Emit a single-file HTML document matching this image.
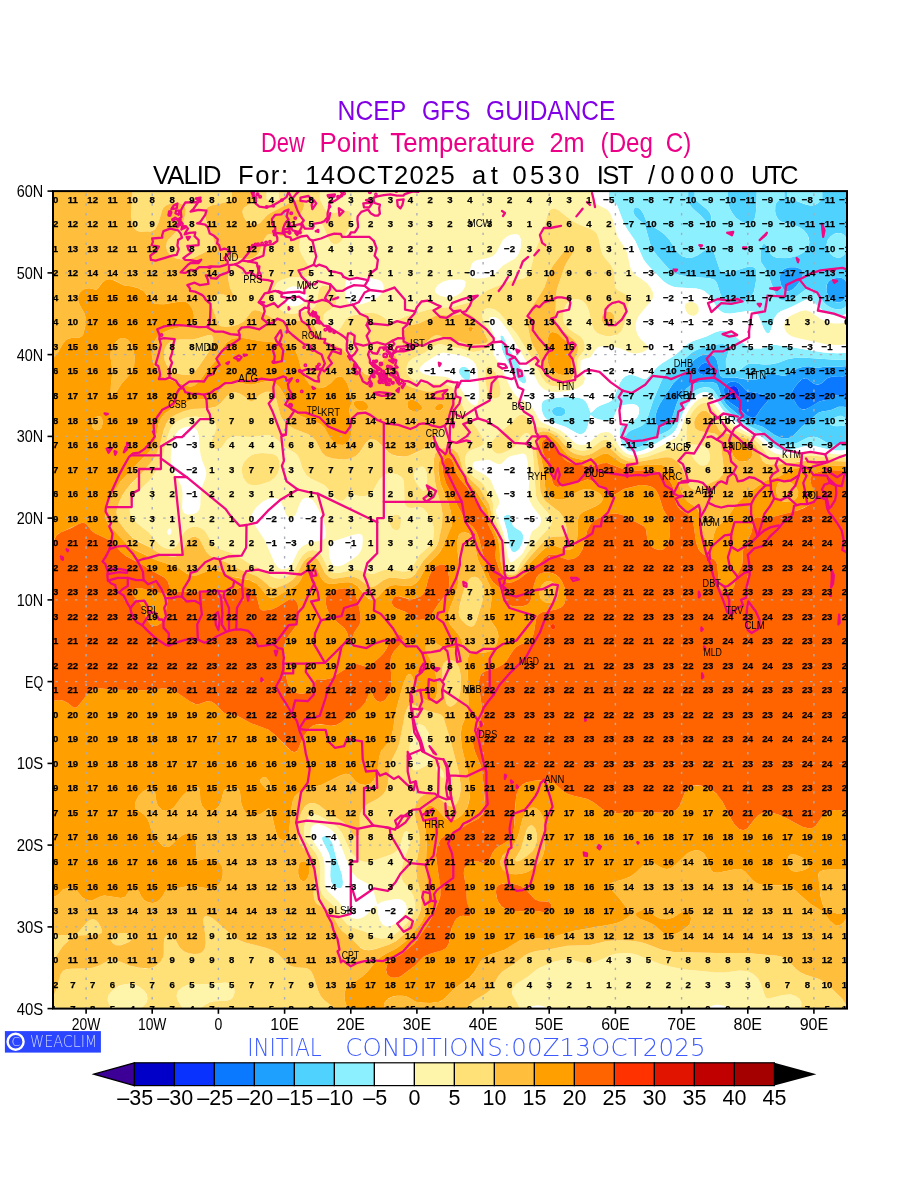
<!DOCTYPE html>
<html><head><meta charset="utf-8"><title>NCEP GFS GUIDANCE Dew Point</title>
<style>
html,body{margin:0;padding:0;background:#fff;}
svg{display:block;}
text{font-family:"Liberation Sans","DejaVu Sans",sans-serif;}
.thin{font-family:"DejaVu Sans",sans-serif;font-weight:200;}
.num text{font-size:9.6px;font-weight:bold;text-anchor:middle;fill:#000;stroke:#000;stroke-width:0.25px;}
.lab text{font-size:10px;fill:#000;}
</style></head><body>
<svg width="900" height="1200" viewBox="0 0 900 1200">
<rect width="900" height="1200" fill="#fff"/>
<defs><clipPath id="mapclip"><rect x="53.0" y="191.1" width="794.0" height="817.5"/></clipPath></defs>
<g clip-path="url(#mapclip)">
<g id="field">
<path fill="#0a32ff" fill-rule="evenodd" d="M731.2 397.5l3.3 1.3l1.7 -.1l1.8 -1.2l1 -2l.2 -2.1l-1 -4.1l-1.5 -2l-2.2 -1.2l-3.3 .2l-1.5 1l-1.2 2l0 4.1l.8 2.1z"/>
<path fill="#0a78ff" fill-rule="evenodd" d="M747.6 415.9l5.1 2l1.7 -.3l1.6 -1.1l5 -7.8l6.4 -7.1l.9 -2l.1 -2.1l-2.5 -1.9l-8.2 -2.5l-10 -1.6l-1.6 -1l-6.6 -6.9l-3.3 -1.7l-5 -.3l-3.3 1.3l-2.6 2.4l-1.4 4l.3 4.1l2 5l3.4 3.9l9.9 6.6zM731.2 397.5l-1.9 -2.1l-.8 -2l0 -4.1l1.2 -2l1.5 -1l3.3 -.2l2.2 1.2l1.5 2l1 4.1l-.2 2.1l-1 2l-1.8 1.2l-1.7 .1zM799.1 407.7l3.2 1.8l3.3 -.3l5 -2.3l8.3 -5.1l3.3 -1.1l6 -1.1l5.6 -3.4l3.3 -1.1l4.9 .6l5 2l0 -22.3l-6.6 1.6l-8.3 -.2l-3.3 .6l-1.6 .9l-5 4.7l-3.3 1.6l-1.7 .1l-3.3 -1l-6.6 -5l-1.7 -.5l-3.3 .9l-3.3 3l-4.4 5.2l-2.4 4.1l-.6 2l.2 2.1l1.7 4.1l3.8 6.1zM703.3 375l4.8 -.8l1.7 -1.2l1 -2.1l.2 -2l-1.3 -4.1l-1.7 -1.4l-1.6 -.6l-1.7 0l-3.3 1.5l-2.4 2.6l-1 2l-.1 2.1l.8 2l2.7 1.6z"/>
<path fill="#1ea0ff" fill-rule="evenodd" d="M781.9 438.4l5.6 .2l5 -2.2l9.8 -10.1l6.7 -5l6.6 -6.4l3.3 -2.4l3.3 -1.1l8.3 -1.2l8.2 -3.5l5 0l3.3 .9l0 -9.9l-5 -2l-4.9 -.6l-3.3 1.1l-5.6 3.4l-6 1.1l-3.3 1.1l-11.6 6.8l-3.3 1.1l-1.7 -.2l-3.3 -1.9l-3.1 -4l-3.4 -6.1l-.9 -4.1l1.7 -4.1l2.9 -4l4.5 -5l3.3 -2l3.3 .4l5 3.9l3.3 1.8l3.3 .2l3.3 -1.6l4.9 -4.7l1.7 -.9l3.3 -.6l8.3 .2l6.6 -1.6l0 -9.3l-6.6 .6l-14.9 -.1l-8.3 1.3l-8.2 -1.6l-5 .1l-6.6 2.2l-8.3 5.5l-3.3 1.4l-3.3 .3l-8.3 -1.7l-3.3 0l-3.7 .9l-7.9 3.8l-3.3 .7l-8.3 .2l-13.2 -2.3l-9.9 .6l-3.3 -.9l-1.3 -2.1l-2.9 -14.3l-2.4 -4.1l-1.7 -1.2l-3.3 -1.1l-6.6 .5l-5 2.1l-4.8 3.8l-10.1 13l-9.9 9.5l-13.3 20.4l-2.9 6.2l-1.7 6.1l-.1 6.1l1.5 3.2l1.6 1.1l3.3 .4l5 -1.6l3.3 -3l1.7 -2.8l5.1 -15.7l2.7 -6.1l7 -9.1l5 -3.6l5 -1.7l8.2 -1l8.3 .2l3.3 1.3l1.3 1.7l4.3 12.2l3.9 6.1l3.8 3.9l12.6 10.5l7.2 4.6l13.2 4.1l11.6 8.1zM704.7 375.1l-3.3 -.5l-2.7 -1.6l-.8 -2.1l.1 -2l1 -2l2.4 -2.6l3.3 -1.5l1.7 0l1.6 .6l1.7 1.4l1.3 4.1l-.2 2.1l-1 2l-1.8 1.3zM747.8 416l-8.3 -7.1l-9.9 -6.6l-3.4 -3.9l-2 -5l-.3 -4.1l1.4 -4l2.6 -2.4l3.3 -1.3l5 .3l3.3 1.7l6.6 6.9l1.6 1l10 1.6l8.2 2.5l2.5 1.9l-.1 2.1l-.9 2l-6.4 7.1l-5 7.8l-1.6 1.1l-1.7 .3zM833.8 301.5l4.9 1l3.3 -1l2.4 -2.1l2 -4.1l.6 -2.1l0 -9.3l-1.7 -3.6l-3.3 -2.2l-4.9 -.4l-5 1.3l-3.1 2l-1.9 2.9l-.7 5.3l.8 4.1l2 4.1l1.7 2zM786.7 291.2l2.4 0l4 -2l4.1 -4.1l3 -4.1l2.1 -4.1l.7 -4l-.7 -2.1l-2 -2l-4.6 -1.6l-6.6 0l-5 1.8l-3.3 3.6l-.7 2.3l-.3 4.1l1 5.4l2.7 4.8z"/>
<path fill="#50d2ff" fill-rule="evenodd" d="M629.5 446.6l2.5 1l3.3 .4l5.9 -1.4l3.6 -2.1l8.7 -6.9l11.5 -5.1l4 -2.3l2.7 -2.5l2.5 -3.6l6.7 -16.4l5.6 -8.7l5 -5.5l3.3 -2.8l5 -2.5l4.9 -1l5 .6l3.3 2l2.9 3.6l4.6 8.2l4.1 5.6l5 5l9.9 8.4l6.6 4.2l14.9 7l13.2 10l5 2.7l4.9 1.1l6.7 -.5l6.6 -2.4l9.9 -4.9l6.6 -1.1l5 1.3l7.6 4.5l5.2 2l7 .9l5.3 -.9l3 -1.9l0 -19.5l-.3 1l-3 1.6l-6.6 .5l-3.3 -.3l-3.3 -1.2l-1 -.6l-.4 -2.1l1.6 -2l3.2 -2l4.8 -2l1.7 -.2l1.6 .2l3.3 1.9l1.7 3.2l0 -13.5l-3.3 -.9l-5 0l-8.2 3.5l-8.3 1.2l-3.3 1.1l-3.3 2.4l-6.6 6.4l-6.7 5l-9.8 10.1l-5 2.2l-5 0l-6.6 -2.8l-13.3 -9.1l-13.2 -4.1l-7.2 -4.6l-12.6 -10.5l-3.8 -3.9l-3.9 -6.1l-4.3 -12.2l-1.3 -1.7l-3.3 -1.3l-8.3 -.2l-8.2 1l-5 1.7l-5 3.6l-7 9.1l-2.7 6.1l-5.1 15.7l-1.7 2.8l-3.3 3l-3.3 1.3l-5 -.1l-2.5 -2.2l-.8 -4.1l.7 -6.1l2.6 -7.3l13.4 -21.3l3.4 -4.1l8 -7.5l10.1 -13l4.8 -3.8l5 -2.1l6.6 -.5l3.3 1.1l1.7 1.2l2.4 4.1l2.5 13.4l1.7 3l3.3 .9l11.6 -.5l13.2 2.3l8.3 -.5l9.5 -4.3l3.7 -.9l3.3 0l8.3 1.7l3.3 -.3l3.3 -1.4l8.3 -5.5l6.6 -2.2l5 -.1l8.2 1.6l8.3 -1.3l14.9 .1l6.6 -.6l0 -6.7l-11.6 .4l-29.8 -2.1l-11.5 .3l-6.7 1.3l-9.9 3.7l-6.6 1.3l-6.6 .3l-9.9 -1.2l-5 .1l-3.3 1.4l-4.9 4l-3.4 1.8l-6.6 .7l-3.3 -1.2l-1.9 -3.3l-.1 -6.2l2.9 -10.2l0 -2l-.9 -2.1l-1.7 -1.3l-3.3 -1.1l-4.9 .3l-13.3 2.9l-6.6 2l-6.6 3.6l-11.6 10.2l-11.6 7.9l-3.7 4.1l-2.9 5.2l-8.9 21.4l-5.3 16.4l-1.8 4l-3.8 3.8l-11.6 5l-2.1 1.5l-1.6 2l-.8 2.1l-.2 4l1.7 4.1zM555.9 415.9l3.3 .5l3.3 -.6l2.3 -1.9l.7 -2.1l-.3 -2l-1.9 -2.1l-2.5 -.8l-3.3 -.2l-3.5 1l-1.8 2.1l-.2 2l.9 2.1zM830.5 307.6l5 1.7l4.9 0l3.3 -1.1l3.3 -2.7l0 -12.3l-1.3 4.2l-2 2.8l-3.3 2l-3.3 .2l-3.3 -1l-2.9 -2l-1.7 -2l-2 -4.1l-.8 -4.1l.3 -4.1l.8 -2l3 -3.2l3.3 -1.5l4.9 -.7l3.3 .4l3.3 2.2l1.7 3.6l0 -.8l0 -2.1l0 -2l0 -2.1l0 -2l0 -2l0 -2.1l0 -2l0 -2.1l0 -2l0 -2.1l0 -2l0 -2.1l0 -2l0 -2l0 -2.1l0 -2l0 -2.1l0 0l-1.2 4.1l-2.1 3.2l-3.3 1.9l-3.3 .2l-3.6 -1.2l-4.3 -4.1l-2.1 -4.1l-.5 -4.1l1.1 -4.1l2.8 -3.7l3.3 -2.3l3.3 -1l3.3 0l3.3 1.5l1.6 2l1.7 5.1l0 -50.6l-24.8 0l0 8.2l-5 4.4l-3.3 1.5l-3.3 .4l-5 -1.1l-9.9 -3.7l-8.2 -1.5l0 -8.2l-3.2 0l0 8.2l-3.5 .5l-3.1 1.5l-1.7 2.1l-.7 2l-.2 6.1l.9 4.1l2.5 4.1l2.9 2.1l16 4.5l3.4 1.6l2.8 2l3.4 4.1l1.8 4.1l.6 4.1l-.9 4.1l-4.5 5.7l-5 3.1l-8.2 2.5l-10 .5l-4.9 -.7l-3.3 -1.4l-3.2 -3.6l-3.5 -7.3l-1.6 -1.4l-1.7 .8l-1.6 5.2l-.6 8.8l.9 4.1l4.6 6.6l1.7 3.7l7.4 20.4l2.5 3.9l2.6 2.2l4 1.4l5 -.5l5.8 -2.9l10.7 -8l3.4 -1.1l1.6 0l3.3 1.5l1.7 1.5l8.2 11.1l3.3 3.1zM787.5 291.4l-3.3 -1.5l-3.1 -4.8l-1.3 -6.1l.3 -4.1l.7 -2.3l3.3 -3.6l5 -1.8l6.6 0l4.6 1.6l2 2l.7 2.1l-.1 2l-1.5 4.1l-4 5.9l-3.3 3.5l-3.3 2.2zM729.4 303.5l5.1 .5l6.6 -1l6.6 -2.8l3.4 -2.8l3 -6.2l1.9 -10.2l.2 -10.2l-.7 -2l-1.1 -1.2l-3.3 -1l-3.3 .1l-18.2 5.8l-3.4 .5l-3.3 -.4l-1.6 -1l-1.7 -2.4l-5.6 -16.8l-2.6 -3.8l-1.7 -.7l-3.3 1.4l-8.3 5.8l-4.9 2.1l-5 .7l-5 -1.2l-3.3 -2.1l-3.3 -3.3l-7 -11.2l-4.6 -5.3l-4.9 -3.9l-9.9 -5.9l-3.4 -2.8l-3.5 -8.6l-3.1 -4.7l-3.3 -1.6l-1.6 .2l-1.7 1.5l-.4 2.5l.4 1.8l1.7 3l3.3 3.4l5.3 4.1l1.2 2l5.1 18.3l3 6.3l4.6 6.1l10.8 12.3l5.3 4.1l6 2.4l10 1.5l19.8 1.4l5 1.7l2.2 3.2l3.2 10.2l1.8 4.1l3.5 4.1zM708 223.8l1.7 .1l1.6 -3.4l.1 -2.8l-1 -4.1l-3.3 -4.1l-12.4 -10.2l0 -8.2l-6.6 0l0 8.2l1.1 4.1l1.1 2l2.8 3.3l7.6 6.9zM741.3 221.8l4.8 1.8l3.3 .1l3.3 -1.6l1.6 -2.4l1.2 -4.1l.8 -6.1l.5 -18.4l-28.9 0l.1 10.2l.8 4.1l1.5 4.1l2.3 4.1l3.3 4.1z"/>
<path fill="#8cf0ff" fill-rule="evenodd" d="M337.4 888l3.4 0l1.8 -2l.4 -4.1l-1.2 -8.2l-5.1 -14.3l-4.3 -16.3l-3.2 -4.8l-1.8 -1.4l-3.1 -.8l-2 .8l-.3 2.1l.6 2l6.3 12.3l1.8 6.1l-.5 16.4l.7 5.7l2.8 4.5zM511.4 550.8l1.5 1.2l1.6 .2l3 -1.4l2 -2l3.1 -6.2l.6 -6.1l-.4 -2.2l-1.7 -2.7l-6.6 -4.4l-1.6 -1.8l-1.3 -3.2l-1.2 -6.1l-.9 -1.1l-1.6 -.4l-3.6 1.5l-.7 2l.2 2l3.1 10.3l2.7 15.9zM628.3 450.7l3.6 1.1l3.4 .2l8.2 -1.8l5 -2.4l23 -13.5l2.2 -2l2.9 -4.1l6.8 -16.4l5.1 -8.2l8 -8.3l3.3 -2l4.9 -1.3l3.3 .4l3.4 2l3.3 3.9l8.2 11.9l12.9 11.8l7 4.7l15.4 7.6l5.4 4.1l9 8.2l4.9 2.6l5 1.1l6.6 -.1l16.5 -4.2l5 -.4l5 .6l11.5 2.9l8.3 1.3l6.6 0l5 -1.1l0 -6.7l-3 1.9l-2 .6l-3.3 .3l-4.9 -.4l-7.3 -2.5l-9.3 -5.2l-3.3 -.6l-6.6 1.1l-9.9 4.9l-6.6 2.4l-6.7 .5l-4.9 -1.1l-5 -2.7l-13.2 -10l-14.9 -7l-7.3 -4.8l-9.6 -8.2l-4.6 -4.6l-4.1 -5.6l-4.6 -8.2l-2.9 -3.6l-3.3 -2l-3.3 -.6l-5 .5l-4.9 1.9l-3.3 2.4l-5 5l-6.6 9.5l-7.4 17.6l-2.5 3.6l-3.4 3l-13.2 6l-10.3 7.8l-3.6 2.1l-4.3 1.2l-4.9 -.2l-3.4 -1.7l-2.4 -3.4l-.7 -4.1l1.1 -4.1l2 -2.4l3.4 -2l9.4 -3.8l2.1 -1.5l2.2 -2.6l1.8 -4l5.3 -16.4l8.9 -21.4l3.3 -5.7l3.4 -3.6l11.5 -7.9l11.6 -10.2l6.6 -3.6l6.6 -2l13.3 -2.9l4.9 -.3l3.3 1.1l1.7 1.3l.9 2.1l0 2l-2.9 10.2l.1 6.2l1.9 3.3l1.7 .9l3.3 .4l4.1 -.6l2.5 -1l6.6 -5l3.3 -1.4l5 -.1l9.9 1.2l6.6 -.3l6.6 -1.3l10 -3.7l6.6 -1.3l11.5 -.3l29.8 2.1l11.6 -.4l0 -6.6l-9.9 .5l-13.3 -.9l-34.7 -5.7l-14.9 -1.9l-3.3 .2l-9.7 3.5l-6.8 -.1l-5 -1.2l-3.3 -1.7l-11.6 -9.8l-4.9 -3.3l-5 -1.6l-5 .2l-4.9 1.6l-8.3 3.8l-13.2 4.5l-5 2.6l-13.2 11.7l-13.3 8.3l-4.4 3.4l-10.5 11.6l-3.3 .5l-8.2 -3.3l-3.3 -.8l-3.4 0l-3.3 1.4l-3 2.8l-2.6 4.1l-5.7 14.3l-1.9 2.7l-3.3 2l-9 3.5l-3.4 2l-4.1 4.1l-1.7 .9l-2.6 -7l-2.2 -4.1l-2.1 -2l-4.7 -1.9l-9.9 -.7l-14.9 .9l-8.3 1.5l-3.3 2.2l-1.2 4.1l.7 6.1l1.7 4.1l3.7 4.1l3.9 2l14.4 4.9l11.6 6.6l3.3 .9l3.3 -1.3l2.2 -2.9l1.6 -4.1l1.2 -6.1l1.6 -5.1l4 3.1l4.3 1.5l4.9 .7l5 -.2l4.1 -2l1.4 -2.1l2.8 -6.6l1.6 -2.2l1.7 -1.1l3.3 -1l6.6 -.8l3.3 0l3.3 1l1.7 2.1l.6 2.5l-.4 4.1l-1.9 3.8l-3.3 2.8l-11.6 4.9l-1.6 2.1l-.8 2.7l.2 6.2l1.5 6.1l2.4 4.2zM555.9 415.9l-2.9 -2l-1 -2.1l.2 -2l1.8 -2.1l3.5 -1l3.3 .2l2.5 .8l1.9 2.1l.3 2l-.7 2.1l-2.3 1.9l-3.3 .6zM835.4 426.1l6.6 -.1l3.3 -.9l1.4 -1l.3 -3l-1.6 -3.1l-3.4 -2l-3.3 0l-4.8 2l-3.2 2l-1.6 2l.4 2.1l2.6 1.3zM522.6 383.2l1.9 .4l.7 -.4l.9 -1.8l-.2 -2.3l-1.5 -4.7l-17.9 -30l-2.1 -6.1l-1.2 -2.1l-1.9 -1l-1 1l1.5 12.3l1.2 4.1l6.6 13.4l4.9 8.7l5 6.3zM466.4 381.2l1.8 .3l1.6 -2.4l.4 -4.1l-.7 -4.1l-1.3 -2.2l-1.7 -1.3l-1.6 -.6l-3.3 .3l-2.2 1.8l-.7 2.1l.4 2l2.6 4.1zM765.8 332.1l1.8 1.4l1.7 -.7l1.6 -3.1l3.6 -11.9l3 -4.4l3.3 -2.2l11.6 -4.8l13.2 -6.7l3.4 -.1l3.3 1.5l9.9 8.9l3.3 2.3l5 2.3l4.9 1.1l5 0l3.3 -.7l3.3 -1.8l0 -7.7l-3.3 2.7l-3.3 1.1l-5 0l-4.9 -1.7l-3.4 -2.1l-3.3 -3.1l-8.2 -11.1l-1.7 -1.5l-3.3 -1.5l-1.6 0l-3.4 1.1l-11.5 8.5l-6.6 2.8l-3.4 .1l-4 -1.4l-2.6 -2.2l-2.5 -3.9l-7.4 -20.4l-1.7 -3.7l-4.6 -6.6l-.6 -2l.2 -10.2l1.7 -5.9l1.7 -.8l1.6 1.4l3.5 7.3l1.4 2.1l2.6 2l5.8 1.5l6.6 .2l9.8 -1.7l6.7 -3.3l5 -4.9l1.2 -2l.9 -4.1l-1.3 -6.1l-2.5 -4.1l-3.3 -3.1l-4.9 -2.6l-14.9 -4l-3.3 -2l-2.2 -2.6l-1.9 -6.2l.2 -6.1l.7 -2l1.7 -2.1l3.1 -1.5l3.5 -.5l0 -8.2l-27.5 0l-.3 16.3l-1.5 10.3l-2.3 4.4l-1.6 1.1l-3.4 .6l-3.3 -.7l-4.9 -2.5l-3.6 -2.9l-3.3 -4.1l-2.3 -4.1l-2 -6.1l-.4 -12.3l-33.1 0l0 8.2l12.4 10.2l3.3 4.1l.7 2l.3 4.1l-.5 2.1l-1.3 2.1l-1.7 -.1l-1.6 -1.6l-5 -5.9l-8.2 -7.6l-2.8 -3.3l-1.1 -2l-1.1 -4.1l0 -8.2l-79.4 0l0 8.2l5 2.7l3.3 3.6l7 18.2l2.9 5.2l8.3 12.1l8.2 18.3l4 5.3l15.9 16.6l5 3.5l4.9 1.9l5 .7l18.2 1.1l4.9 1.2l3.3 1.5l4.5 4.1l8.8 13.6l3.3 2.8l3.3 1.5l6.6 .3l16.5 -2.5l3.4 .2l3.3 .9l2.4 1.6l1.7 2.1l4.1 10.6zM729.6 303.5l-4.1 -2.1l-3.6 -4l-1.8 -4.1l-3.2 -10.2l-2.2 -3.2l-5 -1.7l-19.8 -1.4l-10 -1.5l-6 -2.4l-5.3 -4.1l-10.8 -12.3l-4.6 -6.1l-3 -6.3l-5.1 -18.3l-1.2 -2l-5.3 -4.1l-3.3 -3.4l-1.7 -3l-.4 -1.8l.4 -2.5l1.7 -1.5l1.6 -.2l3.3 1.6l3.1 4.7l3.5 8.6l3.4 2.8l9.9 5.9l4.9 3.9l4.6 5.3l7 11.2l3.3 3.3l3.3 2.1l5 1.2l5 -.7l4.9 -2.1l8.3 -5.8l3.3 -1.4l1.7 .7l2.6 3.8l5.6 16.8l1.7 2.4l1.6 1l3.3 .4l3.4 -.5l18.1 -5.8l3.4 -.1l3.3 1l1.1 1.2l.7 2l-.2 10.2l-1.9 10.2l-3 6.2l-3.4 2.8l-6.6 2.8l-6.6 1zM833.5 256.5l3.6 1.2l3.3 -.2l3.3 -1.9l2.1 -3.2l1.2 -4.1l0 -6.6l-1.7 -5.1l-1.6 -2l-1.7 -1l-3.3 -.6l-4.9 1.1l-2.9 2l-1.9 2l-1.8 3.6l-.5 4.6l1.3 4.1l2.8 4.1zM809.1 205.4l3.2 .1l3.3 -.9l3.3 -2l3.3 -3.3l0 -8.2l-34.7 0l0 8.2l9.9 2z"/>
<path fill="#ffffff" fill-rule="evenodd" d="M529.4 1008.6l1.7 0l18.1 0l-6.6 -2.5l-4.9 -.9l-5 .8zM708 1008.6l1.7 0l18.1 0l-1.7 -1.5l-3.3 -1.6l-4.9 -.7l-3.3 .2l-3.3 1zM783.3 1008.6l.8 0l3.4 0l-1.7 -.2zM383 924.8l4.1 1.8l3.3 -.4l5 -2.8l5 -4.2l4 -4.6l2 -4.1l.3 -4.1l-1.4 -3.6l-3.3 -2.8l-3.3 -1l-3.3 -.1l-9.9 1.8l-4.6 1.6l-3.7 2.3l-3.3 -12.5l-3.3 -6.1l-3.3 -2.6l-9.9 -5.1l-5 -5.6l-6.6 -14.5l-6.4 -17.2l-3.5 -6.5l-5 -5l-6.6 -3.8l-6.6 -1.9l-3.9 .9l-2 2l-1 2l-.3 6.2l2.6 6.1l8.2 12.3l2.4 6.1l.9 6.1l.1 18.4l1.2 4.1l1.7 3.1l11.6 11.2l8.2 12.4l5 3.6l5 .7l3.3 -.7l3.3 -1.5l2.9 -2.2l8.7 -9.3l1 1.1l2.7 12.3l1.9 4.1zM337.5 888.1l-3.9 -2.1l-2.7 -4.5l-.7 -5.7l.5 -16.4l-1.8 -6.1l-6.3 -12.3l-.6 -2l.3 -2.1l2 -.8l3.1 .8l1.8 1.4l3.2 4.8l4.3 16.3l5.1 14.3l1.2 8.2l-.4 4.1l-1.8 2zM281.3 569.2l5 -.2l3.2 -2.1l3.4 -4.8l4.9 -10.5l2.1 -2.8l2.9 -2.8l6.6 -3l13.2 -3l2.1 -1.5l.8 -2l.3 -4.1l-.7 -6.1l-3.2 -10.2l-6.4 -12.3l-2.8 -3.5l-3.3 -2.1l-3.3 -.5l-1.7 .4l-2.3 1.6l-2.4 4.1l-3.8 10.2l-1.5 2.1l-3.2 2l-1.7 -.2l-1.6 -1.1l-1.7 -2.4l-5.2 -12.6l-3 -2.9l-3.3 -1.1l-5 .4l-7.3 3.6l-6.7 6.1l-3.7 6.1l-.5 4.1l1.3 4.1l12.1 18.4l9.7 22.5l3.1 4zM333.2 565.1l2.7 1.3l1.6 .2l5 -1.2l4.3 -2.3l11.2 -8.2l2.9 -4.1l1.4 -4.1l.6 -8.2l-.6 -2.9l-.9 -1.1l-2.4 -.7l-6.6 1.2l-18.2 6.1l-3.3 1.5l-1.6 2.1l-.5 2l0 6.1l1.7 8.2zM509.2 561l.3 .8l1.7 .8l1.7 -.8l6.6 -5.2l3.3 -3.6l5.6 -10.4l2.7 -9.3l1.6 -2.5l3.3 -2l2.7 -2.5l1.4 -2.1l.9 -2.9l-.2 -3.2l-.8 -2l-7.9 -10.3l-2.9 -6.1l-.7 -6.1l.8 -12.3l-1.8 -20.4l-1.4 -5.3l-1.7 -1.7l-1.6 -.3l-9.9 1.9l-3.3 1.1l-3.2 2.2l-5.1 4.9l-1.7 .5l-3.3 -.7l-6.6 -3.4l-3.3 -.4l-11.6 1.7l-1.7 1.5l-.5 2.1l.3 2l1.9 2.4l9.9 5.4l5 4l1.6 2.5l3.4 8.8l3.8 7.6l1 4.1l-.2 2l-3.4 6.1l.4 3.7l7.6 20.9l4 22zM512.9 552l-1.7 -1.4l-1.6 -4.3l-2.7 -15.9l-3.1 -10.3l-.2 -2l.7 -2l3.6 -1.5l1.6 .4l.9 1.1l1.2 6.1l1.3 3.2l1.6 1.8l6.6 4.4l1.7 2.7l.4 2.2l-.6 6.1l-3.1 6.2l-3.3 2.9l-1.7 .5zM168 534.5l.8 .6l1.8 -.6l.9 -4.1l-1.1 -2.1l-1.6 .4l-1.2 1.7l-.5 2zM185.3 514l3.4 .7l4.9 -.6l3.3 -1.7l2.2 -2.5l1.2 -4.1l.5 -14.3l1 -4.1l4 -10.2l.6 -4.1l-.8 -4.1l-3.3 -8.1l-1.7 -6.2l-1.1 -8.1l-.7 -10.2l-.9 -4.1l-1 -2.1l-2 -2l-3 -1.3l-3.3 -.4l-3.3 .4l-3.5 1.3l-3.1 2.1l-3.2 4l-1.8 4.1l-1.6 6.1l-1.3 12.3l.1 6.1l1.2 6.1l1.8 4.1l5.2 8.2l2.6 6.1l.9 6.2l-.5 14.3l1 4.1zM629.5 454.7l7.4 .5l9.9 -2.3l6.7 -3l21.5 -11.6l2.1 -1.9l2.7 -4.1l5.7 -16.4l4.4 -7.5l3.9 -4.8l4.3 -4l3.3 -1.9l3.3 -.7l3.3 .6l3.4 2.6l9.9 13.2l9.9 9.5l7.6 5.3l17.2 8.6l4.6 3.6l8.7 9.4l4.9 3.2l5 1.4l6.6 .3l6.6 -.7l13.2 -2.8l5 -.3l24.8 3.4l6.6 .1l5 -.7l0 -4.4l-5 1.1l-6.6 0l-6.6 -1l-16.5 -3.7l-6.7 .3l-11.5 3.3l-6.6 1.1l-6.7 -.3l-4.9 -1.6l-5 -3.2l-11.6 -10.2l-17.5 -9l-7.3 -5.1l-11.6 -10.8l-10.4 -14.7l-2.8 -2.3l-3.3 -1.1l-3.3 .1l-5 2l-3.3 2.5l-4.9 5.2l-3.4 4.4l-3.1 5.5l-6.8 16.4l-1.6 2.5l-3.3 3.5l-24.7 14.4l-5.1 2.2l-5 1.1l-4.9 -.1l-3.4 -1l-3.2 -2.2l-1.7 -1.9l-3.1 -6.3l-1.1 -8.1l.6 -4.1l1.9 -2.8l11.6 -4.9l3.3 -2.8l1.9 -3.8l.4 -4.1l-.6 -2.5l-1.7 -2.1l-3.3 -1l-3.3 0l-6.6 .8l-3.3 1l-1.7 1.1l-1.6 2.2l-2.8 6.6l-1.4 2.1l-4.1 2l-5 .2l-4.9 -.7l-4.3 -1.5l-4 -3.1l-1.6 5.1l-1.2 6.1l-1.6 4.1l-2.2 2.9l-3.3 1.3l-3.3 -.9l-11.6 -6.6l-14.4 -4.9l-3.9 -2l-2.3 -2l-2.4 -4.1l-1.1 -4.1l-.3 -4.1l1.2 -4.1l1.7 -1.5l3.3 -1.2l16.5 -1.8l13.3 .3l4.9 1.4l3.5 2.8l2.2 4.1l2.6 7l1.7 -.9l4.1 -4.1l3.4 -2l9 -3.5l3.3 -2l1.9 -2.7l5.7 -14.3l2.6 -4.1l3 -2.8l3.4 -1.4l3.3 0l3.3 .8l8.2 3.3l3.3 -.5l10.5 -11.6l4.4 -3.4l13.3 -8.3l13.2 -11.7l5 -2.6l13.2 -4.5l8.3 -3.8l4.9 -1.6l5 -.2l5 1.6l4.9 3.3l11.6 9.8l3.3 1.7l5 1.2l6.8 .1l9.7 -3.5l3.3 -.2l14.9 1.9l34.7 5.7l13.3 .9l9.9 -.5l0 -8.4l-9.9 .7l-9.9 -.7l-31.5 -6.9l-4.9 -1.8l-3.3 -2.2l-2.5 -3.4l-.8 -4.1l.7 -4.1l3 -4.1l6.6 -4.1l7.8 -3l3.3 -.4l3.4 .7l14.8 9.7l6.7 2.1l4.9 .7l6.6 -.1l5 -1.5l0 -8.7l-3.3 1.8l-3.3 .7l-5 0l-4.9 -1.1l-5 -2.3l-3.3 -2.3l-9.9 -8.9l-3.3 -1.5l-3.4 .1l-13.2 6.7l-11.6 4.8l-3.3 2.2l-3 4.4l-3.6 11.9l-1.6 3.1l-1.7 .7l-1.7 -1.1l-1.6 -2.4l-5.8 -14.2l-1.7 -2.1l-2.4 -1.6l-3.3 -.9l-3.4 -.2l-18.1 2.7l-3.4 -.1l-3.3 -1l-4.9 -3.7l-8.8 -13.6l-4.5 -4.1l-3.3 -1.5l-4.9 -1.2l-18.2 -1.1l-5 -.7l-6.6 -2.9l-5 -4l-14.2 -15.1l-4 -5.3l-8.2 -18.3l-8.3 -12.1l-2.9 -5.2l-7 -18.2l-3.3 -3.6l-5 -2.7l0 -8.2l-16 0l0 8.2l1.1 2.3l3.3 2.8l9.8 5.1l3.5 4.2l2.4 6l4.5 16.4l2.1 4l5.6 8.2l1.9 4.1l3.1 14.3l1.7 4.1l3.6 4.1l11.5 8.2l3.4 4.1l2.2 4l.9 4.1l-1.1 4.1l-13.5 16.4l-2.1 4.1l-.9 4l.2 6.2l1.3 4.1l2.9 4.6l8.3 7.6l-.3 2.1l-2.4 2l-3.9 2l-6.6 1.1l-5 -.8l-9.9 -4.2l-6.6 -1.5l-10 -1.1l-4.9 .8l-3.3 2.7l-5 7.4l-1.6 .9l-5 .9l-3.4 2l-.3 10.2l4.4 6.2l.3 2l-1.5 4.1l-1.7 2.1l-4.4 2.9l-8.3 2.5l-11.6 1.2l-8.2 -.5l-5.5 -2.1l-4.5 -4.4l-9.2 -18l-7.9 -12.3l-13.3 -22.5l-7.6 -10.5l-3.3 -3.1l-3.3 -1.6l-1.7 -.2l-3.3 1.2l-1.1 2l-.2 2l1.3 4.3l5.7 12.1l-.2 4l-2.2 8.2l.5 4.1l8.4 14.3l9.3 20.1l3.3 5.2l3.3 3.3l9.9 5.7l3.4 2.8l2.6 3.8l4.1 8.2l3.2 3.7l4.2 2.4l15.6 6.5l5 3.7l8.3 8l3.3 1.9l3.3 .9l4.9 -.5l3.4 -1.6l8.2 -7.7l3.3 -2.2l5 -1.2l3.3 .4l3.1 2l1.9 2.3l5.4 10l2.8 3.5l3.3 2.8zM693.2 315.8l-3.3 -.8l-1.7 -1.1l-2.7 -4.3l-.6 -4.1l1.1 -2l2.2 -1.3l3.3 -.4l3.3 1l2.9 2.8l.9 2l-.1 4.1l-1.2 2l-2.5 1.8zM522.8 383.3l-3.3 -2.4l-5 -6.2l-4.9 -8.7l-6.6 -13.4l-1.2 -4.1l-1.5 -12.3l1 -1l1.9 1l1.2 2.1l2.1 6.1l17.9 30l1.5 4.7l.2 2.3l-.9 1.8l-.8 .4zM471 403.6l2.2 1.4l1.6 .4l1.7 -.4l1.6 -2.2l.9 -5.3l-.2 -10.2l-1.4 -16.4l-1.5 -6.1l-3.1 -4.1l-4.6 -2.6l-8.3 -2.8l-16.5 -2.7l-3.3 .8l-5 2.7l-10.3 6.7l-4.4 4.1l-.9 2l.4 2.1l2.1 2l3.2 1.5l4.9 1.2l14.9 1l3.3 1l3.4 1.8l4.4 3.7l3.6 4.1l8.5 13.3zM466.5 381.2l-4.8 -4.2l-2.6 -4l-.4 -2l.7 -2.1l2.2 -1.8l3.3 -.3l1.6 .6l1.7 1.3l1.3 2.2l.7 4.1l-.3 4l-1.7 2.4zM289.2 305.6l3.7 .8l4.9 -.7l4.6 -2.2l2.3 -2l1.4 -2.3l.6 -3.9l-1.5 -4.1l-1.9 -2l-3.8 -2.1l-5 -.8l-5 .8l-3.3 2.1l-2.7 4.1l-.4 4.1l1.5 4.2l1.6 2zM349.4 303.5l4.6 1.6l6.7 -.6l8.8 -3l7.7 -4.1l2.6 -2.1l3 -4.1l.9 -4l-1.2 -4.1l-1.8 -2.1l-1.8 -1l-8.3 -1.9l-14.9 -.8l-4.9 .4l-3.4 1.3l-1.6 2l-.6 2.1l-.2 8.1l1.6 8.2l1 2.1zM446.2 297.4l3.8 0l3.3 -.7l3.7 -1.4l3.2 -2l2.1 -2.1l2.5 -4l1 -4.1l-.6 -2.1l-2 -1.1l-3.3 -.5l-9.9 .3l-6.6 1.9l-5.6 3.5l-2.7 4.1l0 2l1.1 2.1l3.9 2.5zM470.5 276.9l2.6 1.3l5 .5l6.6 -.7l5 -1.3l6.2 -3.8l7 -7.3l12.1 -7.1l3.4 -4l2.3 -6.2l.5 -8.2l-1.7 -4.5l-1.7 -1l-3.3 -.5l-3.3 .6l-3.6 1.4l-4.7 4l-6.6 12.5l-3.3 3.5l-5 2l-11.5 2.2l-3.3 1.8l-1.9 2.6l-1.1 4.1l-.3 6.1z"/>
<path fill="#fff5aa" fill-rule="evenodd" d="M53 1008.6l1.7 0l5.2 0l-1.9 -.9l-5 -.6zM110.6 1006.6l1.9 2l27.6 0l3.1 -2l3.4 -4.1l1 -4.1l-.2 -2.1l-1.8 -4l-1.7 -2.1l-3.2 -2.7l-3.3 -1.9l-6.7 -1.7l-4.9 .1l-3.3 .8l-7.1 3.4l-2.7 2l-3.7 4.1l-1 2l-.4 4.1l.6 2.1zM181.4 1006.6l1.3 2l17.9 0l6.2 -4.9l5 -2l16.7 -1.3l3.2 -1.7l1.7 -2.4l1.2 -4l-.4 -4.1l-.9 -2.3l-1.7 -1.8l-4.9 -1.6l-16.6 1.7l-16.5 -.3l-6.6 1.2l-3.3 1.4l-3.3 2.1l-3.1 3.6l-.6 2.1l.3 4.1zM480.6 1008.6l.8 0l12.6 0l-2.6 -1.7l-3.4 -.4l-3.3 .5zM518.9 1006.6l.8 2l9.7 0l3.3 -2.6l5 -.8l4.9 .9l6.6 2.5l158.8 0l3.4 -2.6l3.3 -1l3.3 -.2l4.9 .7l3.3 1.6l1.7 1.5l73.3 0l.3 -4.1l-.8 -4.1l-1.3 -2l-2.8 -2.1l-4.2 -1.4l-8.3 -.3l-14.8 3.9l-1.7 .1l-1.7 -.6l-1.6 -3l-3.3 -10.9l-3.3 -6.1l-4.4 -4.1l-5.5 -2.6l-8.3 -.8l-14.9 1.9l-8.3 .2l-31.4 -3.1l-11.6 -2.2l-13.2 -3.4l-24.8 -9.6l-5 -1l-6.6 -.4l-6.2 .5l-5.4 1.3l-14.9 6.6l-6.6 1.9l-6.6 -.1l-11.6 -3l-6.6 -.6l-11.1 2.1l-12.1 4.4l-6.2 3.8l-8.7 6.9l-9.9 6.1l-3.3 2.8l-1.6 2.4l-.8 2.2l.1 4.1zM827.1 1008.6l9.9 0l.7 0l-5.6 -1.1zM374.3 937.1l4.6 1.3l4.9 0l5 -1.1l5 -2.4l5.1 -4l8.3 -8.1l4.7 -6.2l2 -4.1l1.1 -4l.2 -4.1l-1.6 -8.2l-3.3 -6.2l-7 -8.1l-1.2 -2.1l-1.1 -4l.5 -6.2l2.4 -10.2l4.7 -11.7l1.7 -5.9l0 -4.9l-1.6 -4.1l-1.7 -1.6l-1.7 .1l-1.3 1.5l-4.5 14.3l-2.4 3.5l-3.3 2.6l-3.4 1.6l-18.1 6.3l-5 .8l-3.3 -.2l-3.3 -1l-3.3 -1.9l-5 -5l-3.3 -5.4l-7.3 -15.6l-5 -6.1l-5.9 -4.4l-11.6 -6.6l-4.9 -1.5l-3.3 .4l-3.4 2.7l-2.6 5.3l-1.2 6.1l.2 6.2l2.1 6.1l9.6 12.3l3.5 7.4l1 6.9l-.6 18.4l.7 4.1l1.7 4.1l3.1 4l9.2 8.2l8.1 12.5l4.9 5.5l5 3l13.2 4.6zM383.8 925.4l-1.7 -1.5l-2 -3.2l-2 -6.1l-1.5 -8.2l-1 -1.1l-8.7 9.3l-2.9 2.2l-3.3 1.5l-3.3 .7l-5 -.7l-5 -3.6l-8.2 -12.4l-11.6 -11.2l-1.7 -3.1l-1.2 -4.1l-.1 -18.4l-.9 -6.1l-2.4 -6.1l-8.2 -12.3l-2.6 -6.1l.3 -6.1l1 -2.1l2 -2l3.9 -.9l6.6 1.9l6.6 3.8l5 5l3.5 6.5l6.4 17.2l6.6 14.5l5 5.6l9.9 5.1l3.3 2.6l3.3 6.1l3.3 12.5l3.7 -2.3l4.6 -1.6l9.9 -1.8l3.3 .1l3.3 1l3.3 2.8l1.4 3.6l-.3 4.1l-2 4.1l-3.5 4.1l-5.5 4.7l-5 2.8l-3.3 .4zM442.2 777.7l1.2 .4l.5 -.4l.4 -2.1l-.9 -3.2l-3.3 -4.4l-1.7 -1.1l-1.6 -.2l-.6 .7l.2 2.1l.8 2l2.6 4.1zM413 769.5l2.3 .8l3.3 -.9l11.6 -6l2.1 -2.1l.3 -4.1l-.9 -8.2l-1.6 -10.2l-1.6 -6.1l-3.3 -5.5l-1.7 -1.4l-3.3 -1.5l-3.3 .3l-3.3 3.2l-1.6 3.7l-1.7 7.3l-.8 10.2l.3 10.3l1 6.1l1.2 3zM273.2 577.4l3.1 1l5 0l4.9 -1.4l3.3 -1.8l2.3 -1.9l2.7 -3.6l5 -9.8l3.3 -4.9l4.9 -3.8l5 -1.1l3.3 .6l3.5 2.1l3.1 4.4l5.7 12l2.6 2.6l3.3 1.3l5 0l11.6 -2.9l3.3 -.4l4.9 .5l11.6 3.8l3.3 -.4l8.3 -3.3l4.9 -1l5 .2l9.9 2l5 -.3l3.3 -1.8l1.7 -1.8l7.4 -12.8l9.1 -7.9l3.3 -4.4l1.5 -4.1l.6 -4l-.2 -6.2l-.9 -4.1l-4.3 -9.1l-5 -6.7l-3.3 -1.3l-8.2 .8l-3.4 -.2l-2.7 -1.9l-.9 -2l-.6 -4.1l-.4 -18.4l-2.1 -4.1l-4.8 -3l-6.7 -1.3l-3.3 .6l-3.5 1.7l-4.7 5l-6.6 11.6l-3.4 2.9l-3.3 1.2l-4.9 .3l-4 -.6l-5.9 -2l-1.7 .5l-5 5.8l-1.6 .8l-3.3 0l-5 -3l-6.6 -9.4l-2.8 -2.9l-3.3 -2l-10.4 -4.7l-4.6 -3.5l-3.9 -6.2l-3.1 -10l-2.3 -4.3l-2.7 -2.3l-9.9 -5.1l-6.4 -6.9l-5.2 -3.9l-3.3 -1.2l-3.3 -.3l-14.9 2.1l-14.9 -.8l-4.9 .5l-3.1 1.6l-1.9 1.9l-5 6.9l-1.8 1.4l-3.1 .8l-1.7 -.3l-1.6 -1.3l-1.7 -3.3l.1 -4.1l4.5 -12.2l-.5 -4.1l-2.4 -3l-1.7 -1.1l-5.4 -2l-11.1 -1.6l-10 1.4l-8.2 3.5l-5 4.6l-2.4 4.3l-2 6.2l-5.5 21.7l-2.9 6.9l-3.7 6.7l-6.7 9.5l-13.2 12.3l-4 6.2l-1.8 6.1l-.3 4.1l.8 4.1l2 4.1l5 5.5l11.5 8.9l10.5 12.2l4.4 3l5 1.4l3.3 -.3l3.6 -2.1l2.9 -4.1l5.1 -9.8l3.3 -3.5l3.3 -1.8l3.3 -.7l3.3 0l3.3 .9l3.3 2l1.7 1.6l6.6 11.3l1.7 2.2l3.3 2.7l3.3 1.7l11.6 3.7l4.9 2.2l11.6 8l14.9 7zM281.3 569.2l-3.5 -2l-3.2 -4.1l-9.7 -22.5l-12.1 -18.4l-1.3 -4.1l.5 -4.1l3.7 -6.1l6.7 -6.1l7.3 -3.6l5 -.4l3.3 1.1l3 2.9l5.2 12.6l1.7 2.4l1.6 1.1l1.7 .2l3.2 -2l1.5 -2.1l3.8 -10.2l2.4 -4.1l2.3 -1.6l1.7 -.4l3.3 .5l3.3 2.1l2.8 3.5l6.4 12.3l3.2 10.2l.7 6.1l-.3 4.1l-.8 2l-2.1 1.5l-13.2 3l-6.6 3l-2.9 2.8l-2.1 2.8l-4.9 10.5l-3.4 4.8l-3.3 2.1zM334.2 565.8l-1.7 -1.3l-1.6 -2.6l-1.9 -7l-.2 -8.2l.5 -2l1.6 -2.1l3.3 -1.5l18.2 -6.1l6.6 -1.2l2.4 .7l.9 1.1l.6 2.9l-.6 8.2l-1.4 4.1l-2.9 4.1l-5.2 4.1l-9.6 6.1l-5.7 1.5zM392.1 528.3l-2.1 -4.1l-.2 -4.1l.6 -2l1.7 -2l1.7 -.9l3.3 -.6l1.6 .5l1.7 2l.6 3l-.6 6.9l-1.7 2.4l-1.6 .8l-1.7 0zM168.8 535.1l-.8 -.6l-.9 -2.4l.5 -1.7l1.2 -1.7l1.6 -.4l1.1 2.1l-.1 2l-1 2.2zM185.3 514l-2.2 -2.1l-1 -4l.5 -14.3l-.9 -6.2l-2.6 -6.1l-5.2 -8.2l-1.8 -4.1l-1.2 -6.1l-.1 -6.1l1.3 -12.3l1.6 -6.1l1.8 -4.1l3.2 -4l3.1 -2.1l3.5 -1.3l3.3 -.4l3.3 .4l3 1.3l2 2l1 2.1l.9 4.1l.7 10.2l1.1 8.1l1.7 6.2l3.3 8.1l.8 4.1l-.6 4.1l-4 10.2l-1 4.1l-.5 14.3l-1.2 4.1l-2.2 2.5l-3.3 1.7l-5 .6zM248.2 483.6l-2.6 -2.3l-2.4 -3.7l-1.6 -6.5l.4 -4.1l1.2 -3.3l1.7 -2.8l3.3 -3.5l3.3 -2.2l3.3 -1.3l6.6 -.9l10 .7l3.3 1.1l2.7 2l2 4.1l.3 6.1l-1.7 6.1l-3.3 4.7l-5 3.6l-9.9 3.4l-6.6 .5zM508.4 571.2l2.8 1.3l1.7 -.1l2.6 -1.2l1.9 -2l3 -6.1l9 -12.7l9.9 -12.2l9.3 -9.9l2.7 -4.1l.5 -2l.1 -2.1l-1.4 -4l-11.2 -13.3l-1.9 -3.1l-1.5 -4.1l-2.7 -38.8l-2.1 -15.1l-1.7 -7.3l-1.7 -1.5l-3.3 .8l-3.3 3.1l-4.7 7.7l-1.9 2.2l-3.3 2.4l-9.9 4.5l-3.3 .2l-2.5 -1.1l-2.5 -2l-2.7 -4.1l-.1 -2.1l1 -2l5.1 -6.1l5 -5.1l9.9 -8.3l5 -5.6l3.3 -2.3l3.3 -.5l3.3 1.3l3.3 4.1l3.3 6.1l1.7 .8l8.2 .6l5 1.1l8.5 3.7l6.4 4.7l8.8 9.6l2.8 1.9l3.3 1.4l4.9 .8l5 -.7l5 -2.5l8.2 -6.3l3.3 -1.4l3.3 -.1l3.4 1.7l8.2 10.1l5 4.2l5 2.2l6.6 .7l6.6 -.7l6.6 -1.7l23.2 -8.5l14.8 -2.4l1.7 1.8l3.2 7.6l3.9 6.2l4.5 4l3.3 .8l3.3 -1l1.6 -1.6l1.2 -2.2l.6 -2.1l0 -4.1l-1.2 -4l-1.4 -2.1l-2.4 -2l-3.4 -1.3l-4.9 -.6l-8.3 -.2l-1.5 -4.1l-.4 -8.1l1.3 -10.3l3.5 -8.1l3.7 -4.9l3.3 -3.3l3.3 -2.1l3.3 -.8l3.2 .8l1.8 1.4l9.9 12.6l8.3 8.2l6.7 4.4l14.5 6.2l5.3 3.1l5.2 5l7.5 10.2l2.2 1.8l3.3 1.5l4.9 1l6.6 .1l21.5 -3.3l5 -.2l23.2 2.1l9.9 .2l3.3 -.3l0 -3.9l-5 .7l-6.6 -.1l-24.8 -3.4l-5 .3l-13.2 2.8l-6.6 .7l-6.6 -.3l-5 -1.4l-4.9 -3.2l-8.7 -9.4l-4.6 -3.6l-17.2 -8.6l-7.6 -5.3l-9.9 -9.5l-9.9 -13.2l-3.4 -2.6l-1.6 -.5l-3.3 .1l-4.8 2.4l-3.5 2.9l-4.5 5.2l-4.8 8.2l-5.7 16.4l-2.7 4.1l-2.1 1.9l-23.2 12.4l-6.6 2.8l-6.6 1.6l-5 .3l-3.3 -.4l-3.3 -1.2l-3.3 -2.1l-4.5 -5.1l-5.6 -10.2l-1.7 -2.1l-3.1 -2l-3.3 -.4l-5 1.2l-3.3 2.2l-8.2 7.7l-3.4 1.6l-4.9 .5l-3.3 -.9l-3.3 -1.9l-8.3 -8l-5 -3.7l-16.5 -7l-2.9 -1.6l-2.1 -1.9l-5.6 -10.3l-2.6 -3.8l-3.4 -2.8l-9.9 -5.6l-3.8 -4.2l-4.4 -7.5l-8.3 -18.1l-7.8 -13.2l-.5 -4.1l2.2 -8.2l.2 -4.1l-6.6 -14.3l-.2 -4l1.2 -2.1l1.6 -.9l3.3 0l3.3 1.6l3.5 3.4l7.4 10.2l13.3 22.5l7.9 12.3l9.2 18l4.5 4.4l5.5 2.1l8.2 .5l11.6 -1.2l8.3 -2.5l4.4 -2.9l1.7 -2.1l1.5 -4.1l-.3 -2l-4.4 -6.2l.3 -10.2l3.4 -2l5 -.9l1.6 -.9l5 -7.4l3.3 -2.7l4.9 -.8l10 1.1l6.6 1.5l9.9 4.2l5 .8l6.6 -1.1l3.9 -2l2.4 -2l.3 -2.1l-8.3 -7.6l-2.9 -4.6l-1.3 -4.1l-.2 -6.2l.9 -4l2.1 -4.1l13.5 -16.4l1.1 -4.1l-.9 -4.1l-2.2 -4l-3.4 -4.1l-11.5 -8.2l-3.6 -4.1l-1.7 -4.1l-3.1 -14.3l-1.9 -4.1l-5.6 -8.2l-2.1 -4l-4.5 -16.4l-2.4 -6l-3.5 -4.2l-9.8 -5.1l-3.3 -2.8l-1.1 -2.3l0 -8.2l-272.9 0l0 8.2l4.4 8.9l3.3 3.8l1.6 .7l3.4 .3l14.8 -2.5l1.7 .4l1.6 1.5l1 3.2l-.1 4.1l-2.4 8.2l-3.4 6.7l-3.8 5.5l-4.5 3.6l-3.3 .5l-3.3 -1.8l-1.7 -2.2l-5 -12.3l-1.6 -3.1l-1.6 -1.7l-3.3 -1.1l-3.3 .4l-3.3 1.4l-3.4 2.5l-3.3 4l-3 5.8l-1.7 6.1l-.4 4.1l.6 4.1l1.6 4.1l8.6 14.3l.9 4.1l-.5 2l-1.1 1l-3.3 1l-16.6 .7l-8.2 2.3l-3.3 2.2l-2.5 3l-1.6 4.1l-.5 6.1l.6 4.1l1.5 4.1l2.5 3.9l2.1 2.2l3 2.1l4.8 1.8l3.3 .4l5 -.3l11.5 -3.1l6.7 -3.5l2.2 -3.5l2.5 -14.3l1.9 -2.8l1.6 -.8l3.3 -.2l5 1.7l3.3 3.3l1.7 3.5l.7 5.5l-.6 4.1l-2.6 4.1l-6.6 4.1l-2.2 2l-1.2 4.1l.4 4.1l1.6 4.1l2.2 2.9l3.3 2.1l3.3 .6l3.3 -1l3 -2.6l4.7 -8.1l2 -2.1l4 -2l6.2 -1.6l11.5 -1.4l6.7 .6l5.8 2.4l7.4 5.4l3.3 .9l3.3 -.8l11.6 -5.3l23.2 -6.9l6.6 -1.1l13.2 -.4l16.9 -4.1l7.9 -2.8l3.3 -2.5l5 -5.1l6.5 -3.9l21.6 -8.6l9.9 -1.7l3.3 -1l3.3 -2.6l2.6 -4.5l5 -20.4l7.4 -18.4l4.9 -17.2l1.6 -3.7l1.7 -1.8l1.7 -.6l1.6 -.1l3.3 1l16.1 12.2l5.4 2.7l13.3 5.2l3.3 2.5l1.6 2.5l1.3 3.4l2.7 12.3l1.4 4.1l2.7 4l5.4 6.2l3.1 6.1l.8 4.1l.3 10.2l.5 2.4l1.7 2.2l9.9 5.5l1.7 2.2l.4 2l-.5 4.1l-3.9 18.4l-1.8 6.1l-2.4 4.1l-1.8 1.6l-3.3 1.7l-3.3 .8l-5 0l-4.9 -1l-5 -2.3l-2.9 -2.8l-2.7 -6.2l-2.5 -12.2l-1.4 -4.1l-2.1 -3.8l-3.3 -3l-4.9 -1.8l-5 .5l-3.3 1.6l-3.3 3.8l-1.7 3.6l-1.1 5.2l-.1 4.1l1.2 5l1.9 3.2l2 2l11 7.5l3.1 2.8l2.2 4l.6 4.1l-.8 4.1l-1.1 2.1l-5.2 6.1l-.4 2l-.1 18.4l-1 2.1l-2.1 2l-5.1 2.4l-6.6 1.2l-6.6 0l-5 -1.1l-5 -2.9l-4.4 -5.7l-7.1 -14.9l-17.3 -28l-17.5 -21.2l-4.9 -3.4l-5 -1.4l-3.3 .3l-2 1.1l-1.6 2.1l-.8 4.1l1.6 6.1l2.5 4.1l5.8 12.2l.4 2.1l-.6 2l-3.7 4.8l-3.3 2.1l-4.9 1.9l-6.6 .9l-5 -.9l-8.3 -3l-8.2 -.9l-10 -3l-3.3 -.1l-3.3 1.4l-10.1 7.1l-12.9 6.1l-2.5 2l-2.4 4.1l-.7 4.1l.6 4.1l2.5 4.1l4 2.9l6.6 2.4l6.6 1.2l13.3 0l4.9 .5l5 1.8l3.3 2.6l5.1 7l8.1 19.9l10.4 12.8l4.8 8.2l2.1 6.1l-.7 2l-2.8 2.1l-10.4 3.9l-2.7 2.2l-1.8 4.1l-.3 4.1l.5 4.1l1.2 4l3.1 4.6l3.3 3l8.2 5.7l2.8 3.1l8.4 16.4l.8 4l-.5 4.1l1.1 6.2l8.4 22.4l2.1 12.3l.7 12.3l1 4.4zM509.6 561.8l-1.7 -5.4l-4 -21.9l-7.6 -20.9l-.4 -3.7l3.4 -6.1l.2 -2.1l-1 -4l-3.8 -7.6l-3.4 -8.8l-1.6 -2.5l-5 -4l-9.9 -5.4l-1.9 -2.4l-.3 -2l.5 -2.1l1.7 -1.5l11.6 -1.7l3.3 .4l6.6 3.4l3.3 .7l1.7 -.5l5.1 -4.9l3.2 -2.2l3.3 -1.1l9.9 -1.9l1.6 .3l1.7 1.7l1.4 5.3l1.8 20.4l-.8 12.3l.7 6.1l2.9 6.1l7.9 10.3l.8 2l.2 3.2l-.9 2.9l-1.4 2.1l-2.7 2.5l-3.3 2l-1.6 2.5l-2.7 9.3l-5.6 10.4l-3.3 3.6l-6.6 5.2l-1.7 .8zM493 398.1l-3.3 -2.6l-1.7 -3.1l-2.3 -9.2l-.6 -6.1l.3 -6.2l1 -3.3l1.6 -1.2l1.7 .1l1.7 1.1l3.3 3.8l3.3 7l2.3 8.9l.4 4.1l-1.1 4.5l-1.6 1.8l-1.7 .6zM289.5 305.7l-3.4 -2.2l-2.6 -4.1l-.4 -4.1l1.5 -4.2l3.3 -3.1l5 -1.7l4.9 .4l5.5 2.5l1.9 2l1.5 4.1l-.6 3.9l-1.4 2.3l-2.3 2l-4.6 2.2l-4.9 .7zM350.8 304.3l-3.3 -3l-1.5 -3.9l-.7 -4.1l0 -10.2l.6 -2.1l1.6 -2l3.4 -1.3l4.9 -.4l14.9 .8l8.3 1.9l1.8 1l1.8 2.1l1.2 4.1l-.9 4l-3 4.1l-2.6 2.1l-7.7 4.1l-7.2 2.6l-6.6 1zM446.7 297.4l-6.6 -1.6l-3.9 -2.5l-1.1 -2.1l0 -2l2.7 -4.1l5.6 -3.5l6.6 -1.9l9.9 -.3l3.3 .5l2 1.1l.6 2.1l-1 4.1l-2.5 4l-2.1 2.1l-3.2 2l-3.7 1.4zM471.5 277.7l-1 -.7l-.6 -2.1l.1 -4.1l1.3 -6.1l1.9 -2.6l3.3 -1.8l11.5 -2.2l5 -2l3.3 -3.5l6.6 -12.5l4.7 -4l3.6 -1.4l3.3 -.6l3.3 .5l1.7 1l1.7 4.5l-.5 8.2l-2.3 6.2l-3.4 4l-12.1 7.1l-7 7.2l-6.2 3.9l-5 1.3l-4.9 .6l-5 -.1zM471.5 404.1l-3.3 -3.5l-8.5 -13.3l-3.6 -4.1l-4.4 -3.7l-3.4 -1.8l-3.3 -1l-14.9 -1l-4.9 -1.2l-3.2 -1.5l-2.1 -2.1l-.4 -2l.9 -2l4.4 -4.1l10.3 -6.7l5 -2.7l3.3 -.8l16.5 2.7l8.3 2.8l4.6 2.6l3.1 4.1l1.5 6.1l1.4 16.4l.2 10.2l-.9 5.3l-1.6 2.2l-1.7 .4zM421.5 489.5l2 1.3l1.7 -.7l1.6 -4.3l.4 -4.5l-.2 -6.1l-.8 -4.1l-1 -2.5l-1.7 -1.6l-1.6 -.4l-2.1 .4l-3.2 2l-1.6 2.1l-1.3 4.1l.1 2l1.5 4.1l3.3 5zM827.2 344.4l9.8 .7l10 -.7l0 -2.1l0 -2l0 -2.1l0 -2l0 -2l0 -2.1l0 -2l0 -2.1l0 -2l0 -2.1l0 -2l0 0l-3.3 1.2l-5 .5l-4.9 -.2l-5 -1l-8.3 -3.5l-10.2 -7.2l-4.7 -1.4l-4.9 .9l-6.6 2.7l-5 2.9l-3.3 3.4l-1.5 3.7l.1 4.1l1.8 4.1l2.9 2.7l3.3 1.6l5 1.5zM692 315.8l2.8 -.3l2.5 -1.8l1.2 -2l.1 -4.1l-.9 -2.1l-1.8 -2l-2.7 -1.3l-3.3 -.4l-3.9 1.7l-1.1 2.1l0 2l1.6 4.1l1.5 2l1.9 1.4zM266.6 199.3l4.8 1.5l3.3 -.3l4.2 -1.2l0 -8.2l-12.3 0z"/>
<path fill="#ffe178" fill-rule="evenodd" d="M53 1006.6l0 .6l5 .5l1.9 .9l52.6 0l-3.3 -4.1l-1.6 -4.1l.4 -4.1l1 -2l3.7 -4.1l6.2 -4.1l5.2 -1.8l5 -.5l5 .6l4.9 2.1l4.9 3.7l2.9 4.1l.8 4.1l-1 4.1l-3.4 4.1l-3.1 2l42.5 0l-4.8 -8.2l-1.2 -4.1l.7 -4l1.4 -2.1l3.3 -2.8l5 -2.3l4.9 -1l18.2 .1l14.9 -1.7l5 .7l1.7 .9l1.7 2l.8 2.1l.4 4l-1.2 4.1l-1.4 2.1l-2 1.4l-3.3 1l-11.6 .4l-5 1l-4.9 2.5l-4.6 3.9l133.8 0l-3.5 -3.5l-6.3 -4.7l-3.8 -4.1l-2.8 -6.1l-4.5 -14.3l-2.1 -4.1l-2 -2.3l-3.3 -1.5l-9.9 -.6l-5 -1.1l-4.2 -2.7l-9 -9.7l-5 -3.4l-6.6 -2.6l-21.5 -5.4l-6.6 -2.8l-5 -3.3l-19.8 -17.5l-3.4 -1.9l-3.3 -.8l-2 .4l-1.4 2.1l.1 4.1l1.8 12.2l.4 8.2l-1.1 6.1l-2.7 3l-3.3 1.4l-5 .4l-5 -.8l-4.5 -1.9l-4.6 -4.1l-5.7 -10.6l-1.7 -1.7l-3.3 -.6l-1.7 .5l-1.6 1.6l-1.3 2.6l-.4 4.1l0 10.2l-1.9 6.2l-4.7 5.3l-4.9 2.7l-6.7 .8l-8.2 -1l-7.4 -1.7l-14.1 -5.7l-3.4 -.4l-3.3 .7l-10.4 5.4l-6.1 2.1l-6.6 .8l-16.6 .2l-4.5 1l-2.1 1.1l-1.6 1.9l-1.7 3.6l-3.6 13.8l-3 6.6zM467.1 1008.6l13.5 0l4.1 -1.6l3.3 -.5l3.4 .4l2.6 1.7l25.7 0l-1.9 -4.4l-5.6 -9.9l-.3 -2l.9 -4.1l3.4 -4.2l11.5 -7.3l8.7 -6.9l4.6 -2.9l13.7 -5.3l10.5 -2l5.6 .2l13.2 3.3l6.6 .1l6.6 -1.9l14.9 -6.6l5.4 -1.3l6.2 -.5l6.6 .4l5 1l24.8 9.6l13.2 3.4l11.6 2.2l31.4 3.1l8.3 -.2l14.9 -1.9l8.2 .8l5.6 2.6l4.4 4.1l3.3 6.1l3.9 12.2l1.9 2.1l2.5 .1l13.2 -3.6l8.3 -.3l4.9 1.3l3.7 2.5l2 4.1l-.2 6.1l25.9 0l5 -1.1l5.6 1.1l9.3 0l-1.7 -5.2l-3.3 -4.9l-16.5 -15.9l-6.6 -3.7l-13.3 -4.1l-4.9 -2.3l-5 -3.8l-8.2 -9.1l-5 -2.7l-5 -1.1l-31.4 -2.8l-29.8 .1l-43 -1l-11.6 -2.3l-14.9 -5.8l-6.6 -1.9l-9.9 -1.4l-11.6 -.5l-11.6 .9l-18.1 4.2l-21.6 .4l-16.5 3.3l-14.9 2l-6.6 2l-5 2.8l-9.9 7.7l-12.4 8.3l-4.1 4.7l-5.3 9.6l-3 4.3l-5 3.9l-11.5 7l-3.3 3.3zM53 957.5l0 2l2.2 -2l7.7 -11.4l6.6 -6.3l3.9 -2.7l-.6 -2.1l-19.8 0zM363.2 949.3l4.1 .9l6.6 -.9l13.2 -3.9l8.3 -3.9l6.6 -5.2l9.2 -9.5l4.8 -6.1l3.2 -6.1l2.1 -8.2l.1 -8.2l-1.2 -7.3l-3.3 -13.1l-.8 -8.2l.6 -8.1l2.6 -14.4l.4 -8.1l-.7 -6.2l-3.6 -14.3l-.8 -6.1l.7 -6.1l2.8 -6.2l2.1 -2.5l3.3 -2.6l3.3 -1.3l3.3 -.3l3.4 1l3.3 1.9l11.5 9.5l3.4 .8l3.3 -1.4l1.6 -1.8l1.9 -3.3l1.3 -4l.8 -10.3l-1.9 -14.3l-8.7 -32.7l-6.6 -21.3l-1.7 -2.2l-1.6 -1.1l-13.3 -3.4l-13.2 -6.1l-3.3 0l-1.7 1.3l-3.3 6.7l-1.9 7.7l-4 22.5l-2.1 6.1l-5.2 10.3l-2.2 6.1l-2 18.4l-1.7 6.1l-2.4 3.7l-2.4 2.5l-4.2 2.9l-9.9 5.3l-3.3 2.6l-2.6 3.5l-1.8 6.1l.3 14.3l-.9 4.2l-1.6 1.6l-1.7 0l-1.6 -.9l-6.5 -9l-3.8 -4.1l-14.6 -9.3l-9.9 -8.1l-4.9 -2.2l-5 .3l-3.3 2l-1.7 1.6l-3.3 5.8l-2.2 7.9l-1 12.2l.6 6.2l1.2 4.1l2.6 4l7.1 6.5l3.3 3.8l2.7 6.1l.5 8.2l-2.1 16.3l-.2 6.1l.4 4.1l1.5 4.1l2.2 2.2l8.2 4.4l3.3 2.4l3.4 4.1l5 9.4l3.2 4.7l3.3 3.4l10 8.3l4.9 5.2zM375.6 937.5l-9.9 -5.5l-13.3 -4.6l-5 -3l-4.9 -5.5l-8.1 -12.5l-9.2 -8.2l-3.1 -4l-1.7 -4.1l-.7 -4.1l.6 -18.4l-1 -6.9l-3.5 -7.4l-9.6 -12.3l-2.1 -6.1l-.2 -6.1l1.2 -6.2l2.6 -5.3l3.4 -2.7l3.3 -.4l4.9 1.5l11.6 6.6l5.9 4.4l5 6.1l7.3 15.6l3.3 5.4l5 5l3.3 1.9l3.3 1l3.3 .2l5 -.8l18.1 -6.3l3.4 -1.6l3.3 -2.6l2.4 -3.5l4.5 -14.3l1.3 -1.5l1.7 -.1l1.7 1.6l1.6 4.1l0 4.9l-1.7 5.9l-4.7 11.7l-2.4 10.2l-.5 6.2l1.1 4l1.2 2.1l7 8.1l3.3 6.2l1.6 8.2l-.2 4.1l-1.1 4l-2 4.1l-4.7 6.2l-8.3 8.1l-5.1 4l-4.3 2.2l-4 1.1l-5 .3zM443.4 778.1l-1.7 -.6l-3.4 -3.9l-1.9 -4.1l-.2 -2.1l.6 -.7l1.6 .2l1.7 1.1l2.8 3.5l1.4 4.1l-.4 2.1zM413.6 770l-2.1 -2.5l-1.7 -8.2l-.3 -10.3l.8 -10.2l1.7 -7.3l1.6 -3.7l3.3 -3.2l3.3 -.3l3.3 1.5l1.7 1.4l3.3 5.5l2.7 12.3l1.4 14.3l-.8 2.8l-5.2 3.3l-8 4l-3.3 .9zM115.7 945.2l5.1 -.1l8.3 -3.1l3.3 -2.9l.7 -2l-.7 -2.1l-3.3 -1.6l-5 -.5l-4.9 .5l-6.6 1.6l-2.8 2.1l.2 2l2.5 4.1zM72.9 935l1.7 .4l21.4 -.7l5 -1.2l.7 -.5l.4 -2.1l-1.3 -4l-2.4 -4.1l-2.4 -2.5l-3.3 -1.2l-3.3 1.1l-1.7 1.3l-11.5 13.1zM514.8 859.4l1.4 1.9l1.6 0l4.2 -1.9l7.4 -5l3.1 -3.2l1.9 -2.7l2.4 -7.5l.2 -6.1l-1.6 -6.1l-2.7 -3.1l-1.6 -.4l-1.7 .7l-2.2 2.8l-1.7 4l-4.7 16.4zM448.3 706.1l1.7 .4l1.7 -.3l3.3 -2.2l1.7 -2l1.6 -2.7l1.6 -4.9l1.1 -8.7l-.2 -10.2l-1.8 -8.2l-2.4 -4.1l-1.6 -1.5l-1.7 -.9l-3.3 -.8l-3.3 .7l-2.9 2.5l-.9 2l-.7 4.1l.4 8.2l2.4 20.5l1.6 6.1zM471.2 626.4l2 -.5l1.6 -1.7l.9 -1.9l6.5 -20.4l1.8 -8.2l-.4 -6.1l-2.2 -5.7l-3.3 -3.9l-3.3 -1.3l-3.3 .6l-1.6 1.2l-3.4 4.8l-3.3 8.8l-4.3 18l.4 6.1l2.2 4.1l5 4.5zM271.4 587.6l3.2 .4l5 -1.3l8.3 -3.8l5 -3.2l3.7 -4.4l5 -10.2l2.8 -4.4l3.3 -3.1l3.4 -1.1l3.3 .5l3.3 2.5l2.3 3.6l5.1 10.2l4.1 4l3.4 1.1l3.3 .1l13.2 -2l5 .4l4.9 2.1l8.3 6.3l3.3 1.5l1.7 .1l3.3 -1.2l8.2 -5.7l5 -2l5 -.3l13.2 1.2l3.3 -.9l3.3 -2.2l3.3 -4.1l6.6 -11.1l11.6 -12.2l3 -5.8l1.8 -6.1l2.5 -14.3l.1 -8.2l-1.3 -8.2l-5.9 -22.4l-1.3 -10.3l-.3 -10.2l.6 -6.1l1.5 -4.1l2.6 -2.6l5 -1.9l6.6 0l3.3 1.1l3.3 2.5l2.7 5l2.7 10.2l2.9 6.1l5 5.9l9.9 9.4l8.2 14l2.2 5.5l2.4 12.2l6.2 14.4l1.9 6.1l1.6 10.2l.7 12.3l.9 4l1.7 4.1l1.4 2.1l2.6 1.8l1.6 .3l3.3 -.6l3.3 -2.5l11.6 -14.9l11.6 -12.9l4.9 -4.6l3.4 -2.1l3.3 -1.1l11.5 -.4l1.7 -1.1l1 -2.8l-.2 -4.1l-1.5 -6.1l-1.5 -4.1l-2.4 -4.1l-4.2 -4.1l-11.1 -8.3l-3.1 -3.9l-1.9 -4.1l-1 -6.2l-1.3 -20.4l-3.4 -24.5l.3 -4.1l1.7 -4.1l2.1 -2l1.7 -.8l3.3 -.4l3.3 .5l5.9 2.7l5.7 4.5l10.3 11.9l4.6 2.7l4.9 1.6l5 .4l5 -.7l4.4 -2l8.8 -5.5l3.3 -.8l3.3 .9l1.7 1.1l9.9 9.3l3.3 1.9l4.9 1.7l10 .4l26.4 -4.4l3.4 -.1l3.3 .6l4.9 3.1l3.3 4l3.4 6.2l5.5 14.3l2.7 3.3l3.3 1.2l5 -1.3l6.6 -3.7l12.1 -5.6l3.8 -4.1l1.3 -4.1l-.2 -6.1l-2.4 -18.4l-1.4 -6.7l-1.6 -4.1l-3.3 -2.4l-13.3 -1.9l-3.3 -1l-2.7 -2.3l-1 -2.1l-.3 -4.1l1.3 -4l2.9 -4.1l2.5 -2.1l2.3 -1l3.3 .3l3.3 2.8l4 6.1l4.3 8.4l1.6 2.4l1.7 1.2l23.1 6.1l5 2.2l3.1 2.2l2.1 2l2.7 4.1l5.3 12.4l2 1.9l3 1.4l5 .6l8.2 -.4l23.2 -3.7l6.6 -.6l36.4 1.3l0 -3.9l-11.6 .2l-24.8 -2.2l-5 .2l-21.5 3.3l-6.6 -.1l-4.9 -1l-3.3 -1.5l-2.2 -1.8l-7.5 -10.2l-5.2 -5l-5.3 -3.1l-14.5 -6.2l-6.7 -4.4l-8.3 -8.2l-9.9 -12.6l-1.8 -1.4l-3.2 -.8l-3.3 .8l-3.3 2.1l-3.3 3.3l-3.7 4.9l-3.5 8.1l-1.3 10.3l.4 8.1l1.5 4.1l8.3 .2l4.9 .6l3.4 1.3l2.4 2l1.4 2.1l1.2 4l0 4.1l-.6 2.1l-1.2 2.2l-1.6 1.6l-3.3 1l-3.3 -.8l-4.5 -4l-3.9 -6.2l-3.2 -7.6l-1.7 -1.8l-14.8 2.4l-23.2 8.5l-6.6 1.7l-6.6 .7l-6.6 -.7l-5 -2.2l-5 -4.2l-8.2 -10.1l-3.4 -1.7l-3.3 .1l-3.3 1.4l-8.2 6.3l-5 2.5l-5 .7l-4.9 -.8l-3.3 -1.4l-2.8 -1.9l-8.8 -9.6l-6.4 -4.7l-8.5 -3.7l-5 -1.1l-8.2 -.6l-1.7 -.8l-3.3 -6.1l-3.3 -4.1l-3.3 -1.3l-3.3 .5l-3.3 2.3l-5 5.6l-9.9 8.3l-5 5.1l-5.1 6.1l-1 2l.1 2.1l2.7 4.1l2.5 2l2.5 1.1l3.3 -.2l9.9 -4.5l3.3 -2.4l1.9 -2.2l4.7 -7.7l3.3 -3.1l3.3 -.8l1.7 1.5l1.7 7.3l2.1 15.1l2.7 38.8l1.5 4.1l1.9 3.1l11.2 13.3l1.4 4l-.1 2.1l-.5 2l-2.7 4.1l-9.3 9.9l-9.9 12.2l-9 12.7l-3 6.1l-2.9 2.7l-3.3 .7l-1.7 -.5l-1.6 -1.4l-2.3 -5.6l-1.1 -14.3l-1.2 -8.2l-2.1 -8.1l-7.2 -18.4l-1.1 -6.2l.5 -4.1l-.8 -4.1l-8.4 -16.3l-2.8 -3.1l-8.2 -5.7l-3.3 -3l-3.1 -4.6l-1.2 -4l-.5 -4.1l.3 -4.1l1.8 -4.1l2.7 -2.2l10.4 -3.9l2.8 -2.1l.7 -2l-2.1 -6.1l-4.8 -8.2l-10.4 -12.8l-8.1 -19.9l-5.1 -7l-3.3 -2.6l-5 -1.8l-4.9 -.5l-13.3 0l-6.6 -1.2l-6.6 -2.4l-4 -2.9l-2.5 -4.1l-.6 -4.1l.5 -3.4l1.6 -3.5l3.4 -3.2l13.2 -6.3l9.9 -7l3.3 -1.4l3.3 .1l10 3l8.2 .9l8.3 3l5 .9l6.6 -.9l4.9 -1.9l3.3 -2.1l3.7 -4.8l.6 -2l-.4 -2.1l-5.8 -12.2l-2.5 -4.1l-1.6 -6.1l.8 -4.1l1.6 -2.1l2 -1.1l3.3 -.3l5 1.4l4.9 3.4l17.5 21.2l17.3 28l7.1 14.9l4.4 5.7l5 2.9l8.3 1.2l8.2 -.8l6.7 -2.8l2.2 -2.1l1.1 -2.5l0 -18l.4 -2l6.3 -8.2l.6 -2l0 -4.1l-1.3 -4.1l-2.7 -3.5l-11.6 -7.8l-4.4 -5.1l-1.5 -4l-.3 -4.1l.9 -6.2l2 -4.7l3.3 -3.8l3.3 -1.6l5 -.5l4.9 1.8l3.3 3l2.1 3.8l1.4 4.1l2.5 12.2l2.7 6.2l2.9 2.8l3.3 1.7l5 1.4l5 .3l6.6 -1.6l3.3 -2.5l1.6 -2.3l2.3 -6l4.7 -22.4l-.3 -4.1l-1.5 -2.1l-10.1 -5.6l-1.7 -2.2l-.5 -2.4l-.3 -10.2l-.8 -4.1l-3.1 -6.1l-5.4 -6.2l-2.7 -4l-1.4 -4.1l-2.7 -12.3l-1.6 -4.1l-1.5 -2l-3.1 -2.3l-13.3 -5.2l-6.6 -3.5l-14.9 -11.4l-3.3 -1l-1.6 .1l-1.7 .6l-1.6 1.8l-1.7 3.7l-4.9 17.2l-7.4 18.4l-5 20.4l-2.6 4.5l-3.3 2.6l-3.3 1l-9.9 1.7l-21.6 8.6l-6.5 3.9l-6.6 6.5l-5 2.5l-19.8 5.2l-14.9 .7l-8.3 1.5l-21.5 6.5l-13.2 5.8l-3.4 .1l-1.6 -.7l-7.4 -5.4l-4.2 -1.9l-3.3 -.8l-8.3 -.1l-13.2 2.4l-3.3 1.3l-3.3 2.5l-5 8.3l-1.6 1.9l-3.3 1.9l-3.3 .2l-3.4 -1.3l-2.4 -2.2l-2.4 -4.1l-1 -4l.3 -4.1l.9 -2.1l2.2 -2l6.6 -4.1l2.6 -4.1l.6 -4.1l-.7 -5.5l-1.7 -3.5l-3.3 -3.3l-5 -1.7l-3.3 .2l-1.6 .8l-1.9 2.8l-2.5 14.3l-2.2 3.5l-3.3 2.1l-5 2l-11.6 2.7l-5 0l-4.9 -1.4l-3.3 -1.8l-3.2 -3l-2.6 -4.1l-1.5 -4.1l-.6 -4.1l.1 -4.1l1 -4l1.8 -3.3l1.7 -1.8l3.3 -2.2l8.2 -2.3l16.6 -.7l3.3 -1l1.1 -1l.6 -2l-1 -4.1l-8.6 -14.3l-1.6 -4.1l-.6 -4.1l.4 -4.1l1.7 -6.1l3 -5.8l3.3 -4l3.4 -2.5l3.3 -1.4l3.3 -.4l3.3 1.1l2.2 2.7l5 12.3l2.5 4.1l3.5 2l3.3 -.5l3.3 -2.3l2.8 -3.3l5.6 -10.2l2.4 -8.2l.1 -4.1l-.9 -3.2l-1.7 -1.5l-1.7 -.4l-14.8 2.5l-3.4 -.3l-1.6 -.7l-3.3 -3.8l-4.4 -8.9l0 -8.2l-41 0l0 8.2l-4.2 1.2l-3.3 .3l-4.8 -1.5l0 -8.2l-12 0l0 8.2l-3.1 3.5l-7.3 4.6l-1.3 2.1l-.4 2l.6 4.1l1.8 3.4l2.7 2.8l3.9 2l5 .5l3.3 -1l7.1 -7.7l2.6 -2l25 -13l5 -.8l3.2 1.5l1.1 2.1l-.1 4l-1.7 4.1l-9.1 16.1l-5 6.9l-1.7 1.1l-3.3 .8l-11.5 -2.3l-3.4 .5l-1.6 1.2l-1.7 2.4l-3.8 10.1l-2 4.1l-2.4 3l-3.3 2.4l-3.4 1.1l-3.3 .2l-13.2 -1.7l-1.7 .2l-1.6 1l-1.1 2l-.9 4.1l.2 14.3l1.8 9.1l3.7 7.2l-.4 1.5l-1.7 .6l-8.2 -2.8l-5 -.2l-4.9 1.5l-1.7 1.5l-.9 2l-.2 2.1l.9 4.1l6.8 18.3l1.7 2.1l3.3 .9l4.9 -.2l5 -.8l6 -2l3.5 -2l2.2 -2l6.5 -8.4l3.3 -1.4l5 .8l13.2 7.6l8.3 2.8l8.2 .7l14.9 -1.7l5 .7l3.6 2.9l5.8 10.3l3.8 4.7l3.3 2.4l11.6 4.8l5 3.2l6.6 6.9l11.6 14.1l4.9 4.2l3.3 .9l3.4 -.9l3.2 -3.6l5 -7.7l3.3 -3.9l5 -3.5l5 -.9l1.6 .8l1.6 3l2 16.3l1.4 4.4l2.6 3.8l5.6 3.3l16.6 4.7l4.9 .4l11.6 -1l3.3 .4l3.3 1.3l3.4 3l1.6 2.7l2 5.6l.8 6.2l-.4 6.1l-2.4 4.6l-9.9 6.5l-4 3.2l-3.3 4.1l-5.9 10.2l-1.7 1.7l-3.7 2.4l-9.5 4.5l-6.7 2.6l-4.9 .8l-5 -.1l-4.9 -1.2l-3.4 -1.6l-3.3 -2.4l-9.9 -10.2l-4.9 -1.9l-3.4 .9l-1.6 1.2l-8.1 11.5l-3.5 3.4l-4.9 2.5l-6.7 .9l-11.5 -1l-6.7 -2.2l-3.8 -3.6l-6.1 -11.7l-4.3 -4.6l-4 -2.4l-13.2 -4.9l-5 -3l-3.3 -2.7l-3.2 -3.4l-2.4 -4.1l-4.8 -18.4l-2.8 -4l-3.3 -1.7l-3.3 -.1l-4.6 1.7l-3 2.1l-5.6 5.2l-1.7 .7l-1.7 -.3l-6.7 -5.6l-3.5 -2.1l-4.6 -1.1l-3.3 .4l-4.2 2.8l-7.4 8.2l-5 3.2l-5 1.3l-13.2 .2l-6.6 .8l-11.6 3.9l-4.9 2.5l-3.4 2.4l-3.3 4l-2 4.1l-5.5 20.5l-4.6 10.2l-12.7 15.8l-14.6 14.8l-3 4.1l-3.5 6.2l-3.4 8.1l-1.3 6.2l.8 6.1l2 4.1l8.1 10.4l6.7 6.5l14.8 7.9l10 6.1l8.2 3.1l6.7 .5l3.3 -.7l2.2 -1.1l3.6 -4.1l4.1 -8.9l2.5 -3.4l2.4 -1.6l1.7 -.3l3.3 .8l3.5 3.2l5.2 10.2l1.4 2l3.1 3l3.4 1.7l13.2 4.9l13.2 7l16.6 6.6l4.9 3.3l6.6 6.2zM274.7 578l-3.3 -1.7l-8.3 -6.2l-14.9 -7l-11.6 -8l-4.9 -2.2l-11.6 -3.7l-3.3 -1.7l-3.3 -2.7l-1.7 -2.2l-6.6 -11.3l-1.7 -1.6l-3.3 -2l-3.3 -.9l-3.3 0l-3.3 .7l-3.3 1.8l-3.3 3.5l-5.1 9.8l-2.9 4.1l-3.6 2.1l-3.3 .3l-5 -1.4l-4.4 -3l-10.5 -12.2l-11.5 -8.9l-5 -5.5l-2 -4.1l-.8 -4.1l.3 -4.1l1.8 -6.1l4 -6.2l13.2 -12.3l6.7 -9.5l3.7 -6.7l2.9 -6.9l5.5 -21.8l2 -6.1l2.4 -4.3l5 -4.6l8.2 -3.5l10 -1.4l11.1 1.6l5.4 2l1.7 1.1l2.4 3l.5 4.1l-4.5 12.2l-.1 4.1l1.7 3.3l1.6 1.3l1.7 .3l3.1 -.8l1.8 -1.4l5 -6.9l1.9 -1.9l3.1 -1.6l4.9 -.5l14.9 .8l14.9 -2.1l3.3 .3l3.3 1.2l5.2 3.9l6.4 6.9l9.9 5.1l2.7 2.3l2.3 4.3l3.1 10l3.9 6.2l4.6 3.5l10.4 4.7l3.3 2l2.8 2.9l6.6 9.4l5 3l3.3 0l1.6 -.8l5 -5.8l1.6 -.5l6 2l4 .6l4.9 -.3l3.3 -1.2l3.4 -2.9l6.6 -11.6l4.7 -5l3.5 -1.7l3.3 -.6l6.7 1.3l4.8 3l2.1 4.1l.4 18.4l.6 4.1l.9 2l2.7 1.9l3.4 .2l8.2 -.8l3.3 1.3l3.3 4l5.3 9.8l1.4 4.7l.4 5.5l-.6 6.1l-1.5 4.1l-3.3 4.4l-9.1 7.9l-7.4 12.8l-1.7 1.8l-3.3 1.8l-5 .3l-9.9 -2l-5 -.2l-4.9 1l-8.3 3.3l-3.3 .4l-11.6 -3.8l-4.9 -.5l-3.4 .4l-11.5 2.9l-5 0l-3.3 -1.3l-2.6 -2.6l-5.7 -12l-3.1 -4.4l-3.5 -2.1l-3.3 -.6l-5 1.1l-4.9 3.8l-3.3 4.9l-5 9.8l-2.7 3.6l-2.3 1.9l-3.3 1.8l-4.9 1.4l-3.3 .2zM555.9 381.3l-3.3 -1.2l-3.4 -2.1l-2.6 -3l-2.3 -4.1l-6.1 -16.3l-5.6 -10.2l-1.7 -4.1l-2.3 -10.2l-1.3 -8.2l0 -4.1l1 -4.1l1.8 -4.1l9.6 -14.3l4.8 -8.1l4.8 -14.3l3.3 -6.9l11.5 -14.7l3.3 -2.4l3.4 -.6l1.6 .9l.9 1.2l-.1 2l-6.5 10.2l-2.1 4.1l-7.7 22.5l-.8 6.1l-.7 20.5l1 6.1l2 4.1l3.6 4.1l12.4 10.2l1.6 2l1.9 4.1l0 4.1l-3.3 8.2l-.1 12.2l-2.1 6.7l-3.3 2.9l-3.3 1l-5 .4zM608.8 326l-1.7 -.2l-3.3 -1.8l-1.4 -2.1l-.6 -2l.4 -4.1l1.2 -2.1l2.1 -1.6l1.6 -.5l3.4 .3l1.6 1l1.7 2.1l.8 2.8l-.5 4.1l-1.3 2l-2.3 1.7zM403.7 346.9l-1.4 -2.5l-.3 -1.5l.2 -6.7l2 -6.1l2.8 -3.2l3.3 -1.7l8.3 -1.6l17.1 -7.8l4.4 -1.1l11.6 1l11.5 -2.3l3.3 -.1l3.4 .9l3.3 2.6l8.4 9.2l2.1 6.1l4.3 8.2l-.8 2l-2.5 1.1l-14.8 1.7l-10 -3.7l-6.6 .6l-1.6 -.4l-4 -1.3l-7.6 -4.5l-3.3 -.5l-1.7 .2l-3.3 1.7l-8.1 7.2l-5.1 2.7l-5 1l-5 .1l-3.3 -.4zM421.9 489.9l-3.3 -3.6l-3.3 -5l-1.5 -4.1l-.1 -2l1.3 -4.1l1.6 -2.1l3.2 -2l2.1 -.4l1.6 .4l1.9 2l1.3 4.1l.5 6.2l-.4 6.5l-1.3 3.7l-.3 .6l-1.7 .7zM392.1 528.3l3.3 1.9l1.7 0l1.6 -.8l1.7 -2.4l.6 -6.9l-.6 -3l-1.7 -2l-1.6 -.5l-3.3 .6l-1.7 .9l-1.7 2l-.6 2l.2 4.1zM247.9 483.4l2 1.1l3.3 .8l6.6 -.5l9.9 -3.4l5 -3.6l3.3 -4.7l1.7 -6.1l-.3 -6.1l-2 -4.1l-2.7 -2l-3.3 -1.1l-10 -.7l-6.6 .9l-3.3 1.3l-3.3 2.2l-3.3 3.5l-1.7 2.8l-1.2 3.3l-.4 4.1l1.6 6.5l2.4 3.7zM492 397.5l2.7 .9l3.5 -.9l1.4 -1.6l.9 -2.5l.1 -4.1l-1.7 -8.1l-3.3 -8.2l-4.2 -5.4l-1.7 -1.1l-1.7 -.1l-1.6 1.2l-1 3.3l0 10.3l1 5.9l1.6 5.3l1.7 3.1zM183.3 375l3.7 .2l3.3 -.7l3.3 -2l3.3 -3.6l12.8 -18.4l2.1 -4.1l1.4 -6.1l0 -2l-1.4 -3.1l-3.3 -.3l-11.6 3.6l-5 1l-11.5 -.1l-5 .5l-5 1.8l-3.3 2.8l-2.2 4l-1 6.1l.9 6.1l1.7 4.1l2.3 3.3l3.3 2.8l5 2.5zM176.4 258.5l7.3 1.2l3.3 -.1l4.5 -1.1l16.8 -8.1l3.5 -2.1l2.2 -2l.7 -2.1l-.7 -4.1l-5.5 -12.5l-2.6 -7.9l-.8 -6.1l.8 -4.1l1.5 -2.1l3.6 -2l14 -2.9l5 -1.8l1.6 -1.4l0 -8.2l-99.2 0l0 8.2l-1.2 10.2l.7 12.3l2.2 6.2l1.6 1.9l3.3 1.7l5 .6l4.9 -.5l3.3 -.9l3.4 -2.4l2.5 -4.6l4.1 -13.8l1.5 -2.6l2.2 -2l4.5 -1.9l5 -.6l5.1 .5l3.8 2l1.1 2l.4 4.1l-1.2 6.2l-2.3 6.1l-5.2 7.7l-9.1 8.6l-1.6 4.1l0 4.1l.7 2.6l1.7 2.9l3 2.7z"/>
<path fill="#ffbe3c" fill-rule="evenodd" d="M332.4 1006.6l2 2l12.9 0l-2.4 -8.2l-.5 -6.1l.9 -4.1l2.1 -3.5l16.6 -11.4l4.9 -5.2l6.7 -8.5l4.3 -4.1l6.4 -4.1l10.8 -5.4l8.2 -6.5l11.6 -12.6l3.3 -4.4l3.4 -5.8l3.6 -10.2l1.4 -12.3l-.3 -8.2l-2.4 -22.5l.9 -26.5l-3.6 -22.5l.4 -4.1l1.6 -3.7l3.3 -2.7l1.6 -.3l3.4 .9l3.3 2.4l8.2 8.9l3.3 2.1l3.4 .5l4.9 -1.6l5 -3.6l4.1 -4.9l2.7 -6.2l1.5 -10.2l-.5 -12.3l-2.1 -12.2l-5.6 -22.5l-1.1 -10.2l.3 -6.2l.8 -4l5.1 -12.3l1.6 -8.2l-.7 -40.9l.3 -8.1l.7 -2.1l1.2 -1.2l1.6 -.7l13.2 -.4l3.3 -.7l3.4 -1.5l3.3 -3.1l1.6 -2.6l1.5 -4.1l.6 -4.1l-1.1 -6.1l-5.9 -9.1l-1.7 -5.2l.2 -6.1l2.2 -14.3l-.6 -6.2l-13.8 -30.6l-2.8 -14.3l-1.7 -5.2l-3.3 -5l-3.4 -1.9l-3.3 -.3l-3.3 1.5l-1.6 2.6l-.6 2.1l-.2 10.3l2 18.4l-.6 10.2l-3.2 16.3l-6.6 16.4l-1.5 6.1l.5 4.1l1.9 4.1l8.3 10.2l2.5 4.1l1.3 4.1l.1 2l-.6 2l-3.3 1.6l-8.3 .1l-8.3 -1.8l-9.9 -5.9l-1.7 -.1l-1.6 .8l-1.7 1.7l-1.2 3.7l.2 4l6 11.5l3.3 9.6l1.7 7.4l.8 10.4l-1.2 6.1l-1.3 2.5l-3.3 2.5l-3.3 .3l-5 -2.3l-3.1 -3l-2.7 -4.1l-5.7 -15.8l-1.7 -1.8l-1.7 0l-1.6 1.4l-3.3 6.9l-7.7 27.7l-3.2 20.5l-1.6 6.1l-2.4 4.8l-6.4 7.4l-1.9 3.5l-1.3 4.7l-2.6 16.4l-1.4 4.1l-2.9 4.4l-2.3 1.7l-2.7 1l-3.3 .4l-3.3 -.6l-4.7 -2.9l-5.2 -6.1l-1.7 -1.3l-3.3 -.6l-5 1.6l-19.8 9.6l-14.9 4.3l-6.6 2.8l-4.6 4.1l-1.9 4l-1.3 6.2l-2.8 26.5l-1 3.6l-1.7 2.7l-1.6 1l-1.7 .3l-3.3 -1.6l-2.5 -3.9l-2 -6.1l-3.8 -16l-1.6 -3.9l-1.7 -.4l-6.6 5l-4.9 2.1l-5 .3l-3.3 -1.4l-2.6 -2.1l-2.7 -4.1l-1.9 -6.1l-1.1 -10.9l-1.6 -2.3l-1.7 -.6l-6.6 -.5l-5 1.5l-1.6 2.3l-2.5 10.5l-2.2 4.1l-3.6 3.4l-5 1.6l-3.3 -.6l-1.6 -.9l-3 -3.5l-2 -6.2l-.3 -10.2l-1.3 -2.4l-1.7 -.5l-3.3 .4l-5 2.5l-6.6 6.3l-8.2 11.2l-3.4 2.3l-4.9 1.1l-3.3 -.9l-3.9 -3.6l-1.8 -4.1l-1.5 -10.2l-1.1 -2.3l-1.7 -1.2l-1.6 -.3l-3.3 .7l-5 3l-3.9 4.2l-2.7 5.3l-.8 4.9l.8 2.5l8.3 5.7l3.2 4l1.9 4.1l3 10.2l6.8 9.3l3.3 3.5l1.6 .9l3.3 .6l1.7 -.3l3.3 -2.2l6.6 -6.7l3.3 -2.4l3.3 -1.8l3.3 -.8l3.3 .7l2.5 3.3l1.2 4.1l.8 8.2l-.7 10.2l1.2 1.4l9.9 -2.4l5 .2l3.3 1l3.2 1.9l3.3 4l1.2 4.1l-.1 6.2l-1.1 4l-2.2 4.1l-2.6 2.5l-5 1.7l-5 .1l-11.5 -1.9l-6.7 -.3l-13.2 2.5l-8.3 .8l-1.6 1.4l-3 5.5l-3.4 4.1l-3.5 2.1l-3.3 .6l-4.3 -.7l-3.6 -2l-3.2 -4.1l-2.2 -4.7l-1.2 -1.4l-3.7 -1.3l-1.7 0l-2.7 1.3l-4.1 6.1l-1.5 1l-3.3 .8l-16.5 -2.5l-3.3 .8l-8.3 3.8l-5 .1l-4.9 -2.5l-6.6 -7.7l-1.7 -1.1l-3.3 -.6l-5 .3l-3.3 .9l-4.9 5.2l-2.4 1.5l-2.6 .6l0 38.2l19.8 0l.6 2.1l-3.9 2.7l-6.6 6.3l-7.7 11.4l-2.2 2l0 37.3l3 -6.6l4.7 -16.3l2.2 -3l3.3 -1.6l5 -.6l14.9 -.1l6.6 -.8l6.1 -2.1l10.4 -5.4l3.3 -.7l3.4 .4l14.1 5.7l9.2 2l9.7 .6l3.3 -.7l3.4 -1.5l4.9 -4.4l2.4 -4.2l.9 -4.1l0 -10.2l.4 -4.1l1.3 -2.6l1.6 -1.6l1.7 -.5l3.3 .6l1.7 1.7l5.7 10.6l4.6 4.1l4.5 1.9l5 .8l5 -.4l3.3 -1.4l2.7 -3l1.1 -6.1l-.4 -8.2l-1.8 -12.2l-.1 -4.1l1.4 -2.1l2 -.4l3.3 .8l3.4 1.9l19.8 17.5l5 3.3l6.6 2.8l21.5 5.4l6.6 2.6l5 3.4l9 9.7l4.2 2.7l5 1.1l9.9 .6l3.3 1.5l2 2.3l2.1 4.1l4.5 14.3l2.8 6.1l3.8 4.1zM364 949.7l-3.3 -1.8l-8.9 -8.8l-9.7 -8.2l-3.2 -4l-6.3 -11.5l-3.4 -4.1l-3.3 -2.4l-8.2 -4.4l-2.2 -2.2l-1.5 -4.1l-.4 -4.1l.2 -6.1l2.1 -16.3l-.5 -8.2l-2.7 -6.1l-3.3 -3.8l-7.1 -6.5l-2.6 -4l-1.2 -4.1l-.6 -6.2l1 -12.2l2.2 -7.9l3.3 -5.8l1.7 -1.6l3.3 -2l5 -.3l4.9 2.2l9.9 8.1l14.6 9.3l3.8 4.1l6.5 9l1.6 .9l1.7 0l1.6 -1.6l.9 -4.2l-.3 -14.3l1.8 -6.1l2.6 -3.5l3.3 -2.6l9.9 -5.3l4.2 -2.9l2.4 -2.5l2.4 -3.7l1.7 -6.1l2 -18.4l2.2 -6.1l5.2 -10.3l2.1 -6.1l5.5 -28.6l2.1 -5.6l1.6 -2.7l1.7 -1.3l1.7 -.3l3.3 1l11.5 5.4l13.3 3.4l1.6 1.1l1.7 2.2l6.6 21.3l8.7 32.7l1.8 12.3l0 6.1l-.6 5.3l-1.4 4.9l-1.9 3.3l-1.6 1.8l-3.3 1.4l-3.4 -.8l-11.5 -9.5l-3.3 -1.9l-3.4 -1l-3.3 .3l-3.3 1.3l-3.3 2.6l-2.1 2.5l-2.8 6.2l-.7 6.1l.8 6.1l3.6 14.3l.7 6.2l-.4 8.1l-2.6 14.4l-.6 8.1l.8 8.2l3.3 13.1l1.2 7.3l-.1 8.2l-1.3 6.1l-2.8 6.2l-4.2 6.1l-9.7 10.2l-7.4 6.2l-7.1 3.6l-13.2 4.1l-6.7 1.3zM471.5 626.4l-1.7 -.1l-3.3 -1.5l-4.9 -4.5l-2.3 -4.1l-.6 -4.1l.9 -6.1l2 -7.9l2.4 -8.5l2.4 -6.1l3.5 -5l1.6 -1.2l3.3 -.6l3.3 1.3l3.3 3.9l2.2 5.7l.4 6.1l-1.8 8.2l-5.7 18.5l-1.8 4l-1.5 1.5zM74.5 935.5l-1.7 -.4l3.4 -.5l11.5 -13.1l1.7 -1.3l3.3 -1.1l3.3 1.2l2.4 2.5l2.4 4.1l1.3 4l-.4 2.1l-4 1.5l-6.7 .6zM115.9 945.3l-3.3 -2.1l-2.6 -4.1l-.2 -2l2.8 -2.1l6.6 -1.6l4.9 -.5l5 .5l3.3 1.6l.7 2.1l-.7 2l-3.3 2.9l-8.3 3.2zM301.1 880.6l-1.7 -2.2l-.8 -2.6l-.5 -4.1l.1 -4.1l1.2 -4.1l1.7 -1.9l3.3 -.4l3.3 2l1.3 2.3l.7 4.1l-.3 3.2l-1.7 4.7l-1.6 2.3l-1.7 1.2l-1.6 .3zM448.3 706.1l-1.8 -2.1l-1.5 -6l-2.4 -20.5l-.4 -8.2l.7 -4l.9 -2.1l2.9 -2.5l3.3 -.7l3.3 .8l1.7 .9l1.6 1.5l2.4 4.1l1.8 8.2l.2 10.2l-1.1 8.7l-1.6 4.9l-1.6 2.7l-1.7 2l-3.3 2.2l-1.7 .3zM384.2 1006.6l2.9 1.6l3.3 .4l14.9 -.7l5 .7l56.8 0l2.8 -4l3.3 -3.3l11.5 -7l5 -3.9l3 -4.3l5.3 -9.6l4.1 -4.7l12.4 -8.3l9.9 -7.7l5 -2.8l6.6 -2l14.9 -2l16.5 -3.3l21.6 -.4l18.1 -4.2l11.6 -.9l11.6 .5l9.9 1.4l6.6 1.9l14.9 5.8l11.6 2.3l43 1l29.8 -.1l31.4 2.8l5 1.1l5 2.7l8.2 9.1l5 3.8l4.9 2.3l13.3 4.1l6.6 3.7l16.5 15.9l3.3 4.9l1.7 5.2l0 -90.9l-3.8 5.1l-2.7 2l-1.8 .5l-3.4 -.5l-3.2 -2l-6.6 -8.3l-3.3 -3.2l-11.6 -7.2l-13.2 -11.7l-6.6 -4.9l-3.3 -1.5l-3.4 -.8l-16.5 .8l-8.3 -1.7l-3.3 -1.6l-3.3 -2.5l-6.6 -7.9l-3.5 -2.7l-3.1 -.7l-3.3 .2l-18.2 3.6l-3.3 -.2l-1.7 -.6l-2.1 -2.3l-4.5 -12.2l-2.6 -4.1l-4 -2.6l-5 -.4l-4.9 1.6l-3.4 2.1l-11.5 11.3l-5 3.1l-3.3 .6l-3.3 -.5l-3.3 -1.4l-8.3 -5l-3.3 -.6l-3.3 2l-9.9 9.6l-5 3.4l-6.6 2.7l-10.2 2.7l-4 2l-.7 2.1l1.1 2l9.4 10.2l10.8 14.3l.5 2.1l-1.7 2l-6.2 4.1l-5.3 2.1l-6.9 1.7l-36.4 6.2l-23.2 6.7l-6.6 .8l-14.9 .1l-8.3 1.7l-4.9 2.3l-11.6 7.4l-14.9 5l-5.1 2.8l-4 4.1l-5.8 9.6l-3.7 4.7l-4.6 4l-13.2 9.6l-9.9 10l-3.3 2l-6.6 1.3l-13.3 -.1l-4.9 -1.3l-4.8 -3l-4.5 -2.1l-4 -.6l-4.9 0l-5 1l-5 2.8l-2.4 3l-.7 2zM668.4 935l-5.2 -2l-8 -7.2l-3.3 -2.2l-12 -4.9l-3.1 -2.1l-1.4 -2l1.3 -2.1l5.3 -2.5l4.9 -.1l3.4 1.7l4.9 4.5l3.3 2l3.3 .9l5 .2l6.6 -1.7l10.4 -7l2.8 -.6l1.7 .6l1.7 2.2l1.2 6l-.7 4.1l-1.2 2l-5 4.1l-6.6 4.1l-5.9 2zM832.6 912.5l6.2 1.2l4.9 .1l1.6 -.8l1.7 -2.5l0 -40.9l-9.9 -.6l-11.6 .8l-5 1.4l-2.1 2.5l-.1 4.1l1.7 14.3l2.6 12.3l2.9 5l3.3 2.1zM510.2 873.7l5.9 .5l5 -.4l5 -1.3l3.3 -1.6l4.8 -3.3l3.5 -3.3l3.3 -4.5l1.6 -3.4l1.5 -5.2l1 -8.1l.1 -10.3l-.7 -8.1l-1.2 -6.2l-1.5 -4.1l-2.5 -3.7l-3.3 -2.5l-1.6 -.5l-3.3 .1l-3.4 2.1l-1.6 1.8l-3.5 6.8l-4.2 16.4l-2.4 6.1l-3.1 4.7l-8.3 7.6l-3.3 5.1l-.9 5.1l1.1 4.1l1.3 2l2.3 2.1zM516.2 861.3l-1.4 -1.9l6 -10.2l5.4 -18.4l1.5 -3l1.7 -1.8l1.7 -.7l1.6 .4l2.7 3l1.6 6.2l-.2 6.1l-1.8 6.1l-2.5 4.1l-4.8 4.4l-6.6 4.3l-3.3 1.4zM795 871.7l4 -.3l6.3 -1.8l3.6 -2l.6 -2.1l-.7 -2l-1.5 -2l-5.3 -4.1l-6.3 -2.6l-4.9 -.2l-1.7 .9l-1.6 3.9l.7 6.1l.9 2.4l1.7 2.2l1.6 1zM269.4 792l.5 0l.9 -2.1l.1 -2l-1.5 -6.2l-3 -4l-1.7 -.6l-2.5 .6l-2 2l0 2l1.2 2.1l6.6 7.4zM543.8 601.9l3.8 1l5 -.9l3.3 -2.4l2.1 -3.8l.4 -4.1l-1 -4.1l-2.8 -4.1l-3.7 -2.3l-3.3 -.2l-3.3 1.4l-1.7 1.5l-2.1 3.7l-1.1 4.1l.2 4.1l1.4 3.6zM367.4 597.8l3.2 1.8l1.7 .2l3.3 -1l3.3 -2.8l6.6 -7.4l5 -3.1l4.9 -.6l13.2 1.1l3.4 -.6l3.3 -1.7l4 -4.3l7.7 -14.3l10.5 -10.2l4.4 -6.1l9 -20.5l1.1 -6.1l-.4 -6.1l-1.7 -8.2l-2.8 -8.2l-5.9 -14.3l-1.7 -6.1l-1 -6.2l-.2 -6.1l.8 -6.1l1.9 -4.1l1.9 -2.1l2.1 -1.2l1.7 -.5l3.3 .3l2.6 1.4l1.9 2.1l2 4.1l2.4 8.1l2 4.1l15.3 18.4l10.2 15.6l4.2 15.1l5.7 12.2l2.1 6.2l1.2 8l.9 12.4l2 8.2l2.1 4.8l1.6 2.4l1.7 1.2l3.3 .8l3.3 -.8l3.8 -2.3l7.8 -8.6l16.5 -16.5l5 -3.7l3.3 -1.1l3.3 .1l9.9 3.8l3.3 .7l3.4 -.7l1.6 -1l2.9 -3.6l1.5 -4.1l.8 -6.1l.2 -14.4l1.2 -4.1l1.7 -2.2l2.3 -1.8l12.6 -5.8l4.1 -2.4l2 -2.1l.8 -2l-.2 -2l-1 -2.1l-1.7 -2l-4 -2.4l-6.6 -2.2l-5 .3l-5 1.8l-4.9 2.5l-6.7 4.5l-4.9 1.7l-6.6 -.5l-3.3 -1.2l-3.5 -2.5l-2.7 -4.1l-1.2 -4.1l-1.8 -18.4l-5.2 -24.5l.7 -6.1l1.3 -2l2.4 -1.8l4 -.3l4.8 2.1l6.6 6.1l6.1 8.5l3.3 3.5l3.4 2.2l4.9 1.8l8.3 1.5l5 -.1l4.9 -1.5l8.3 -4.1l3.3 -.8l3.3 .8l11.6 8.1l6.6 2.3l9.9 .7l19.9 -1l4.9 .6l5.1 2l4.7 4.1l3.5 4.8l2.7 5.4l4.4 12.3l2.8 5l3.3 3.3l6.6 4.7l3.3 3.7l2.2 5.8l2.2 14.3l1.5 6.1l2.4 4.2l1.6 1.2l1.7 .4l1.7 -.6l1.6 -2.7l1.4 -6.6l1.9 -4.4l1.7 -2.1l7.4 -5.8l1.8 -2l6.6 -10.2l4.8 -6.1l7.5 -6.9l18.2 -13.4l5 -2.4l9.9 -2.7l9.3 -5.3l13.5 -4.1l8.6 -1.4l8.3 -.6l28.1 .9l0 -4.4l-36.4 -1.3l-31.4 4.4l-8.3 .2l-5 -1.1l-3.3 -2.8l-5.3 -12.3l-2.7 -4.1l-2.1 -2l-3.1 -2.2l-5 -2.2l-23.1 -6.1l-1.7 -1.2l-1.6 -2.4l-4.3 -8.4l-4 -6.1l-3.3 -2.8l-3.3 -.3l-2.3 1l-2.5 2.1l-2.9 4.1l-1.3 4l.3 4.1l1 2.1l2.7 2.3l3.3 1l13.3 1.9l3.3 2.4l1.6 4.1l1.4 6.7l2.4 18.4l.2 6.1l-1.3 4.1l-3.8 4.1l-12.1 5.6l-6.6 3.7l-5 1.3l-3.3 -1.2l-2.7 -3.3l-5.5 -14.3l-3.4 -6.2l-3.3 -4l-4.9 -3.1l-3.4 -.6l-3.3 .1l-26.4 4.4l-10 -.4l-4.9 -1.7l-3.3 -1.9l-9.9 -9.3l-1.7 -1.1l-3.3 -.9l-3.3 .8l-8.8 5.5l-4.4 2l-5 .7l-5 -.4l-4.9 -1.6l-4.6 -2.7l-10.3 -11.9l-5.7 -4.5l-5.9 -2.7l-5 -.4l-3.3 1.1l-2.1 2l-1.1 2l-.9 4.1l.3 6.2l3.3 22.4l1.6 22.5l2.2 5.9l3.3 4.2l13.3 10.2l3.3 4.2l3.2 8.2l.9 4.1l.2 4.1l-1 2.8l-1.7 1.1l-11.5 .4l-3.4 1.1l-3.3 2.1l-4.9 4.6l-11.6 12.9l-11.6 14.9l-1.6 1.5l-3.3 1.5l-3.3 -.2l-1.7 -.9l-1.7 -1.8l-1.6 -3.3l-1.6 -6l-.7 -12.3l-1.6 -10.2l-1.9 -6.1l-6.2 -14.4l-2.4 -12.2l-1.4 -4.1l-9 -15.4l-9.9 -9.4l-5 -5.9l-2.2 -4.1l-3.4 -12.2l-2 -4.1l-4 -3.4l-5 -1.3l-4.9 .2l-3.3 1l-2.5 1.5l-2.5 3.4l-1.1 4.7l-.3 10.2l1.2 12.3l1.8 8.2l4.5 16.3l1.3 8.2l-.4 10.2l-3.3 16.4l-1.5 4.1l-2.4 4.1l-11.4 11.8l-8.2 13.4l-1.7 1.8l-3.3 2.2l-5 1l-11.5 -1.3l-5 .3l-5 2l-8.2 5.7l-3.3 1.2l-1.7 -.1l-3.3 -1.5l-8.3 -6.3l-4.9 -2.1l-5 -.4l-13.2 2l-3.3 -.1l-3.4 -1.1l-4.1 -4l-5.1 -10.2l-2.3 -3.6l-3.3 -2.5l-3.3 -.5l-3.4 1.1l-3.3 3.1l-2.8 4.4l-5 10.2l-3.7 4.4l-5 3.2l-6.6 3.1l-5 1.7l-3.3 .3l-3.3 -1.3l-8.3 -7.4l-4.9 -3.3l-16.6 -6.6l-13.2 -7l-13.2 -4.9l-3.4 -1.7l-3.1 -3l-1.4 -2l-5.4 -10.5l-1.6 -1.8l-3.3 -1.7l-3.4 .1l-3.3 2.6l-2 3.1l-3.7 8.2l-1.3 2l-2.9 2.5l-3.3 1.2l-3.3 .3l-8.3 -1.5l-4.9 -2.2l-10 -6.1l-11.5 -5.8l-5 -3.4l-6.6 -7.1l-6.5 -8.5l-2 -4.1l-.8 -6.1l.7 -4.1l2.1 -6.1l3 -6.2l3.5 -5.7l4.9 -5.9l11.6 -11.4l9.9 -11.9l3.4 -4.8l4 -9.3l4.1 -16.4l2.3 -6.1l2.5 -4.1l1.9 -2l5 -3.3l8.3 -3.5l8.2 -2.3l16.6 -.6l6.6 -1.4l5 -3.2l7.4 -8.2l4.2 -2.8l3.3 -.4l4.6 1.1l3.5 2.1l6.7 5.6l1.7 .3l1.7 -.7l5.6 -5.2l3 -2.1l4.6 -1.7l3.3 .1l3.3 1.7l2.8 4l4.8 18.4l2.4 4.1l3.2 3.4l3.3 2.7l5 3l13.2 4.9l4 2.4l4.3 4.6l6.1 11.7l3.8 3.6l6.7 2.2l11.5 1l6.6 -.9l5 -2.5l3.5 -3.4l6.9 -10.2l2.8 -2.5l1.7 -.7l3.3 .1l3.3 1.6l11.6 11.6l3.9 2.1l4.4 1.4l6.6 .4l4.9 -.8l16.2 -7.1l5.4 -4.1l5.9 -10.2l3.3 -4.1l4 -3.2l8.2 -5l2.2 -2l1.9 -4.1l.4 -4.1l-.4 -6.1l-1 -4.1l-3 -6.3l-1.8 -1.9l-3.2 -1.9l-5 -.9l-11.6 1l-4.9 -.4l-14.9 -4.1l-6.6 -3.3l-2.4 -2.6l-1.8 -4.1l-2.5 -18.4l-1.6 -3l-1.6 -.8l-5 .9l-5 3.5l-3.3 3.9l-5 7.8l-3.2 3.5l-3.4 .9l-3.3 -.9l-4.9 -4.2l-11.6 -14.1l-6.6 -6.9l-5 -3.2l-11.6 -4.8l-3.3 -2.4l-3.8 -4.7l-5.8 -10.3l-3.6 -2.9l-5 -.7l-14.9 1.7l-8.2 -.7l-8.3 -2.8l-13.2 -7.6l-5 -.8l-3.3 1.4l-6.5 8.4l-2.2 2l-4.5 2.5l-5.3 1.6l-8 .9l-4.9 -.9l-1.7 -2l-6.8 -18.4l-.9 -4.1l.2 -2.1l.9 -2l1.7 -1.5l4.9 -1.5l5 .2l8.2 2.8l1.7 -.6l.4 -1.5l-3.7 -7.2l-1.8 -9.1l-.2 -14.3l.9 -4.1l1.1 -2l1.7 -1l1.6 -.2l13.2 1.7l3.3 -.2l3.4 -1.1l3.3 -2.4l2.4 -3l2 -4.1l3.8 -10.1l1.7 -2.4l1.6 -1.2l3.4 -.5l11.5 2.3l3.3 -.8l1.7 -1.1l3.3 -4.1l11.8 -20.9l1.1 -4.1l-.3 -2l-1.1 -2.1l-1.6 -1l-3.3 -.5l-5.1 1.5l-23.2 12.3l-2.6 2l-7.1 7.7l-3.3 1l-3.3 -.1l-5 -2l-2.8 -2.5l-2.3 -4.1l-.6 -4.1l.4 -2l1.3 -2.1l7.3 -4.6l3.1 -3.5l0 -8.2l-23 0l0 8.2l-1.6 1.4l-5 1.8l-14 2.9l-3.6 2l-1.5 2.1l-.8 4.1l.8 6.1l2.6 7.9l5.5 12.5l.7 4.1l-.7 2.1l-2.2 2l-3.5 2.1l-14.7 7.3l-5 1.6l-4.9 .4l-7.3 -1.2l-6 -3l-3.3 -4.6l-.9 -4.6l.7 -4.1l1.1 -2.1l10.7 -10.6l3.3 -5.2l2 -4.6l1.5 -6.1l.3 -4.1l-1.5 -4.1l-2.3 -1.5l-3.3 -.8l-4.9 -.1l-3.4 .5l-4.5 1.9l-2.2 2l-1.5 2.6l-4.1 13.8l-2.5 4.6l-1.7 1.5l-3.3 1.5l-8.3 .7l-3.3 -.5l-3.3 -1.7l-1.7 -2l-1.6 -4.1l-1 -6.1l-.2 -6.2l.4 -8.1l.8 -4.1l0 -8.2l-79.4 0l0 167l5 -5.5l4.3 -8.2l3.4 -4.1l2.2 -1.4l3.3 -1l8.3 -.3l2.3 -1.4l1.4 -2l2.1 -8.2l.3 -8.2l-.9 -4.1l-4.7 -8.1l-1.7 -4.1l-.4 -4.1l1.6 -4.5l3.3 -3.2l3.3 -1.3l3.3 -.1l6.6 1.4l1.7 -.9l4.1 -5.7l2.5 -2.2l3.3 -1.4l3.3 -.1l3.3 .9l9.9 5.2l10 1.3l6.6 2.5l5 4l6.6 9l3.3 1.8l8.2 .2l14.9 -2.6l5 -.2l3.3 1l1.6 1.2l3 3.9l1.7 4.1l.7 4.1l-.8 4.1l-1.2 2l-2.4 2l-4 2.1l-15.2 3.6l-8.2 3.4l-3.3 2.5l-2.7 2.8l-3.4 6.1l-1 4.1l-.1 4.1l.8 6.1l1.7 6.1l1.7 4.1l2.6 4.1l5.3 4.2l23.2 8.7l3.3 .6l3.3 -.6l5 -4l9.9 -13.2l8.3 -9.2l6.6 -12.7l3.3 -4.4l3.3 -2.5l3.3 -1.3l5 -.7l4.9 .1l16.6 3l21.5 2l8.2 2.4l3.4 2.3l3.3 4.6l7.3 22.7l3.4 6.2l4.2 4.5l4.9 2.3l3.3 .3l3.3 -.5l5.5 -2.5l8.8 -8.2l2.3 -.8l1.6 .2l3.3 2.2l3 4.5l2.2 6.1l2.5 10.3l.3 2l-1.4 2.7l-1.4 5.5l.2 4.1l2.2 12.2l-.2 6.2l-.8 3.9l-1.6 4.1l-1.7 2.2l-3.3 2.1l-3.3 .5l-4.9 -1.3l-3.3 -2.8l-6.7 -11.4l-4.9 -5.1l-5 -2.6l-15.4 -6l-4.4 -2.5l-3.3 -2.6l-3.9 -5.1l-5.5 -12.3l-3.9 -6.1l-3.3 -3.3l-4.9 -2.5l-6.7 -.1l-13.2 3.4l-3.3 -.3l-11.6 -2.3l-6.6 .4l-3.3 1.5l-3.3 2.5l-8.1 8.9l-3.5 2.4l-5 1.4l-11.5 -.4l-3.4 .6l-21.7 10.3l-6 4.1l-4.4 6.1l-1.3 4.1l-2.9 15.7l-1.7 4.7l-2.3 4.1l-2.7 3.5l-9.1 8.8l-19 20.1l-4.6 6.4l-7.2 12.3l-3.3 8.2l-.7 6.1l1.1 6.1l3.1 5.2l16.6 18.1l6.6 5.4l24.8 11.7l19.9 6.5l9 6.3l4.2 1.9l3.3 .4l3.3 -.4l13.2 -4.9l3.4 -.2l4.9 .9l13.3 5.4l14.8 2.8l6.4 2.3l5.5 4l8.6 10.3l2.7 1.6l3.3 .4l5 -1.8l16.5 -9.5l3.3 -2.4l3.2 -4.7l5.1 -12.3l1.6 -2.1l3.4 -1.6l3.3 1.3l1.6 1.9l5 11.1l3.3 4.3l3.3 1.5l3.3 .5l14.9 -1.8l3.3 0l3.3 .8l3.3 1.7l3.2 2.9zM739.5 461.1l-3.3 -1.6l-2.5 -2.7l-1.7 -4.1l-.4 -4.1l1.5 -4.1l3.1 -1.9l3.3 -.5l3.3 .4l5 2l3.4 4.1l1.1 4.1l-.6 4.1l-2.3 3l-1.6 .9l-3.4 .8zM359 410.1l-3.3 -2.4l-1.4 -2l-.9 -2.1l1 -2l3 -1l3.3 -.2l3.3 .9l3 2.3l1 2.1l.1 2l-1.2 2.1l-2.9 1zM410.3 410.2l-2.4 -2.5l-.7 -4.1l.7 -2l2.4 -1.8l3.3 .2l3.6 1.6l4.2 4.1l.8 2l-.7 2.1l-2.9 1.3l-5 .2zM436.8 410.3l-1.3 -.5l-.6 -2.1l1.4 -2l3.8 -2.1l1.8 0l1.5 1.5l0 2.6l-1.7 1.7l-1.6 .8zM183.7 375.1l-6.6 -1.7l-5 -2.4l-3.3 -2.9l-2.3 -3.3l-1.7 -4.1l-.9 -6.1l1 -6.1l2.2 -4l3.3 -2.8l5 -1.8l5 -.5l11.5 .1l5 -1l11.6 -3.6l3.3 .3l1.4 3.1l0 2l-1.4 6.1l-2.1 4.1l-11.3 16.4l-3.2 4.1l-3.2 2.7l-3.4 1.3zM783.7 501.8l5.4 .2l5 -1.9l2.6 -2.3l1.7 -4.1l-.9 -4.1l-3.4 -4.5l-5 -3.2l-3.3 -1.1l-3.3 -.3l-3.3 1.6l-1.7 2.6l-.9 2.8l-.4 4.1l.9 4.1l1 2.1l2.7 2.7zM97 430.2l2.3 -.5l1.7 -1.3l1.5 -4.3l-.1 -4.1l-.7 -2l-.7 -1.1l-1.7 -.8l-1.6 .1l-3.3 1.7l-1.7 2.1l-.7 2l-.2 2.1l.9 3.6l1.7 1.7zM112.5 395.5l1.7 -.9l1.7 -1.9l5.9 -9.5l8.9 -9.5l1.7 -2.8l1.7 -5l.6 -9.3l-1.5 -8.1l-1.9 -4.1l-2.2 -3.2l-1.7 -1.6l-3.3 -1.7l-3.3 .2l-3.3 2.1l-3.6 4.2l-3 6.1l-.5 6.1l2.1 14.3l-1.6 14.4l-.2 6.1l.2 2.1zM555.4 381.2l5.4 .7l5 -.4l3.3 -1l3.3 -2.9l2.1 -6.7l.1 -12.2l3.3 -8.2l0 -4.1l-1.9 -4.1l-1.6 -2l-12.4 -10.2l-3.6 -4.1l-2 -4.1l-1 -6.1l.7 -20.5l.8 -6.1l7.7 -22.5l2.1 -4.1l6.5 -10.2l.1 -2l-.9 -1.2l-1.6 -.9l-3.4 .6l-3.3 2.4l-11.5 14.7l-3.4 6.9l-4.7 14.3l-4.8 8.1l-9.6 14.3l-1.8 4.1l-1 4.1l0 4.1l1.3 8.2l2.3 10.2l1.7 4.1l5.6 10.2l6.1 16.3l2.3 4.1l2.6 3l3.4 2.1zM562.5 375.1l-5 -1.4l-4.9 -3l-3 -3.8l-1.6 -4.1l-.6 -4.1l.8 -10.2l-.4 -10.2l1.5 -4.2l1.6 -1.5l1.5 -.5l3.5 .6l2.8 1.5l3.8 4.1l8.3 6l1.6 4.2l.1 2l-1.2 6.1l.1 10.3l-.8 4.1l-1.5 2.4l-1.7 1.2l-1.6 .6zM403.2 346.4l2.2 1.3l3.2 .5l5 -.1l5 -1l5.1 -2.7l8.1 -7.2l3.3 -1.7l1.7 -.2l3.3 .5l7.6 4.5l4 1.3l1.6 .4l6.6 -.6l10 3.7l14.8 -1.7l2.5 -1.1l.8 -2l-4.3 -8.2l-2.1 -6.1l-8.4 -9.2l-3.3 -2.6l-3.4 -.9l-3.3 .1l-11.5 2.3l-11.6 -1l-4.4 1.1l-17.1 7.8l-8.3 1.6l-3.3 1.7l-2.8 3.2l-1.6 4.1l-.6 8.1zM469.9 331.9l-1.5 -1.9l-.2 -2l1.7 -1l1.6 -.1l1.7 .8l0 1.3l-1.7 2.5zM608.8 326l1.7 -.4l2.3 -1.7l1.3 -2l.5 -4.1l-.8 -2.8l-1.7 -2.1l-1.6 -1l-3.4 -.3l-1.6 .5l-2.1 1.6l-1.2 2.1l-.4 4.1l.6 2l1.4 2.1l3.3 1.8z"/>
<path fill="#ffa000" fill-rule="evenodd" d="M347.3 1008.6l43.1 0l-3.3 -.4l-2.9 -1.6l-.2 -2.1l.7 -2l1.4 -2.1l2.7 -2.2l4.4 -1.9l3.9 -.6l4.9 0l4 .6l4.5 2.1l4.8 3l3.3 1.1l11.5 .4l8.3 -.8l5 -2.6l9.9 -10l16.5 -12.3l4.6 -5.4l6.2 -10.2l4 -4.1l5.1 -2.8l14.9 -5l14.9 -9.1l8.2 -2.1l16.6 -.3l6.6 -.8l23.2 -6.7l36.4 -6.2l6.9 -1.7l5.3 -2.1l6.2 -4.1l1.7 -2l-.5 -2.1l-10.8 -14.3l-9.4 -10.2l-1.1 -2l.7 -2.1l4 -2l10.2 -2.7l6.6 -2.7l5 -3.4l9.9 -9.6l3.3 -2l3.3 .6l8.3 5l3.3 1.4l3.3 .5l3.3 -.6l5 -3.1l11.5 -11.3l3.4 -2.1l4.9 -1.6l5 .4l4 2.6l2.6 4.1l4.5 12.2l2.1 2.3l1.7 .6l3.3 .2l18.2 -3.6l4.9 0l4.3 2.6l7.3 8.5l3.3 2.5l3.3 1.6l6.6 1.5l16.6 -.6l3.3 .3l3.3 1.1l6.6 4.4l14.9 13.1l11.6 7.2l3.3 3.2l4.6 6.2l3.7 3.2l1.6 1l3.3 .4l1.8 -.5l2.7 -2l3.8 -5.1l0 -7.2l-1.7 2.5l-1.6 .8l-6.6 -.3l-8.3 -2l-3.3 -2.1l-1.7 -2.2l-1.6 -4.1l-1.6 -6.9l-2.4 -20.4l.2 -2.1l1.3 -2l4.1 -1.6l13.3 -1.1l9.9 .6l0 -57.2l-1.7 -1l-3.3 -1.2l-4.9 -.3l-5 .6l-5 1.9l-4.9 4.1l-6.6 9.6l-3.3 1.9l-3.3 .4l-6.7 -1.7l-18.2 -9.6l-6.6 -2.9l-6.6 -1.6l-6.6 .1l-3.3 1.1l-3.3 2l-3.3 3.4l-6.6 8.8l-1.7 1.3l-3.3 .9l-4.1 -1.5l-4.2 -4.2l-3.3 -5.4l-8.3 -16.7l-4.9 -7.1l-6.6 -5.7l-8.3 -3.4l-8.3 -.8l-3.3 .7l-3.3 1.8l-3.3 4.3l-5.5 14.1l-2.8 3.2l-3.3 1.9l-3.3 .8l-6.6 .5l-28.1 -.6l-19.9 1.1l-4.9 -.4l-5 -1.7l-3.3 -2l-8.7 -6.9l-6.2 -3.3l-14.9 -3.5l-5 -1.7l-4.9 -3.1l-8.3 -7.4l-3.3 -1.9l-5 -1.2l-8.2 .1l-8.3 1.4l-5 1.7l-3.7 2.5l-2.7 4.1l-1.4 4.1l-1.1 6.1l-.9 22.5l-.7 6.1l-1.7 6.2l-2.7 4.5l-3.3 2.7l-8.2 4.6l-3 2.5l-2.7 4.1l-4.3 10.2l-1.6 .9l-8.3 -2.8l-4.9 -.1l-4.7 2l-3.6 4.1l-.8 2l-.3 4.1l2.1 12.3l.7 14.3l.9 4.1l3.2 8.1l0 2.1l-.8 1.2l-1.7 .6l-5 -.6l-3.3 .5l-3.3 2.2l-1.6 2.1l-3.3 6.8l-2.2 13.8l-1.2 3.4l-1.6 2.7l-3.3 2.5l-11.6 3.5l-8.3 3.4l-8.7 9l-14.4 10.7l-5 1.3l-4.9 -.8l-1.8 -1l-1.6 -1.8l-.9 -2.3l-.2 -2l.8 -4.1l2.5 -4.1l2.8 -2.3l8.3 -4.4l14.3 -11.7l10.6 -14.3l9 -16.4l4.9 -12.2l1.5 -8.2l-.1 -6.1l-2.3 -12.3l-2.4 -18.4l1.2 -8.2l3 -7l1.6 -2l3.3 -2.3l13.3 -5.7l9.9 -6.3l10.4 -5.3l2.8 -2.4l2.2 -3.7l1 -4.1l.3 -6.1l-2.3 -28.6l-1.9 -8.2l-6.1 -14.3l-1.7 -8.2l.7 -6.1l6.4 -14.3l1.8 -8.2l-.1 -8.2l-2.8 -20.4l.3 -6.1l1.2 -4.1l1.3 -2.1l2.8 -2l11.8 -3.5l6.6 -3.5l3.4 -3.2l6.6 -10.4l3.3 -3.7l3.6 -2.3l7.9 -3.1l3.4 -2.4l1.6 -2.7l1.2 -4.1l2.3 -14.3l2.2 -4l4.2 -2.3l13.3 -2.5l4 -1.4l2.6 -1.8l1.6 -2.2l1.4 -4.1l.3 -4.1l-.7 -6.2l-2.1 -6.1l-2.3 -4.1l-3.2 -3.5l-3.3 -2l-3.3 -1.2l-5 -.5l-3.3 .4l-3.3 1.3l-2.8 3.5l-2.7 8.1l-2.7 13.6l-1.7 3.7l-1.7 1.7l-4.9 1.8l-8.3 .2l-6.6 -1.6l-3.3 -2.5l-2.2 -4.6l-1.8 -8.2l-1.3 -2l-6.3 -5.3l-3.3 -5l-2.1 -6.1l-2 -10.2l-3.1 -8.2l-3.6 -14.3l-2.2 -6.1l-3.5 -5.2l-6.7 -5.7l-2.8 -3.4l-2.7 -6.1l-14.9 -28.6l-2.6 -8.2l-1 -6.2l.4 -6.1l2.1 -4l1.7 -1l1.6 -.1l1.7 .4l1.7 1.5l1.7 3.2l2.2 8.2l1.7 4.1l2.8 4.1l7.1 8.1l7.6 12.3l9 12.3l3.3 10.2l5.9 11.7l2.4 6.7l.7 6.1l-.6 8.2l.3 4.1l3.4 10.2l4.6 10.2l.8 1.6l1.6 1.3l3.4 .4l3.3 -.7l6.6 -3.3l6.6 -5.1l9.9 -6l8.3 -9.6l5 -3.4l4.9 0l8.3 3.5l4.9 1.3l5 -.4l3.3 -1.3l3.4 -2.8l3.2 -5.4l2.2 -6.9l2.7 -12.2l3.2 -6.2l3.5 -3.2l4.9 -2.9l10 -3.8l6.6 -.7l6.6 1.2l21.5 11.1l2 2.4l.7 2.1l1 8.1l1.3 4.1l3.2 4.1l3.4 2.3l5 1.1l3.3 -.8l3.3 -3.1l1.6 -3.6l1.3 -6.1l.4 -6.1l-1 -10.3l-1.8 -4l-3.8 -6.2l-4.6 -14.3l-2 -4.1l-1.7 -2.2l-2.3 -1.9l-2.6 -1.1l-5 -1.1l-5 -.3l-16.5 4.1l-8.3 5.3l-3.3 .3l-2.3 -1l-7.6 -7.2l-6.6 -2.9l-5 -3.2l-3.3 -.7l-8.3 2.6l-11.6 2.4l-6.6 2l-3.3 .3l-1.6 -.5l-1.7 -1.2l-1.6 -2.7l-2.7 -11.4l-7.3 -20l-.9 -4.5l.3 -4.1l1 -2.1l2.9 -2l1.7 -.2l1.6 .4l4.2 3.9l7.4 12.2l3.3 4.3l3.3 2.4l5 1.9l18.2 3.4l3.3 -.6l8.3 -2.8l4.9 -.4l13.3 5.2l4.9 1.4l11.6 1l13.3 -.5l9.9 2.2l4.9 2.8l3.9 4.3l3.5 6.1l1.8 6.1l1.5 10.2l1.4 4.1l2.8 3.4l8.3 5.6l1.7 1.7l2.2 3.6l1.7 6.2l2.3 16.3l2.3 6.2l1.4 2.1l3.3 3.1l10.4 5l2.8 3.1l.9 3l2 20.4l2.1 4.3l1.6 1.5l3.3 1.2l3.4 -.8l3.3 -3.2l1.3 -3l2.8 -10.2l4.4 -8.1l1 -4.1l.5 -12.3l8.6 -18.4l2.1 -12.3l.8 -1.6l1.6 -1.1l1.7 -.2l6.6 1l5 -.4l26.4 -6.7l9.9 -4l6.7 -5.1l2.3 -4.3l0 -4.1l-4.1 -12.3l.2 -4.1l1.4 -2l5.1 -2.9l4.5 -1.2l5.5 -.7l11.5 0l8.3 1.6l0 -6.1l-26.5 -.9l-8.2 .4l-8.3 1.2l-9.8 2.4l-5.7 2.1l-9.3 5.3l-9.9 2.7l-5 2.4l-18.2 13.4l-7.5 6.9l-4.8 6.1l-6.6 10.2l-1.8 2l-7.4 5.8l-1.7 2.1l-1.9 4.4l-1.4 6.6l-1.6 2.7l-1.7 .6l-1.7 -.4l-1.6 -1.2l-2.4 -4.2l-1.5 -6.1l-2.2 -14.3l-2.2 -5.8l-3.3 -3.7l-6.6 -4.7l-3.3 -3.3l-2.8 -5l-4.4 -12.3l-2.7 -5.4l-3.5 -4.8l-4.7 -4.1l-5.1 -2l-4.9 -.6l-19.9 1l-9.9 -.7l-6.6 -2.3l-11.6 -8.1l-3.3 -.8l-3.3 .8l-8.3 4.1l-4.9 1.5l-5 .1l-8.3 -1.5l-4.9 -1.8l-3.4 -2.2l-3.3 -3.5l-6.1 -8.5l-6.6 -6.1l-4.8 -2.1l-4 .3l-2.4 1.8l-1.3 2l-.7 6.1l5.2 24.5l1.8 18.4l1.2 4.1l2.7 4.1l3.5 2.5l3.3 1.2l6.6 .5l4.9 -1.7l6.7 -4.5l4.9 -2.5l5 -1.8l5 -.3l6.6 2.2l4 2.4l1.7 2l1 2.1l.2 2l-.8 2.1l-2 2l-4.1 2.4l-12.6 5.8l-2.3 1.8l-1.7 2.2l-1.2 4.1l-.2 14.4l-.8 6.1l-1.5 4.1l-2.9 3.6l-1.6 1l-3.4 .7l-3.3 -.7l-9.9 -3.8l-3.3 -.1l-3.3 1.1l-5 3.7l-16.5 16.5l-7.8 8.6l-3.8 2.3l-3.3 .8l-3.3 -.8l-1.7 -1.2l-1.6 -2.4l-2.1 -4.8l-2 -8.2l-.9 -12.4l-1.2 -8l-2.1 -6.2l-5.7 -12.2l-3.8 -14.3l-10.6 -16.4l-15.3 -18.4l-2 -4.1l-2.4 -8.1l-2 -4.1l-2.8 -2.8l-1.7 -.7l-3.3 -.3l-3.8 1.7l-3.1 4.1l-1.4 6.2l0 6.1l2.1 12.3l7.4 18.4l2.5 8.1l1.5 8.2l-.4 8.2l-8.6 20.4l-2.2 4.1l-3.2 4.1l-10.5 10.2l-7.7 14.3l-3.7 4.1l-3.6 1.9l-3.4 .6l-13.2 -1.1l-4.9 .6l-5 3.1l-6.6 7.4l-3.3 2.8l-3.3 1l-1.7 -.2l-1.7 -.7l-3.3 -2.8l-8.2 -10l-5 -3.1l-3.3 -.8l-3.3 0l-14.9 1.8l-3.3 -.5l-3.3 -1.5l-3.3 -4.3l-5 -11.1l-1.6 -1.9l-3.3 -1.3l-3.4 1.6l-1.6 2.1l-5.1 12.3l-3.2 4.7l-3.3 2.4l-18.2 10.3l-3.3 1l-3.3 -.4l-3.3 -2.1l-6.2 -7.7l-3.7 -3.8l-6.7 -3.6l-16.5 -3.3l-13.2 -5.4l-6.6 -1.4l-5 .6l-11.6 4.5l-3.3 .4l-3.3 -.4l-4.2 -1.9l-9 -6.3l-19.9 -6.5l-23.1 -10.7l-7 -5.1l-18.7 -20.5l-2.3 -4.1l-1 -4l-.1 -4.1l1.3 -6.2l5 -10.2l9.3 -14.3l19.2 -20.4l9.1 -8.8l2.7 -3.5l2.3 -4.1l1.7 -4.7l2.9 -15.7l1.3 -4.1l4.4 -6.1l6 -4.1l21.8 -10.3l3.3 -.6l11.5 .4l5 -1.4l3.5 -2.4l8.1 -8.9l3.3 -2.5l3.3 -1.5l6.6 -.4l11.6 2.3l3.3 .3l13.2 -3.4l6.7 .1l4.9 2.5l3.3 3.3l3.9 6.1l5.5 12.3l3.9 5.1l3.3 2.6l4.4 2.5l15.4 6l5 2.6l3.9 3.7l6 10.6l3.1 3.7l3.5 2.1l5 .4l3.3 -1.3l3.2 -3.3l1.7 -4l1 -6.2l-.2 -6.1l-2.2 -12.3l.4 -4.1l2.4 -6.1l-2.8 -12.3l-2.2 -6.1l-3 -4.5l-2 -1.6l-2.9 -.8l-3.3 1.5l-5.4 5.4l-4.6 3.4l-3.3 1.2l-3.3 .5l-4.9 -.8l-5 -3.3l-3.8 -5.1l-3.7 -8.2l-3.4 -12.2l-2.2 -6.1l-1.8 -3l-3.3 -3.2l-3.3 -1.7l-6.6 -1.7l-21.5 -2l-14.6 -2.8l-5.3 -.4l-4.9 .4l-3.3 .9l-5 3.3l-3.3 4.4l-6.6 12.7l-8.3 9.2l-9.9 13.2l-5 4l-3.3 .6l-3.3 -.6l-21.5 -7.9l-3.3 -1.8l-3.3 -2.8l-4 -6.5l-2 -6.2l-1.1 -6.1l0 -6.1l1 -4.1l3.4 -6.1l2.7 -2.8l3.3 -2.5l8.2 -3.4l15.2 -3.6l4 -2.1l2.3 -2l1.3 -2l.8 -4.1l-.7 -4.1l-1.7 -4.1l-3 -3.9l-1.6 -1.2l-3.3 -1l-5 .2l-14.9 2.6l-8.2 -.2l-3.3 -1.8l-8.3 -10.7l-5 -3.2l-6.6 -1.9l-8.3 -1l-11.6 -5.8l-3.3 -.4l-3.3 .7l-3.3 2.2l-4.9 6.6l-1.7 .9l-6.6 -1.4l-3.3 .1l-3.3 1.3l-3.3 3.2l-1.6 4.5l.4 4.1l1.7 4.1l4.7 8.1l.9 4.1l-.3 8.2l-2.1 8.2l-1.4 2l-2.3 1.4l-8.3 .3l-3.3 1l-2.2 1.4l-3.4 4.1l-4.3 8.2l-5 5.5l0 184.5l2.6 -6.1l2.4 -2.6l21.5 -10.3l3.3 -.9l1.6 .2l2.2 1.3l4.8 6.2l3 2.7l13.2 6.2l5 3.3l8.2 9.1l5 4.2l17 9.2l7.8 5l13.8 7.3l3.4 4.1l2.6 8.6l1.7 1.6l8.3 .4l26.4 -1l16.6 3.1l4.9 -.9l11.6 -5.5l5 -.7l3.3 .5l4 2l2.6 3.1l2.3 5.1l2.7 10.8l1.6 1.4l1.7 .4l4.9 -.3l5 -1.2l5 -2.3l11.5 -7.3l3.4 -.5l1.6 .6l2.2 2.5l1.4 4.1l.5 8.2l-.7 6.1l-2.3 6.1l-7.6 10.2l-2.4 4.1l-1.8 6.2l-.3 6.1l2.7 23.8l1.7 7.3l1.6 3.6l1.7 2.1l3.3 2.3l3.3 1.1l5 .5l4.9 -1.2l3.4 -2.7l1.3 -2.1l3.6 -8.1l1.7 -.4l6.6 .6l6.6 -1.6l21.5 -13.8l5 -.4l8.2 2.6l3.3 -.2l10.9 -9.3l3.9 -4.1l2.7 -4.1l2.8 -6.1l3.1 -4.1l3.1 -2.2l5 -1.6l1.6 .6l.8 1.1l.2 2.1l-1.6 4.1l-7.6 8.6l-2.8 5.7l-.6 6.1l.9 14.3l-.2 8.2l-.7 4.1l-1.4 4.1l-3.5 5.5l-1.7 1.4l-3.3 1.3l-3.3 -.8l-3.1 -3.3l-3.5 -8.2l-1.7 1.7l-2.3 8.5l-4.2 6.1l-13.3 9.4l-9.9 8.1l-3.3 1.6l-3.3 .6l-14.9 -1.6l-3.3 .7l-3.3 2.1l-3.4 3.5l-4.2 6.3l-5.7 13l-1.6 1.9l-1.7 .6l-1.6 -.3l-3.4 -2.2l-14.8 -15.4l-3.3 -2.7l-5 -3l-14.9 -5.3l-14.9 -7.8l-9.9 -1.9l-3.3 -1.2l-6.6 -7.3l-5 -3.4l-5 -.5l-8.2 2.9l-1.7 .1l-3.3 -.8l-19.8 -13l-5 -1.8l-6.6 -.3l-11.6 1.5l-8.3 .4l-28.1 -.6l-13.2 -1.2l-5 .2l-3.3 .9l-3.3 2.2l-11.3 14.3l-1.9 1.5l-1.7 .1l-1.7 -.7l-4.9 -4l-5 -2.5l-4.9 -.5l-5 1l.4 52.1l-.4 143.7l2.6 -.6l2.4 -1.5l4.9 -5.2l3.3 -.9l5 -.3l3.3 .6l1.7 1.1l6.6 7.7l4.9 2.5l5 -.1l8.3 -3.8l3.3 -.8l16.5 2.5l3.3 -.8l1.5 -1l4.1 -6.1l2.7 -1.3l1.7 0l3.7 1.3l1.2 1.4l2.2 4.7l3.2 4.1l3.6 2l4.2 .7l3.4 -.6l3.5 -2.1l3.4 -4.1l3 -5.5l1.6 -1.4l8.3 -.8l13.2 -2.5l6.7 .3l11.5 1.9l5 -.1l5 -1.7l2.6 -2.5l2.2 -4.1l1.1 -4l.1 -6.2l-1.2 -4.1l-3.3 -4l-3.2 -1.9l-3.3 -1l-5 -.2l-9.9 2.4l-1.2 -1.4l.7 -10.2l-.8 -8.2l-1.2 -4.1l-2.5 -3.3l-3.3 -.7l-3.3 .8l-3.3 1.8l-3.3 2.4l-6.6 6.7l-3.3 2.2l-1.7 .3l-3.3 -.6l-1.6 -.9l-3.3 -3.5l-6.8 -9.3l-3 -10.2l-1.9 -4.1l-3.2 -4l-8.3 -5.7l-.8 -2.5l.8 -4.9l2.7 -5.3l3.9 -4.2l5 -3l3.3 -.7l1.7 .3l1.6 1.2l1.1 2.3l1.5 10.2l1.8 4.1l3.9 3.6l3.3 .9l4.9 -1.1l3.4 -2.3l8.2 -11.2l6.6 -6.3l5 -2.5l3.3 -.4l1.7 .5l1.3 2.4l.3 10.2l2 6.2l3 3.5l1.6 .9l3.3 .6l5 -1.6l3.6 -3.4l2.2 -4.1l2.5 -10.5l1.6 -2.3l5 -1.5l6.6 .5l1.7 .6l1.6 2.3l1.1 10.9l1.9 6.1l2.7 4.1l2.6 2.1l3.3 1.4l5 -.3l4.9 -2.1l6.6 -5l1.7 .4l1.7 3.9l3.7 16l2 6.1l2.5 3.9l3.3 1.6l1.7 -.3l1.6 -1l1.7 -2.7l1 -3.6l2.8 -26.5l1.3 -6.2l1.9 -4l4.6 -4.1l6.6 -2.8l14.9 -4.3l19.8 -9.6l5 -1.6l3.3 .6l1.6 1.3l5.3 6.1l4.7 2.9l4.9 .5l5 -1.7l3.3 -3.3l2.1 -4.5l1.5 -6.1l1.7 -12.3l1.9 -6.1l7.7 -9.5l2.4 -4.8l1.6 -6.1l3.2 -20.5l7.7 -27.7l3.3 -6.9l1.6 -1.4l1.7 0l1.7 1.8l5.7 15.8l2.7 4.1l3.1 3l5 2.3l3.3 -.3l3.3 -2.5l1.3 -2.5l1.2 -6.1l-.8 -10.4l-1.7 -7.4l-3.3 -9.6l-6 -11.5l-.2 -4l1.2 -3.7l1.7 -1.7l1.6 -.8l1.7 .1l9.9 5.9l8.3 1.8l8.3 -.1l3.3 -1.6l.6 -2l-.1 -2l-1.3 -4.1l-2.5 -4.1l-8.3 -10.2l-1.9 -4.1l-.5 -4.1l1.5 -6.1l6.6 -16.4l2.3 -10.2l1.5 -14.3l-1.9 -18.4l-.1 -10.2l.8 -4.2l1 -1.9l2.3 -1.7l3.3 -.5l3.3 1l1.7 1.2l2.8 4l2.2 6.2l2.8 14.3l13.8 30.6l.6 6.2l-2.2 14.3l-.2 6.1l1.7 5.2l4.8 7.1l1.7 4l.5 4.1l-1.2 6.2l-2.5 4.6l-4.1 3.5l-5.9 1.8l-13.2 .4l-1.6 .7l-1.2 1.2l-.9 4.1l.6 47l-1.6 8.2l-5.1 12.3l-1.1 8.1l1.1 12.3l6 24.5l1.9 12.3l.2 12.3l-.9 6.1l-1.2 4.1l-2 4.1l-4.1 4.9l-5 3.6l-4.9 1.6l-3.4 -.5l-3.3 -2.1l-8.2 -8.9l-3.3 -2.4l-3.4 -.9l-1.6 .3l-3.3 2.7l-1.6 3.7l-.4 4.1l3.6 22.5l-.9 26.5l2.7 28.6l-1 12.3l-2.2 8.2l-2.9 6.1l-3.9 6.1l-12.9 14.4l-8.6 6.8l-10.8 5.4l-6.4 4.1l-4.3 4.1l-6.7 8.5l-4.9 5.2l-16.6 11.4l-2.1 3.5l-.9 4.1l.5 6.1zM511.2 910.8l-5 -1.4l-3.3 -1.9l-3.1 -3.1l-1.8 -3.2l-1.6 -5l-.4 -6.1l1.5 -4.1l2.1 -1.5l3.3 -1l6.7 -.2l4.9 .7l6.2 2l5.7 4.1l8 9l4.9 2.2l6.6 .2l3.4 .8l2 2.1l.3 2l-.6 2.1l-1.8 2l-4.9 1.7l-11.6 -1.7l-13.2 .8zM795.7 871.7l-3.3 -.6l-1.6 -1l-1.7 -2.2l-.9 -2.4l-.7 -6.1l1.6 -3.9l1.7 -.9l4.9 .2l6.3 2.6l5.3 4.1l1.5 2l.7 2l-.6 2.1l-3.6 2l-4.6 1.4zM544.3 602.1l-3 -2.3l-1.1 -2l-.8 -4.1l.4 -4.1l1.7 -4.1l2.8 -3.1l3.3 -1.4l3.3 .2l3.7 2.3l2.8 4.1l1 4.1l-.4 4.1l-2.1 3.8l-3.3 2.4l-5 .9zM784.1 501.9l-3.3 -1.5l-2.7 -2.7l-1 -2.1l-.9 -4.1l.4 -4.1l.9 -2.8l1.7 -2.6l3.3 -1.6l5 .7l4.9 2.6l3.9 3.7l1.9 4.1l-.3 4.1l-1.2 2.1l-2.2 2l-5.4 2.3zM112.5 395.5l-1.7 -2l-.1 -2.1l.2 -6.1l1.6 -14.4l-2.1 -14.3l.5 -6.1l3 -6.1l3.6 -4.2l3.3 -2.1l3.3 -.2l3.3 1.7l1.7 1.6l2.2 3.2l1.9 4.1l1.5 8.1l-.6 9.3l-1.7 5.1l-1.7 2.7l-8.9 9.5l-5.9 9.5l-1.7 1.9zM167.1 396l-.4 -.5l.4 -.7l1.7 -1.4l1.8 0l1.5 2.1l-1.7 1.1l-1.6 .2zM97.7 430.3l-3.3 -.8l-1.7 -1.8l-.9 -3.6l.2 -2.1l.7 -2l1.7 -2.1l3.3 -1.7l1.6 -.1l1.7 .8l.7 1.1l.7 2l.1 4.1l-1.5 4.3l-1.7 1.4zM312.7 671.4l-1.6 -4.1l-.1 -2l1.7 -2.1l.9 2l.5 4.1zM350.8 640.7l-1.7 -.8l-2 -7.4l-2.4 -4l-12.1 -10.3l-3.4 -4.4l-2.5 -5.8l-1.1 -6.1l.4 -4.1l.7 -2l1.4 -2.1l2.8 -2l5.5 -2.1l7.7 -1.3l3.3 .2l3.4 1.2l3.9 4l3.3 8.2l2.4 12.3l.3 7.3l-1.7 3.9l-4.8 7.1l-1.8 5.2zM92.7 736.9l0 -.5l1.7 -.4l0 1.1zM269.7 792.2l-1.7 -1l-6.6 -7.4l-1.2 -2.1l0 -2l2 -2l2.5 -.6l1.7 .6l3 4l1.5 6.2l-.1 2zM413.6 619.2l-7.9 -7.1l-8.6 -3.3l-3.3 -2.1l-1.7 -2.8l.2 -4l1.5 -2.3l3.3 -1.4l3.3 .3l9.9 2.7l5 -.6l4.9 -2.2l3.1 -2.7l1.9 -2.9l3.4 -13.4l3.2 -6.9l3.2 -3.4l3.4 -1.9l3.3 -.9l3.3 .8l1.7 2.2l1.4 3.9l1.3 8.2l-.4 8.2l-2.3 6.2l-8.4 10.1l-6.4 10.3l-1.7 2l-3.4 2.1l-4.9 1.5l-5 .3zM511.2 873.9l-5 -1.6l-3.4 -2.7l-2.1 -4.1l-.2 -4l.4 -2.1l2 -4.1l10 -9.6l3.1 -4.7l2.4 -6.1l4.2 -16.4l3.5 -6.8l1.6 -1.8l3.4 -2.1l3.3 -.1l1.6 .5l3.3 2.5l2.5 3.7l1.5 4.1l1.2 6.2l.7 8.1l-.1 10.3l-.6 6.1l-1.5 6.1l-1.8 4.1l-2.9 4.1l-4.1 4.1l-4.8 3.3l-3.3 1.6l-5 1.3l-4.9 .4zM392.9 1008.6l.9 0l16.5 0l-5 -.7zM668.3 935l3.4 0l5.9 -2l6.6 -4.1l5 -4.1l1.2 -2l.7 -4.1l-1.2 -6l-1.7 -2.2l-1.7 -.6l-2.8 .6l-10.4 7l-6.6 1.7l-5 -.2l-3.3 -.9l-3.3 -2l-4.9 -4.5l-3.4 -1.7l-4.9 .1l-5.3 2.5l-1.3 2.1l1.4 2l3.1 2.1l12 4.9l3.3 2.2l8.1 7.2zM300.4 879.8l2.4 1.4l1.6 -.2l1.7 -1.2l1.6 -2.3l1.7 -4.7l.3 -3.2l-.7 -4.1l-1.3 -2.3l-3.3 -2l-3.3 .4l-1.6 1.8l-.8 2.1l-.6 4.1l.1 4.1l1 4.1zM150.3 624.4l3.6 1.6l3.3 -.4l3.3 -2.1l2.4 -3.2l1.8 -4.1l1.4 -6.1l1.5 -10.2l-.1 -4.1l-2 -2.1l-11.6 -1.6l-11.6 -3.7l-3.3 -.3l-3.3 .5l-2 1l-1.3 2.1l.1 2l1 2.1l7.2 8.3l2 3.9l4.5 12.3zM249.4 618.2l.4 .9l1.7 .5l1.7 -1.4l-1.7 -2zM738.9 460.9l3.9 .7l5 -.9l3.3 -2.7l1.2 -3.3l-.3 -4l-2.1 -4.1l-2.1 -2.1l-5 -2l-3.3 -.4l-3.3 .5l-3.1 1.9l-1.1 2.1l-.4 4.1l1.3 4.6l2.5 3.5zM358.3 409.8l4.1 1l4.5 -1l1.2 -2.1l-.1 -2l-1 -2.1l-3 -2.3l-3.3 -.9l-3.3 .2l-3 1l-1 2l.9 2.1l1.4 2zM409.7 409.8l4 1.6l3.2 0l4.6 -1.6l.7 -2.1l-.8 -2l-4.2 -4.1l-3.6 -1.6l-3.3 -.2l-2.4 1.8l-.7 2l.7 4.1zM435.5 409.8l2.9 .7l2.7 -.7l2.3 -2.1l0 -2.6l-1.7 -1.5l-1.6 0l-1.7 .7l-2.1 1.4l-1.4 2zM562.1 375l3.7 .1l1.6 -.5l1.7 -1.2l1.5 -2.4l.8 -4.1l-.1 -10.3l1.2 -6.1l-.1 -2l-1.6 -4.2l-8.3 -6l-3.8 -4.1l-2.8 -1.5l-3.5 -.6l-1.5 .5l-1.6 1.5l-1.5 4.1l.4 10.3l-.8 10.2l.6 4.1l1.6 4.1l3 3.8l4.9 3zM468.4 330.1l1.5 1.9l1.6 -.5l1.9 -3.5l-1.9 -1.1l-1.6 .1l-1.7 1z"/>
<path fill="#ff6400" fill-rule="evenodd" d="M388.7 975.9l1.8 1l3.3 .8l3.3 -.2l3.3 -1.1l14.4 -10.7l8.7 -9l8.3 -3.4l9.9 -2.8l3.3 -1.7l1.7 -1.5l2.2 -4.1l2.3 -14.3l3.8 -8.3l1.6 -2.1l3.3 -2.2l3.3 -.5l5 .6l1.7 -.6l.8 -1.2l0 -2.1l-3.7 -10.2l-1.1 -16.3l-2.1 -12.3l.3 -4.1l.8 -2l3.6 -4.1l4.7 -2l4.9 .1l8.3 2.8l1.6 -.9l4.3 -10.2l2.7 -4.1l3 -2.5l8.2 -4.6l3.7 -3.1l3 -5.9l1.3 -6.4l.9 -22.5l1.5 -10.2l2.9 -6.7l3.3 -3.1l3.3 -1.6l6.6 -1.7l6.6 -.9l5 0l5 .7l4.9 2.5l8.3 7.4l4.9 3.1l5 1.7l14.9 3.5l6.2 3.3l8.7 6.9l3.3 2l5 1.7l4.9 .4l19.9 -1.1l28.1 .6l6.6 -.5l3.3 -.8l3.3 -1.9l2.8 -3.2l5.5 -14.1l3.3 -4.3l5 -2.3l3.3 -.3l4.9 .5l8.3 2.9l3.3 2l3.8 3.3l6 8.2l8.4 16.9l3.3 5.4l4.2 4.2l4.1 1.5l3.3 -.9l1.6 -1.3l6.7 -8.8l3.3 -3.4l3.3 -2l3.3 -1.1l6.6 -.1l6.6 1.6l6.6 2.9l18.2 9.6l6.7 1.7l3.3 -.4l3.3 -1.9l6.6 -9.6l3.3 -3l3.3 -1.8l5 -1.5l4.9 -.3l5 .8l3.3 1.7l0 -340.4l-6.6 -1.4l-9.9 -.4l-8.8 .9l-6.6 2l-3 2.1l-1.4 2l-.4 2.1l.7 4.1l3.6 10.2l0 4.1l-2.1 4.1l-3.5 3.2l-4.9 2.9l-6.7 2.7l-28.1 7.2l-5 .4l-6.6 -1l-1.7 .2l-1.6 1.1l-.8 1.6l-2.1 12.3l-8.6 18.4l-.5 12.3l-1 4l-4.4 8.2l-2.8 10.2l-1.3 3l-3.3 3.2l-3.4 .8l-3.3 -1.2l-1.6 -1.5l-2.1 -4.3l-2 -20.4l-.9 -3l-2.8 -3.1l-10.4 -5l-3.3 -3.1l-1.4 -2.1l-2.3 -6.2l-2.3 -16.3l-1.7 -6.2l-2.2 -3.6l-1.7 -1.7l-8.3 -5.6l-2.8 -3.4l-1.4 -4.1l-1.5 -10.2l-1.8 -6.1l-3.5 -6.1l-3.9 -4.3l-4.9 -2.8l-9.9 -2.2l-13.3 .5l-11.6 -1l-4.9 -1.4l-13.3 -5.2l-4.9 .4l-8.3 2.8l-3.3 .6l-18.2 -3.4l-5 -1.9l-3.3 -2.4l-3.3 -4.3l-7.4 -12.2l-4.1 -3.9l-1.7 -.4l-1.7 .2l-2.9 2l-1 2.1l-.3 4.1l.9 4.5l7.3 20l2.7 11.4l1.6 2.7l1.7 1.2l1.6 .5l3.3 -.3l6.6 -2l11.6 -2.4l8.3 -2.6l3.3 .7l5 3.2l6.6 2.9l7.6 7.2l2.3 1l3.3 -.3l8.3 -5.3l16.5 -4.1l5 .3l5 1.1l2.6 1.1l2.3 1.9l1.7 2.2l2 4.1l4.6 14.3l3.8 6.2l1.8 4l1 10.3l-.4 6.1l-1.2 6.1l-1.7 3.6l-3.3 3.1l-3.3 .8l-5 -1.1l-3.4 -2.3l-3.2 -4.1l-1.3 -4.1l-1 -8.1l-.7 -2.1l-2 -2.4l-21.5 -11.1l-6.6 -1.2l-6.6 .7l-10 3.8l-4.9 2.9l-3.5 3.2l-3.2 6.2l-2.7 12.2l-2.2 6.9l-3.2 5.4l-3.4 2.8l-3.3 1.3l-5 .4l-4.9 -1.3l-8.3 -3.5l-5 0l-4.9 3.4l-8.3 9.6l-9.9 6l-6.6 5.1l-6.6 3.3l-3.3 .7l-3.4 -.4l-1.6 -1.3l-.8 -1.6l-4.6 -10.2l-3.4 -10.2l-.3 -4.1l.6 -8.2l-.7 -6.1l-2.4 -6.7l-5.9 -11.7l-3.3 -10.2l-9 -12.3l-7.6 -12.3l-7.1 -8.1l-2.8 -4.1l-1.7 -4.1l-2.2 -8.2l-1.7 -3.2l-1.7 -1.5l-1.7 -.4l-1.6 .1l-1.7 1l-2.1 4l-.4 6.1l1 6.2l2.6 8.2l14.9 28.6l2.7 6.1l2.8 3.4l6.7 5.7l3.5 5.2l2.2 6.1l3.6 14.3l3.1 8.2l2 10.2l2.1 6.1l3.3 5l6.3 5.3l1.3 2l1.8 8.2l2.2 4.6l3.3 2.5l6.6 1.6l8.3 -.2l4.9 -1.8l1.7 -1.7l1.7 -3.7l2.7 -13.6l2.7 -8.1l2.8 -3.5l5 -1.6l5 .1l3.3 .8l3.3 1.5l3.3 2.8l2.8 4l2.5 6.1l1 4.1l.2 6.1l-1.5 6.1l-1.5 2.1l-1.9 1.5l-4.9 1.9l-13.3 2.5l-4.2 2.3l-2.2 4l-2.3 14.3l-1.2 4.1l-1.6 2.7l-3.4 2.4l-7.9 3.1l-3.6 2.3l-3.3 3.7l-6.6 10.4l-3.4 3.2l-6.6 3.5l-11.8 3.5l-2.8 2l-1.3 2.1l-1.2 4.1l-.3 6.1l2.8 20.4l.1 8.2l-1.8 8.2l-6.4 14.3l-.7 6.1l1.7 8.2l6.1 14.3l1.5 6.1l2.7 28.6l-.7 10.3l-1.6 4l-4 4.1l-10.4 5.3l-9.9 6.3l-13.3 5.7l-3.3 2.3l-1.6 2l-3 7l-1.2 8.2l2.4 18.4l2.4 14.3l-.5 8.2l-1.8 6.1l-5.1 12.3l-6.8 12.2l-11.8 16.4l-14.3 11.7l-8.7 4.7l-3.9 4l-1 2.1l-.8 4.1l1 4.1zM552.6 629.2l-1.2 -.8l-.9 -2l.7 -2l1.4 -.5l1.7 .5l1.1 2l-.4 2.1l-.8 .6zM509.6 910.5l8.3 .8l14.8 -.8l11.6 1.7l4.9 -1.7l1.8 -2l.6 -2.1l-.3 -2l-2 -2.1l-3.4 -.8l-6.6 -.2l-4.9 -2.2l-8 -9l-5.7 -4.1l-4.5 -1.6l-5 -.9l-5 -.3l-5.3 .7l-2.9 1.7l-1.6 2.4l-.5 4.1l1 6.1l1.6 4.1l2.8 3.8l3.3 2.5zM53 761.3l0 2l.4 -10.2l-.4 -14.3zM291.1 751.1l3.4 1.2l2.3 -1.2l1.4 -2.1l3.3 -8.1l3.3 -6.2l4.6 -6.1l3.3 -2.8l3.3 -1.4l3.3 -.3l11.6 1.7l5 -.6l4.9 -2.7l8.3 -7l11 -7.3l2.3 -2.1l3.1 -4.1l2.5 -6.1l.9 -4.4l1.7 -1.7l3.5 8.2l3.1 3.3l3.3 .8l3.3 -1.3l1.7 -1.4l3.5 -5.5l1.5 -4.1l.6 -4.1l.2 -8.2l-.9 -14.3l.6 -6.1l2.8 -5.7l6.1 -6.6l2.1 -3.1l1 -3l-.2 -2.1l-.8 -1.1l-1.6 -.6l-1.7 .2l-3.3 1.4l-3.1 2.2l-3.1 4.1l-2.8 6.1l-2.7 4.1l-3.9 4.1l-10.9 9.3l-3.3 .2l-8.2 -2.6l-5 .4l-21.5 13.8l-6.6 1.6l-6.6 -.6l-1.7 .4l-3.6 8.1l-1.3 2.1l-3.4 2.7l-4.9 1.2l-5 -.5l-3.3 -1.1l-3.3 -2.3l-1.7 -2.1l-1.6 -3.6l-1.7 -7.3l-2.7 -23.8l.3 -6.1l1.8 -6.2l2.4 -4.1l7.6 -10.2l2.3 -6.1l.7 -6.1l-.5 -8.2l-1.4 -4.1l-2.2 -2.5l-1.6 -.6l-3.4 .5l-11.5 7.3l-5 2.3l-5 1.2l-4.9 .3l-1.7 -.4l-1.6 -1.4l-2.7 -10.8l-2.3 -5.1l-2.6 -3.1l-4 -2l-3.3 -.5l-5 .7l-11.6 5.5l-4.9 .9l-16.6 -3.1l-26.4 1l-8.3 -.4l-1.7 -1.6l-2.6 -8.6l-3.4 -4.1l-13.8 -7.3l-7.8 -5l-17 -9.2l-5 -4.2l-8.2 -9.1l-5 -3.3l-13.2 -6.2l-3 -2.7l-4.8 -6.2l-2.2 -1.3l-1.6 -.2l-3.3 .9l-8.3 4.4l-10.6 4.4l-4.3 3.1l-3.3 7.1l0 158.4l5 -1l4.9 .5l5 2.5l4.9 4l1.7 .7l1.7 -.1l1.9 -1.5l11.3 -14.3l3.3 -2.2l3.3 -.9l5 -.2l13.2 1.2l28.1 .6l8.3 -.4l11.6 -1.5l6.6 .3l5 1.8l16.5 11.1l5 2.5l3.3 .1l8.2 -2.9l5 .5l5 3.4l6.6 7.3l3.3 1.2l9.9 1.9l14.9 7.8l16.5 6.1l6.7 4.9zM150.6 624.7l-3.4 -4.4l-4.5 -12.3l-2 -3.9l-7.2 -8.3l-1 -2.1l-.1 -2l1.3 -2.1l2 -1l3.3 -.5l3.3 .3l11.6 3.7l11.6 1.6l2 2.1l.1 4.1l-1.5 10.2l-1.4 6.1l-1.8 4.1l-2.4 3.2l-3.3 2.1l-3.3 .4zM249.8 619.1l-.4 -.9l2.1 -2l1.7 1.8l-1.7 1.6zM92.6 736.8l1.7 .3l.1 -1.1l-1.7 .4zM311.8 669.3l.9 2l1.4 -2l-.5 -4l-.9 -2.1l-1.6 2l0 2.1zM350.7 640.7l1.7 -3l1.8 -5.2l4.8 -7.1l1.7 -3.9l-.3 -7.3l-2.4 -12.3l-3.3 -8.2l-3.9 -4l-3.4 -1.2l-3.3 -.2l-7.7 1.3l-5.5 2.1l-2.8 2l-1.4 2.1l-.7 2l-.4 4.1l1.1 6.1l2.5 5.8l3.4 4.4l12.1 10.3l2.4 4l2 7.4zM412.2 618.2l3.1 1.6l3.3 .3l4.9 -.7l5 -2l3.3 -3.1l6.5 -10.4l8.4 -10.1l2.3 -6.2l.4 -8.2l-1.3 -8.2l-1.4 -3.9l-1.7 -2.2l-3.3 -.8l-3.3 .9l-3.4 1.9l-3.2 3.4l-3.2 6.9l-3.4 13.4l-1.9 2.9l-3.1 2.7l-4.9 2.2l-3.3 .6l-3.4 -.2l-9.9 -2.8l-3.3 .4l-1.9 1.2l-1.2 2.1l-.4 2l.2 2.1l1.7 2.7l3.3 2.1l8.6 3.3l2.7 2.1zM166.8 395.5l2 1.3l1.6 -.2l1.7 -1.1l-1.5 -2.1l-1.8 0z"/>
<path fill="#ff3200" fill-rule="evenodd" d="M551.3 628.5l1.2 .8l1.7 -.2l.8 -.6l.4 -2.1l-1.2 -2.1l-1.6 -.4l-1.7 .8l-.4 1.7z"/>
</g>
<g id="grid" stroke="#a9adb8" stroke-width="1.4" stroke-dasharray="2.4,7.4" stroke-dashoffset="-2.4" fill="none">
<line x1="86.1" y1="191.1" x2="86.1" y2="1008.6"/>
<line x1="152.2" y1="191.1" x2="152.2" y2="1008.6"/>
<line x1="218.4" y1="191.1" x2="218.4" y2="1008.6"/>
<line x1="284.6" y1="191.1" x2="284.6" y2="1008.6"/>
<line x1="350.8" y1="191.1" x2="350.8" y2="1008.6"/>
<line x1="416.9" y1="191.1" x2="416.9" y2="1008.6"/>
<line x1="483.1" y1="191.1" x2="483.1" y2="1008.6"/>
<line x1="549.2" y1="191.1" x2="549.2" y2="1008.6"/>
<line x1="615.4" y1="191.1" x2="615.4" y2="1008.6"/>
<line x1="681.6" y1="191.1" x2="681.6" y2="1008.6"/>
<line x1="747.8" y1="191.1" x2="747.8" y2="1008.6"/>
<line x1="813.9" y1="191.1" x2="813.9" y2="1008.6"/>
<line x1="53.0" y1="272.9" x2="847.0" y2="272.9"/>
<line x1="53.0" y1="354.6" x2="847.0" y2="354.6"/>
<line x1="53.0" y1="436.4" x2="847.0" y2="436.4"/>
<line x1="53.0" y1="518.1" x2="847.0" y2="518.1"/>
<line x1="53.0" y1="599.9" x2="847.0" y2="599.9"/>
<line x1="53.0" y1="681.6" x2="847.0" y2="681.6"/>
<line x1="53.0" y1="763.4" x2="847.0" y2="763.4"/>
<line x1="53.0" y1="845.1" x2="847.0" y2="845.1"/>
<line x1="53.0" y1="926.9" x2="847.0" y2="926.9"/>
</g>
<g id="coast" fill="none" stroke="#f00a82" stroke-width="2.3" stroke-linejoin="round" stroke-linecap="round">
<path d="M251.5,191.1 253.5,196.0 255.5,199.3 256.1,200.9 255.5,203.4 259.4,206.6 264.7,207.4 271.4,206.2 278.0,202.5 283.3,199.3 286.6,196.8 288.6,191.9 290.5,196.0 292.5,198.5 294.5,202.5 297.2,209.9 300.5,216.4 303.8,220.5 301.8,223.0 303.8,227.1 305.1,228.7 312.4,228.7 313.7,226.3 313.0,223.8 321.0,222.6 324.3,221.3 327.6,217.3 327.6,213.2 328.9,208.3 329.6,202.5 334.9,200.9 339.5,197.6 342.8,194.4 340.2,191.1"/>
<path d="M418.9,191.1 418.2,191.9 413.6,191.5 409.0,192.7 404.3,194.4 403.7,195.6 397.1,195.6 390.4,194.4 383.8,195.2 377.2,196.4 373.9,197.6 373.6,200.1 374.6,203.0 379.9,204.6 379.2,208.3 379.9,213.6 377.9,215.6 374.6,215.6 370.6,213.2 368.0,209.5 361.3,211.9 357.7,216.4 357.4,219.7 358.0,224.6 358.0,227.1 356.7,229.5 354.7,232.4 350.8,232.4 349.4,235.2 347.4,236.9 342.1,236.9 340.8,234.0 334.2,233.6 327.6,235.7 321.0,238.5 312.4,240.6 309.7,239.3 307.1,235.7 301.1,236.5 294.5,239.3 291.2,240.1 290.5,237.3 285.9,236.5 283.9,233.6 282.6,232.0 283.3,227.9 284.6,224.6 285.9,222.2 288.6,219.7 286.6,216.4 287.9,211.5 288.6,209.5 284.6,211.1 281.3,214.4 275.3,214.8 272.0,218.9 272.0,223.8 275.3,227.9 275.3,232.8 277.3,237.7 277.3,241.0 272.7,244.2 266.1,245.1 261.4,245.1 255.5,245.9 250.2,248.7 248.2,253.2 245.5,256.5 242.2,260.6 238.3,263.0 235.0,264.3 229.0,265.1 229.0,271.2 227.7,272.4 219.7,275.3 216.4,278.6 211.1,278.2 209.8,275.3 205.8,275.3 207.8,279.4 208.5,283.9 199.9,285.1 194.6,282.7 187.3,285.1 190.0,288.4 190.0,290.8 195.3,291.7 201.9,294.9 203.9,296.6 205.8,299.8 210.5,303.9 210.5,308.8 210.1,317.8 208.5,326.0 206.5,326.8 198.6,327.2 193.3,326.4 180.0,325.2 172.1,325.2 164.2,326.4 157.2,329.3 159.5,335.0 159.5,339.1 160.9,344.8 158.9,353.0 155.6,364.4 158.2,366.0 159.5,370.9 160.2,375.0 158.9,379.1 165.5,379.1 169.5,377.5 176.1,380.8 178.7,384.8 181.4,387.3 183.0,386.1 189.3,381.6 198.6,381.2 203.9,381.6 207.8,375.9 213.1,374.2 215.1,368.5 219.7,364.8 216.4,358.7 221.7,351.3 224.4,348.9 233.0,343.6 239.6,339.1 239.6,335.0 238.6,330.9 241.6,327.6 248.2,326.8 254.1,328.0 259.4,329.3 266.7,324.4 272.7,322.7 277.3,318.6 283.3,321.1 286.6,326.0 287.9,330.9 292.5,335.0 299.1,340.3 304.4,344.4 309.1,344.8 311.7,348.1 313.7,349.7 317.7,352.6 321.6,354.6 323.0,358.7 324.9,363.6 322.0,369.3 324.3,371.4 327.6,367.7 331.9,363.2 328.3,357.9 332.2,350.9 337.5,352.6 340.8,353.8 340.8,349.7 336.9,348.9 330.2,345.2 324.3,342.7 325.3,339.1 319.0,338.7 312.4,335.0 308.4,325.6 301.8,321.1 299.8,315.4 299.8,310.9 305.1,307.6 309.1,308.4 308.4,312.1 310.4,315.4 313.0,311.3 317.0,317.0 319.0,320.3 323.6,325.6 326.9,326.0 333.5,330.1 338.2,332.9 341.5,335.0 344.8,337.4 347.4,339.9 346.8,344.0 346.8,350.5 350.8,357.1 352.1,359.5 355.4,362.8 358.0,366.9 360.0,369.3 359.4,373.4 362.0,379.1 362.7,381.2 367.3,384.0 369.3,381.6 371.9,383.6 369.3,379.1 371.9,374.2 375.2,371.4 377.2,373.8 377.2,369.3 373.9,366.0 369.9,362.8 369.9,359.5 368.0,354.6 369.9,349.7 372.6,353.0 377.2,353.8 379.9,347.7 387.1,347.2 390.4,348.1 394.4,351.3 391.8,354.2 395.1,351.3 397.1,346.8 403.7,346.4 410.3,346.0 411.0,344.4 407.7,343.6 403.7,341.5 403.0,334.2 403.0,328.4 407.7,324.4 408.3,320.3 414.3,313.7 416.9,307.2 421.5,301.5 427.5,300.6 430.1,301.5 436.8,304.7 440.7,306.4 433.5,310.5 440.1,317.0 446.7,317.8 452.6,313.7 460.6,310.5 453.3,311.3 450.0,308.0 452.0,303.1 461.9,299.4 471.2,296.6 477.8,295.7 471.8,300.6 469.9,305.6 465.9,311.3 461.9,312.1 465.2,314.5 468.5,316.2 475.1,320.3 481.1,325.2 486.4,329.3 493.7,338.2 493.7,341.5 486.4,346.4 481.1,346.4 471.8,346.8 463.2,344.8 458.6,344.0 450.7,338.2 443.4,338.2 436.8,339.9 430.1,341.9 423.5,345.6 416.9,344.8 411.0,344.8 410.6,346.4 413.6,348.1 410.3,349.7 403.7,351.3 397.1,351.3 393.1,353.4 391.8,358.7 396.4,360.3 395.1,365.2 397.7,367.3 392.4,368.5 397.1,372.6 399.1,378.7 403.7,380.8 407.7,381.2 411.0,382.4 416.9,385.7 420.9,380.4 427.5,382.4 433.5,386.5 440.1,386.1 447.4,380.8 454.0,382.4 457.9,382.4 456.0,387.3 455.3,391.4 456.0,396.3 453.3,400.4 453.3,404.5 450.7,411.0 449.3,415.9 448.7,419.2 446.7,423.3 444.7,425.7 440.1,427.4 432.1,425.7 428.8,424.1 423.5,423.3 418.9,424.1 416.3,426.5 410.3,429.0 398.4,424.9 385.2,423.3 377.2,420.0 370.6,415.1 365.3,412.6 357.4,413.5 351.4,419.2 350.4,426.5 345.5,433.1 340.2,431.4 328.3,426.5 319.7,417.5 312.4,415.1 305.8,412.6 297.8,412.6 294.5,410.6 291.9,409.4 289.2,406.9 285.2,404.5 289.2,397.9 291.9,393.8 288.6,388.9 287.9,384.0 291.9,378.3 286.6,380.8 285.9,377.5 283.3,376.3 278.0,378.3 275.3,379.5 270.0,379.9 261.4,378.7 252.2,381.2 242.2,380.8 238.3,380.8 231.7,382.8 225.0,383.2 218.4,388.1 214.4,389.8 210.5,393.0 203.9,394.7 198.6,393.8 191.9,393.8 185.3,392.2 183.3,388.1 179.4,388.9 177.4,392.2 174.7,401.2 173.4,403.6 168.1,406.9 162.2,409.8 156.9,417.5 153.6,424.1 154.2,433.1 152.9,431.4 154.9,436.4 150.9,442.1 145.0,448.6 139.0,452.7 133.1,453.5 129.1,456.8 123.1,467.4 119.2,474.8 113.2,487.9 109.2,496.8 105.9,507.5 105.6,511.6 109.2,518.1 111.2,523.0 109.2,526.3 112.5,533.6 111.2,542.6 109.2,550.0 105.9,556.5 102.6,561.4 105.3,563.9 106.6,568.0 107.9,571.2 107.3,575.3 107.9,580.2 111.2,583.5 115.2,585.1 116.5,591.7 119.2,592.5 123.8,595.8 127.8,603.9 130.4,608.0 131.1,612.1 133.1,617.8 136.4,621.9 142.3,625.2 147.0,630.1 155.6,638.3 165.5,644.8 168.8,645.6 174.7,643.2 185.3,639.9 191.9,638.3 198.6,639.9 204.5,642.8 211.8,639.9 217.1,636.2 226.4,631.7 234.3,629.7 240.9,629.3 248.2,630.9 251.5,634.2 254.8,639.1 258.1,646.4 264.7,645.6 273.3,644.0 278.0,648.1 282.6,648.9 283.9,657.9 283.3,662.0 283.3,669.3 280.6,678.3 276.0,686.5 281.3,696.3 286.6,704.5 291.9,713.5 296.8,720.8 299.8,731.5 303.8,741.3 305.8,753.5 307.7,760.9 309.7,769.1 307.7,782.6 301.1,792.0 298.8,805.9 296.2,822.6 298.5,832.8 304.4,845.1 311.1,860.6 314.4,868.8 317.0,886.0 319.0,899.1 325.6,910.5 327.6,915.4 331.6,922.8 333.5,930.1 337.5,939.1 339.5,949.7 337.5,951.4 340.2,958.7 340.8,962.4 342.8,960.4 346.1,962.8 350.8,966.3 357.4,962.8 364.6,961.2 373.2,960.4 382.5,961.2 387.8,959.1 393.8,957.1 403.0,951.4 410.3,943.2 416.9,937.5 423.5,926.0 430.1,917.0 432.8,914.6 435.4,902.3 434.1,894.1 436.8,890.1 443.4,885.2 453.3,877.8 453.3,861.5 452.0,853.3 448.0,843.5 453.3,832.8 459.9,828.8 463.2,823.8 469.9,820.6 479.8,814.0 487.7,804.2 486.4,787.9 486.4,771.5 484.4,765.8 481.1,751.1 478.5,738.8 475.1,730.6 476.5,722.5 481.1,714.3 483.7,707.8 489.0,700.4 493.7,694.7 499.6,684.9 509.6,673.4 518.2,665.2 526.1,657.1 532.7,644.8 540.0,632.5 545.9,616.2 552.6,603.9 555.9,595.8 557.9,585.1 552.6,584.3 542.6,589.2 536.0,590.0 529.4,592.5 516.2,596.6 509.6,594.9 505.6,588.4 503.6,586.8 501.6,586.0 504.3,583.5 504.9,578.6 500.9,575.3 493.7,571.2 489.7,564.7 484.4,559.0 480.4,554.1 477.1,547.5 473.8,537.7 471.8,532.0 465.2,521.4 463.2,509.9 461.9,501.8 454.0,486.2 449.3,476.4 442.7,463.3 442.1,458.4 436.8,448.6 433.8,436.8 434.8,440.4 438.1,447.8 445.4,454.3 446.7,451.9 448.0,444.5 449.7,440.4 449.3,444.5 450.0,452.7 453.3,456.8 459.9,469.0 465.2,477.2 466.5,482.1 471.8,491.1 476.5,500.9 481.1,510.3 491.0,521.4 497.0,531.2 502.3,541.0 503.3,555.7 504.6,573.7 506.2,577.8 509.6,578.6 516.2,577.0 522.8,572.1 536.0,567.1 543.3,563.1 549.2,559.0 563.8,554.1 563.8,547.5 572.4,544.3 576.4,542.6 585.6,537.7 592.3,533.6 594.2,526.3 600.9,526.3 602.2,518.1 608.1,512.4 614.1,497.7 608.8,493.6 606.2,488.7 598.9,486.2 591.6,478.0 590.9,465.8 589.0,469.0 585.6,472.3 584.3,474.8 578.4,481.3 569.1,483.8 562.5,485.4 559.8,483.8 557.9,480.5 559.8,474.8 557.9,468.2 555.9,473.1 554.5,478.9 550.6,473.1 550.6,465.8 546.6,460.9 541.3,454.3 538.7,448.6 536.0,441.3 539.3,437.2 541.3,436.4 545.9,436.4 551.2,442.1 554.5,445.3 559.2,453.5 566.5,457.6 575.7,464.1 582.3,463.3 590.9,459.2 595.6,464.1 597.6,470.7 605.5,472.3 615.4,474.0 626.0,475.6 630.6,475.6 638.6,474.8 645.2,475.6 651.8,474.0 659.1,473.1 661.7,478.0 665.0,485.4 671.7,489.5 673.6,493.6 678.3,496.0 682.9,496.0 675.6,498.5 678.9,505.0 684.9,510.7 688.2,512.4 695.5,507.5 698.8,505.0 700.1,509.9 700.1,518.1 700.4,526.3 701.4,534.5 703.4,542.6 706.1,553.3 706.7,554.9 710.0,563.1 713.3,576.1 718.0,587.6 721.3,595.8 723.3,600.7 727.2,612.1 731.2,615.4 735.2,609.7 740.5,606.4 743.1,605.6 741.1,599.9 746.4,597.4 746.4,587.6 749.7,574.5 749.1,563.1 747.8,554.9 754.4,548.3 763.0,545.9 769.6,536.9 777.5,529.5 784.1,521.4 789.4,518.9 792.7,514.0 794.1,505.8 800.7,504.2 807.3,504.2 813.9,501.8 817.9,496.8 820.5,497.7 825.8,499.3 827.1,508.3 829.1,512.4 833.1,517.3 837.1,523.0 841.7,530.4 843.7,540.2 842.4,550.0 847.0,552.4 850.3,552.4"/>
<path d="M227.7,263.9 227.7,261.4 224.4,258.1 230.0,252.4 229.0,250.0 224.4,248.7 220.4,250.0 219.1,245.1 217.1,243.4 217.8,239.3 214.4,236.1 209.8,233.6 207.8,227.1 205.2,224.6 201.2,223.8 197.2,223.4 199.9,222.2 201.9,219.7 205.2,214.8 206.5,210.7 198.6,209.9 190.6,211.5 193.3,209.1 197.9,202.5 195.9,202.1 185.3,202.5 183.3,205.8 180.7,210.7 181.4,217.3 178.7,218.9 182.7,223.8 181.4,229.5 186.0,226.3 188.0,228.7 185.3,232.8 184.7,234.4 189.3,232.8 195.3,232.4 194.6,236.1 198.6,240.1 198.6,245.1 190.6,245.9 187.3,245.9 188.6,250.0 191.3,252.4 183.3,258.1 185.3,259.8 190.6,260.2 197.2,261.4 201.2,259.8 198.6,263.0 190.6,263.0 188.0,264.7 180.7,272.4 185.3,272.9 190.6,270.0 195.3,270.4 199.2,267.1 206.5,267.1 211.8,266.3 219.7,266.7 225.0,265.1 227.7,263.9"/>
<path d="M177.4,245.9 178.1,240.1 182.0,237.7 180.7,233.6 178.1,230.3 170.1,228.7 163.5,231.2 162.2,235.2 162.2,237.7 152.2,238.5 152.9,241.8 151.6,245.1 158.9,246.7 155.6,251.6 150.3,255.7 150.9,259.8 155.6,260.6 164.2,258.1 172.1,255.7 176.7,254.9 178.7,249.1 177.4,245.9"/>
<path d="M548.6,351.3 551.9,350.5 545.9,346.4 538.0,337.4 532.7,330.1 533.4,321.9 529.4,317.8 527.4,316.2 532.7,308.8 536.0,305.6 539.3,307.2 544.0,302.3 549.2,300.6 557.2,297.4 561.8,297.4 569.1,299.0 570.4,303.1 569.1,309.6 557.9,312.1 555.9,317.0 551.2,318.6 557.9,326.0 562.5,332.5 567.1,338.2 568.4,344.0 572.4,342.3 575.7,344.8 572.4,350.5 569.1,354.6 572.4,358.7 574.4,366.9 575.7,375.9 575.1,379.9 562.5,382.4 552.6,379.1 546.6,375.0 542.0,367.7 542.6,361.1 545.3,356.2 548.6,351.3"/>
<path d="M612.1,303.1 618.7,301.5 624.0,303.9 626.7,311.3 622.0,319.4 615.4,325.2 608.8,325.2 604.8,317.8 605.5,309.6 608.8,305.6 612.1,303.1"/>
<path d="M544.6,779.7 545.9,783.8 550.6,798.5 552.6,806.7 547.3,816.5 545.3,824.7 545.3,830.4 540.6,845.1 536.0,861.5 533.4,873.7 530.1,885.2 522.8,890.1 516.8,890.9 509.6,886.0 507.6,874.5 504.9,861.5 508.9,849.2 511.5,847.6 509.6,828.8 510.9,820.6 512.9,814.0 519.5,811.6 524.8,809.9 529.4,804.2 535.4,796.1 538.0,791.1 540.6,783.0 544.6,779.7"/>
<path d="M748.4,601.5 753.7,608.8 755.7,611.3 759.7,620.3 759.0,628.5 751.7,633.0 747.8,630.1 746.8,625.2 746.4,616.2 747.1,608.0 748.4,601.5"/>
<path d="M274.0,346.4 279.3,344.0 283.3,350.5 281.9,361.1 278.0,362.0 274.0,362.8 274.7,356.2 272.7,349.7 274.0,346.4"/>
<path d="M275.3,338.2 280.6,330.1 281.9,335.8 279.3,343.2 276.6,341.5 275.3,338.2"/>
<path d="M300.5,371.8 306.4,369.3 319.0,369.3 321.6,368.5 318.3,376.7 319.0,381.6 314.4,380.8 304.4,375.0 300.5,371.8"/>
<path d="M373.9,393.0 379.2,392.2 386.5,393.0 392.4,393.8 389.1,395.5 381.8,395.9 374.6,393.8 373.9,393.0"/>
<path d="M432.1,395.5 436.8,392.2 447.4,389.8 442.7,394.7 443.4,398.7 436.8,398.7 432.8,397.1 432.1,395.5"/>
<path d="M234.3,357.9 238.9,355.4 241.6,357.1 239.6,359.9 236.3,358.7 234.3,357.9"/>
<path d="M401.7,386.5 405.0,383.6 402.4,388.1 401.7,386.5"/>
<path d="M290.5,226.3 301.1,223.8 301.8,227.1 299.1,232.0 292.5,230.3 290.5,226.3"/>
<path d="M283.9,229.5 289.9,227.9 289.2,232.0 284.6,231.6 283.9,229.5"/>
<path d="M338.8,208.3 343.5,211.5 339.5,215.6 338.8,208.3"/>
<path d="M106.6,448.6 111.9,447.8 108.6,452.7 106.6,448.6"/>
<path d="M114.5,451.1 116.5,451.9 115.2,454.7 114.5,451.1"/>
<path d="M125.8,447.0 126.8,449.4 123.8,452.3 125.8,447.0"/>
<path d="M127.1,442.9 129.4,444.5 127.1,445.8 127.1,442.9"/>
<path d="M104.6,413.5 107.9,413.9 105.9,414.7 104.6,413.5"/>
<path d="M51.0,541.8 53.0,541.0 53.7,543.4 51.0,541.8"/>
<path d="M60.9,556.5 62.9,557.3 62.9,559.8 61.6,559.0 60.9,556.5"/>
<path d="M66.6,549.2 68.2,550.0 67.6,551.2 66.6,549.2"/>
<path d="M583.7,852.5 587.0,853.3 587.0,856.1 584.3,855.7 583.7,852.5"/>
<path d="M598.9,845.1 600.9,846.7 599.5,849.2 597.6,847.6 598.9,845.1"/>
<path d="M571.1,577.8 576.4,577.8 579.0,579.4 573.1,581.0 571.1,577.8"/>
<path d="M477.8,729.0 480.4,732.3 479.8,734.7 478.5,733.1 477.8,729.0"/>
<path d="M504.9,774.8 506.2,775.6 504.9,778.9 504.9,774.8"/>
<path d="M585.0,718.8 586.0,720.0 585.3,720.8 585.0,718.8"/>
<path d="M274.7,650.9 277.3,650.9 276.0,655.4 274.7,650.9"/>
<path d="M831.8,570.4 833.8,575.3 833.1,583.5 831.1,587.6 831.8,579.4 831.8,570.4"/>
<path d="M428.8,679.1 434.1,680.8 440.1,679.1 444.0,684.1 442.1,689.8 442.7,698.0 436.8,702.9 428.8,698.0 428.2,689.8 428.8,679.1"/>
<path d="M411.0,708.6 412.9,720.8 414.3,732.3 419.6,741.3 422.2,751.1 424.2,751.9 420.9,740.5 416.3,729.8 412.9,716.8 412.3,709.4 411.0,708.6"/>
<path d="M443.4,759.3 446.7,767.4 447.4,778.1 446.0,787.9 447.4,796.9 451.3,798.5 450.0,787.9 449.3,776.4 447.4,765.8 443.4,759.3"/>
<path d="M456.6,644.8 458.6,651.4 460.6,661.2 457.3,662.0 456.0,653.0 456.6,644.8"/>
<path d="M708.0,303.1 718.0,299.0 727.9,300.6 737.8,299.0 742.5,301.5 731.2,303.9 721.3,303.1 711.4,312.1 708.0,303.1"/>
<path d="M722.6,334.2 731.2,331.3 737.2,335.0 729.2,336.6 722.6,334.2"/>
<path d="M311.1,570.4 315.0,570.4 316.3,575.3 312.4,576.1 311.1,570.4"/>
<path d="M463.2,581.9 466.5,583.5 466.5,586.8 463.9,586.0 463.2,581.9"/>
<path d="M217.8,612.1 219.7,619.5 218.4,630.1 215.8,624.4 215.1,614.6 217.8,612.1"/>
<path d="M300.5,197.6 308.4,196.0 311.7,199.3 306.4,201.7 300.5,200.9 300.5,197.6"/>
<path d="M313.7,200.1 316.3,203.4 312.4,209.1 311.7,205.0 313.7,200.1"/>
<path d="M327.6,195.2 334.9,194.4 334.2,196.8 328.3,196.8 327.6,195.2"/>
<path d="M326.9,222.2 330.2,213.2 328.9,218.9 326.9,222.2"/>
<path d="M315.7,231.2 318.3,229.9 318.3,232.0 315.7,231.2"/>
<path d="M363.3,203.4 372.6,202.5 369.3,207.4 364.0,207.4 363.3,203.4"/>
<path d="M366.0,200.1 370.6,199.3 369.9,201.7 366.0,200.1"/>
<path d="M397.1,200.1 403.7,199.3 402.4,205.0 400.4,208.3 397.7,205.8 397.1,200.1"/>
<path d="M295.2,232.8 298.5,232.8 297.2,235.2 295.2,232.8"/>
<path d="M288.6,223.8 289.9,223.0 289.2,225.4 288.6,223.8"/>
<path d="M259.4,301.9 264.1,302.3 261.4,303.1 259.4,301.9"/>
<path d="M278.0,291.2 282.6,292.9 280.6,293.3 278.0,291.2"/>
<path d="M332.9,299.4 338.2,297.4 336.9,298.2 332.9,299.4"/>
<path d="M288.6,307.2 289.5,308.8 288.6,309.6 288.6,307.2"/>
<path d="M173.4,205.8 177.4,203.4 176.7,208.3 171.4,209.1 173.4,205.8"/>
<path d="M176.1,210.7 179.4,210.7 178.7,214.8 175.4,213.2 176.1,210.7"/>
<path d="M176.7,218.9 180.7,219.7 178.7,221.3 176.7,218.9"/>
<path d="M176.1,224.6 178.7,224.6 177.4,227.1 176.1,224.6"/>
<path d="M195.9,198.5 200.6,197.6 199.2,200.9 195.9,198.5"/>
<path d="M186.7,236.9 190.0,236.9 188.0,239.7 186.7,236.9"/>
<path d="M207.8,267.1 211.1,266.7 209.8,268.1 207.8,267.1"/>
<path d="M226.4,363.2 229.0,362.0 227.7,364.0 226.4,363.2"/>
<path d="M243.6,354.6 246.9,355.0 244.2,355.8 243.6,354.6"/>
<path d="M312.4,386.9 315.0,388.5 313.4,388.9 312.4,386.9"/>
<path d="M370.6,362.8 374.6,364.4 381.2,369.3 378.5,370.1 372.6,366.0 370.6,362.8"/>
<path d="M389.1,360.3 394.4,360.3 393.1,362.8 389.1,360.3"/>
<path d="M389.8,366.0 391.8,366.9 390.4,369.3 389.8,366.0"/>
<path d="M394.4,372.6 397.1,373.0 395.1,373.8 394.4,372.6"/>
<path d="M385.8,377.5 387.8,378.3 386.5,379.5 385.8,377.5"/>
<path d="M348.1,356.2 351.4,357.9 350.1,359.5 348.1,356.2"/>
<path d="M353.4,367.7 356.0,368.5 354.1,370.1 353.4,367.7"/>
<path d="M383.2,348.1 385.8,348.5 383.8,349.7 383.2,348.1"/>
<path d="M396.4,390.6 399.1,388.1 398.4,392.2 396.4,390.6"/>
<path d="M286.6,331.3 287.6,331.7 286.6,332.5 286.6,331.3"/>
<path d="M498.3,363.6 504.9,364.4 506.9,367.7 502.3,368.5 498.3,366.0 498.3,363.6"/>
<path d="M517.5,369.3 521.5,370.9 522.1,375.9 518.8,376.7 517.5,369.3"/>
<path d="M516.2,349.7 519.5,350.9 517.5,353.0 516.2,349.7"/>
<path d="M438.8,362.8 440.7,363.6 439.4,366.0 438.8,362.8"/>
<path d="M452.6,421.6 454.0,422.5 453.3,427.4 452.6,421.6"/>
<path d="M426.8,485.4 436.1,491.1 433.5,496.8 426.2,501.8 423.5,498.5 430.1,493.6 426.8,485.4"/>
<path d="M395.1,820.6 401.0,815.7 409.6,816.5 405.7,822.2 397.7,827.9 395.1,820.6"/>
<path d="M423.5,663.6 426.2,668.5 419.6,671.8 420.9,667.7 423.5,663.6"/>
<path d="M432.1,667.7 439.4,668.5 436.8,671.0 432.1,667.7"/>
<path d="M411.6,695.5 412.3,702.0 410.3,701.2 411.6,695.5"/>
<path d="M407.7,751.9 411.0,758.4 408.3,759.3 407.7,751.9"/>
<path d="M429.5,746.2 436.1,754.4 433.5,752.7 429.5,746.2"/>
<path d="M422.2,814.9 432.8,809.1 430.1,812.4 422.2,814.9"/>
<path d="M246.9,594.1 248.9,595.8 248.2,600.7 246.9,594.1"/>
<path d="M770.2,288.4 780.2,287.6 776.9,290.0 770.2,288.4"/>
<path d="M757.7,303.9 761.0,303.9 759.7,306.4 757.7,303.9"/>
<path d="M480.4,721.7 481.8,724.1 481.1,726.2 480.4,721.7"/>
<path d="M261.4,678.3 262.7,680.0 261.4,681.2 261.4,678.3"/>
<path d="M704.1,646.4 705.4,648.1 704.1,649.7 704.1,646.4"/>
<path d="M701.4,627.6 702.8,629.3 701.4,630.9 701.4,627.6"/>
<path d="M702.1,673.4 703.4,676.7 702.1,678.3 702.1,673.4"/>
<path d="M698.8,591.7 700.1,595.8 698.8,597.4 698.8,591.7"/>
<path d="M839.1,614.6 839.7,622.7 838.4,624.4 839.1,614.6"/>
<path d="M830.5,594.1 831.1,595.8 830.1,595.8 830.5,594.1"/>
<path d="M510.9,780.5 512.9,782.2 511.5,783.0 510.9,780.5"/>
<path d="M516.8,785.4 518.2,787.1 516.8,787.9 516.8,785.4"/>
<path d="M637.3,842.2 638.6,842.6 637.9,843.5 637.3,842.2"/>
<path d="M727.2,232.8 733.2,232.0 731.9,235.2 727.2,232.8"/>
<path d="M759.7,240.1 766.9,232.8 765.6,235.2 759.7,240.1"/>
<path d="M743.1,247.5 746.4,247.5 745.1,249.1 743.1,247.5"/>
<path d="M699.4,245.1 702.1,245.5 700.8,246.7 699.4,245.1"/>
<path d="M821.9,223.8 824.5,230.3 823.2,236.9 822.5,230.3 821.9,223.8"/>
<path d="M796.7,258.1 798.7,259.8 798.0,262.2 796.7,258.1"/>
<path d="M829.8,269.6 835.1,269.6 833.1,272.0 829.8,269.6"/>
<path d="M833.1,280.2 837.1,281.0 834.4,282.7 833.1,280.2"/>
<path d="M673.6,269.6 677.0,269.6 675.6,271.2 673.6,269.6"/>
<path d="M380.5,420.0 380.5,420.0"/>
<path d="M203.9,394.7 206.5,399.6 207.2,409.4 209.8,414.3 210.5,419.2 199.9,419.2 193.9,425.7 182.0,437.2 176.1,437.2 160.9,446.6"/>
<path d="M131.4,455.4 160.9,455.4"/>
<path d="M160.9,446.6 160.9,469.0 139.0,469.0 139.0,489.9 131.7,493.6 131.7,507.1 106.3,507.1"/>
<path d="M160.9,458.4 186.7,477.2 225.7,509.1 230.3,515.6 239.6,525.9 246.5,525.0 256.8,522.6 268.0,510.7 280.0,500.1 297.7,489.5"/>
<path d="M186.7,477.2 174.7,477.2 182.0,547.5 182.7,554.9 158.9,554.9 147.6,558.2 143.0,559.0 137.7,561.0"/>
<path d="M137.7,561.0 133.1,554.1 125.8,545.9 115.9,546.7 109.9,549.2"/>
<path d="M137.7,561.0 143.0,572.1 143.6,580.2"/>
<path d="M107.9,580.6 117.8,577.8 127.8,577.8 136.4,580.2 143.6,580.2"/>
<path d="M107.3,568.8 119.2,568.8 127.1,570.4 127.1,572.9 119.2,572.1 107.9,574.1"/>
<path d="M127.8,577.8 127.8,586.0 122.5,589.2 119.2,592.5"/>
<path d="M143.6,580.2 148.3,584.3 156.2,581.0 161.5,589.2 165.5,598.2"/>
<path d="M130.4,608.0 135.7,601.5 144.3,600.7 147.6,606.4 148.3,612.1 150.3,612.1"/>
<path d="M150.3,612.1 148.3,616.2 142.3,625.2"/>
<path d="M150.3,612.1 155.6,612.9 158.9,619.5 162.2,619.5 163.5,621.1"/>
<path d="M163.5,621.1 163.5,627.6 168.8,633.4 168.8,645.6"/>
<path d="M163.5,621.1 166.1,616.2 164.2,608.0 166.1,603.9 165.5,598.2"/>
<path d="M165.5,598.2 172.1,598.2 177.4,596.6 182.0,596.6"/>
<path d="M182.0,596.6 183.3,589.2 189.3,579.4 190.6,572.9 196.6,571.2 205.2,562.2 213.8,558.2 219.7,559.4"/>
<path d="M219.7,559.4 228.3,556.5 241.6,555.7 246.2,547.5 246.5,525.0"/>
<path d="M182.0,596.6 186.7,601.5 194.6,600.7 200.6,603.9 199.9,591.7 217.8,590.9"/>
<path d="M200.6,603.9 201.9,614.6 197.2,624.4 197.9,639.9"/>
<path d="M217.8,590.9 221.1,597.4 222.4,613.7 221.7,624.4 226.4,631.7"/>
<path d="M217.8,590.9 224.4,591.7 223.7,596.6 229.0,608.0 229.0,630.9"/>
<path d="M224.4,591.7 233.0,586.8 234.3,581.0 225.0,575.3 222.4,569.6 219.7,559.4"/>
<path d="M234.3,581.0 242.2,586.0"/>
<path d="M242.2,586.0 242.9,597.4 236.9,608.0 236.3,629.3"/>
<path d="M242.2,586.0 243.6,576.1 246.2,571.2 258.1,569.6 270.0,572.9 284.6,572.9 301.1,574.5 308.4,569.6"/>
<path d="M308.4,569.6 307.7,563.9 321.0,550.8 321.6,518.1 323.6,514.8 317.7,493.6"/>
<path d="M297.7,489.5 307.7,491.9 317.7,493.6 377.2,522.2"/>
<path d="M308.4,569.6 312.4,580.2 314.4,583.5 309.1,593.3 303.1,607.2 297.8,612.9 296.5,624.4 288.6,625.2 283.3,632.5 275.3,643.2"/>
<path d="M312.4,580.2 317.7,591.7 319.0,599.9 311.1,601.5 321.0,620.3"/>
<path d="M321.0,620.3 330.9,617.8 341.5,616.2 344.1,608.0 357.4,603.9 364.0,593.3 369.9,591.7"/>
<path d="M377.2,522.2 377.2,553.3 367.3,563.1 364.0,575.3 367.3,583.5 369.9,591.7"/>
<path d="M383.8,423.3 383.8,518.1 377.2,518.1 377.2,522.2"/>
<path d="M294.5,410.6 286.6,422.5 285.9,434.7 281.3,436.4 283.9,460.9 281.9,465.8 286.6,481.3 297.7,489.5"/>
<path d="M275.3,379.5 273.3,387.3 274.0,397.1 268.7,403.6 272.7,411.8 281.3,434.7 285.9,434.7"/>
<path d="M383.8,501.8 425.5,501.8 461.9,501.8"/>
<path d="M444.7,425.7 449.3,440.4"/>
<path d="M321.0,620.3 315.0,633.4 314.4,644.8 318.3,651.4 324.9,662.8"/>
<path d="M283.3,663.6 293.2,663.6 306.4,663.6 324.9,662.8"/>
<path d="M283.3,673.4 293.2,673.4 293.2,663.6"/>
<path d="M306.4,663.6 305.8,671.8 313.7,683.2 313.7,694.7 307.7,701.2 295.2,700.4 291.9,713.5"/>
<path d="M324.9,662.8 335.5,652.2 341.5,646.4 347.4,639.9 354.1,645.6 366.6,648.1 373.2,644.0 383.8,640.7 393.8,640.7 399.7,639.9"/>
<path d="M341.5,646.4 337.5,665.2 334.2,677.5 327.6,689.8 325.6,698.0 319.7,715.9 313.7,717.6 305.1,719.2 299.1,729.0"/>
<path d="M299.1,729.0 305.8,729.8 325.6,729.8 328.3,741.3 334.9,747.8 344.1,746.2 346.8,738.8 362.0,741.3 362.7,759.3 366.0,771.5 376.6,770.7 377.2,787.9 364.0,787.9 364.0,814.0 373.2,825.5"/>
<path d="M296.2,822.6 307.1,820.6 340.2,823.8 357.4,828.8 373.2,825.5 385.2,827.1"/>
<path d="M357.4,828.8 357.4,861.5 350.8,861.5 350.8,884.3 350.8,913.8 338.8,917.0 327.6,915.4"/>
<path d="M350.8,884.3 356.0,900.7 368.0,892.5 373.9,888.4 387.8,890.9 395.7,881.9 400.4,873.7 410.3,863.1 425.5,864.7"/>
<path d="M385.2,827.1 395.1,829.6 402.4,817.3 412.3,809.9 419.6,809.1 423.5,820.6 436.1,818.1 436.8,832.8 435.4,843.5 433.5,855.7 425.5,864.7"/>
<path d="M385.2,827.1 389.8,827.9 390.4,834.5 399.1,849.2 403.7,858.2 410.3,863.1"/>
<path d="M425.5,864.7 430.1,880.3 429.5,890.9 430.8,900.7 436.1,901.5"/>
<path d="M423.5,891.7 430.1,893.3 430.8,900.7 424.9,904.8 422.2,897.4 423.5,891.7"/>
<path d="M397.1,923.6 405.7,916.2 412.9,921.1 411.0,927.7 403.7,931.8 397.1,923.6"/>
<path d="M376.6,770.7 379.9,775.6 385.8,773.2 393.8,778.9 398.4,776.4 406.3,783.8 413.6,790.3 415.6,781.3 410.3,783.0 407.7,771.5 407.7,755.2 421.5,749.5"/>
<path d="M415.6,781.3 418.2,792.0 424.9,792.8 434.8,793.6 438.1,796.1 419.6,809.1"/>
<path d="M438.1,796.1 438.8,767.4 436.1,758.4 423.5,751.9 421.5,749.5"/>
<path d="M438.1,796.1 446.0,799.3 451.3,798.5 455.3,812.4 451.3,821.4 446.0,814.9 445.4,803.4"/>
<path d="M451.3,798.5 450.0,787.9 449.3,776.4"/>
<path d="M447.4,775.6 455.3,775.6 466.5,776.4 473.2,773.2 485.7,767.4"/>
<path d="M436.8,758.4 443.4,759.3"/>
<path d="M421.5,749.5 422.2,751.1"/>
<path d="M411.0,708.6 410.3,693.0 414.3,686.5 416.3,676.7 422.2,671.8 425.5,663.6 422.2,653.0 416.9,646.4 406.3,646.4 399.7,639.9"/>
<path d="M410.3,693.0 420.2,689.8 428.2,689.8"/>
<path d="M411.0,708.6 418.9,709.4 422.2,701.2 420.2,689.8"/>
<path d="M412.9,716.8 417.6,716.8 422.2,708.6 418.9,709.4"/>
<path d="M442.7,689.8 467.2,706.1 477.8,720.0"/>
<path d="M442.7,680.8 444.0,679.1 447.4,671.8 450.0,666.1 447.4,651.4 443.4,647.3 440.1,650.5 431.5,652.2 422.2,653.0"/>
<path d="M443.4,647.3 456.0,644.0 456.0,638.3 451.3,640.7"/>
<path d="M456.0,644.0 463.2,646.4 469.9,652.2 476.5,653.0 483.1,648.9 495.7,648.9"/>
<path d="M495.7,648.9 489.7,658.7 489.7,689.0 493.7,694.7"/>
<path d="M495.7,648.9 502.9,644.0 516.2,640.7 535.4,616.2 509.6,608.0 504.3,599.9 502.3,591.7 499.0,579.4"/>
<path d="M502.3,591.7 504.9,587.6"/>
<path d="M459.9,564.7 459.9,559.0 463.2,544.3 473.2,536.9 473.8,534.5"/>
<path d="M459.9,564.7 456.0,578.6 449.3,591.7 445.4,595.8 444.0,611.3 438.1,612.9 436.8,617.8 443.4,622.7 450.0,636.6 451.3,640.7"/>
<path d="M206.5,326.8 215.1,331.7 223.0,331.7 230.3,334.2 239.6,335.0"/>
<path d="M159.5,339.1 164.2,338.2 174.7,339.1 172.8,346.4 172.1,353.0 170.1,358.7 172.1,362.8 169.5,369.3 169.5,377.5"/>
<path d="M235.0,264.3 242.9,268.8 246.2,273.7 250.8,272.0 256.8,276.9 260.8,279.4 268.0,280.2 272.7,281.3 268.7,292.5"/>
<path d="M242.2,260.6 248.2,261.4 256.8,263.0 257.5,266.3 258.8,271.2 256.8,276.9"/>
<path d="M248.2,261.4 251.5,260.6 256.8,258.1 259.4,257.3 263.4,255.7 264.7,246.7 266.1,245.1"/>
<path d="M258.8,271.2 260.8,274.5 260.8,279.4"/>
<path d="M258.8,271.2 259.4,266.3 257.5,266.3"/>
<path d="M268.7,292.5 264.7,293.3 258.8,302.3 263.4,305.6 264.7,311.3 262.1,318.6 268.0,323.5"/>
<path d="M258.8,302.3 266.1,306.4 274.0,303.1 278.0,307.2 285.9,300.6 287.9,298.2 299.1,296.6 304.4,300.6 309.1,301.5 308.4,306.4"/>
<path d="M268.7,292.5 275.3,290.8 281.9,293.3 281.3,296.6 287.9,298.2"/>
<path d="M281.9,293.3 287.9,292.5 299.1,291.7 304.4,293.3 304.4,289.2 309.7,284.3"/>
<path d="M309.7,284.3 301.8,276.9 298.5,270.4 304.4,268.8 313.7,264.7 316.3,266.3 319.0,264.7 326.3,267.1 329.6,271.2 335.5,272.0 341.5,273.7 343.5,276.9"/>
<path d="M313.7,264.7 316.3,256.5 315.0,251.6 312.4,240.6"/>
<path d="M309.7,284.3 315.0,284.3 317.7,281.0 324.3,282.7 330.2,284.3 330.2,289.2 327.6,293.3 324.9,298.2 328.3,301.5"/>
<path d="M330.2,284.3 336.2,290.8 342.8,290.8 348.1,287.6 354.1,285.1 364.6,285.9"/>
<path d="M343.5,276.9 349.4,279.4 356.7,277.8 368.0,280.2 364.6,285.9"/>
<path d="M368.0,280.2 369.9,273.7 376.6,268.8 377.9,259.8 374.6,255.7 376.6,248.3 373.9,241.0"/>
<path d="M373.9,241.0 369.3,236.9 348.1,236.9"/>
<path d="M364.6,285.9 369.9,290.0 383.2,291.7 394.4,287.6"/>
<path d="M394.4,287.6 405.0,299.8 405.0,309.6 414.9,311.3"/>
<path d="M352.7,304.7 358.7,302.3 364.6,292.5 369.9,290.0"/>
<path d="M328.3,301.5 332.9,305.6 340.2,307.2 343.5,306.4 352.7,304.7"/>
<path d="M308.4,306.4 309.1,308.8"/>
<path d="M309.1,301.5 314.4,302.3 322.3,299.8 328.3,301.5"/>
<path d="M352.7,304.7 360.0,313.7 367.3,317.0 368.6,320.3 366.6,325.2 370.6,323.5 380.5,324.4 387.8,325.2 397.1,321.1 407.7,323.9"/>
<path d="M366.6,325.2 369.9,330.9 366.6,335.8 369.9,344.0 377.2,342.3 385.8,344.8 392.4,340.7 397.7,338.2 403.7,338.4"/>
<path d="M392.4,340.7 394.4,344.0 390.4,348.1"/>
<path d="M346.8,339.9 348.1,333.3 350.8,333.3 354.7,335.8 354.1,343.2 357.4,349.7 354.7,353.8 350.8,357.1"/>
<path d="M354.1,343.2 363.3,345.6 369.9,344.0"/>
<path d="M456.0,387.3 457.9,387.3 461.2,380.8 469.9,380.8 486.4,378.3 497.6,376.7 501.6,376.7 511.5,379.1 514.8,377.5 512.2,368.5 509.6,359.5 514.8,357.1"/>
<path d="M497.6,376.7 491.7,383.2 489.7,400.4 475.1,408.6 461.9,417.5 456.0,414.3 454.0,410.2 459.3,403.6 460.6,397.9 456.0,396.3"/>
<path d="M475.1,408.6 477.8,418.4 463.2,424.1 469.9,432.3 466.5,436.4 456.6,442.9 450.0,441.3"/>
<path d="M454.0,410.2 453.3,416.7 450.0,426.5 449.7,440.4"/>
<path d="M477.8,418.4 485.7,420.8 497.0,427.4 514.2,442.9 526.1,443.7 534.0,448.6 538.7,448.6"/>
<path d="M526.1,443.7 532.0,436.4 536.0,436.4 539.3,437.2"/>
<path d="M514.8,377.5 518.2,387.3 523.4,389.8 518.8,403.6 524.1,411.8 532.0,416.7 534.7,424.9 536.0,432.3 539.3,437.2"/>
<path d="M514.8,357.1 519.5,363.6 526.1,363.6 535.4,357.1 538.7,361.1 536.0,364.4 542.0,367.7"/>
<path d="M514.8,357.1 506.9,353.8 506.2,345.6 501.6,341.5 493.7,342.3"/>
<path d="M456.6,442.9 466.5,440.4 469.9,441.3"/>
<path d="M626.0,475.6 627.3,465.0 637.3,463.3 636.6,459.2 633.9,451.1 625.3,439.6 621.4,437.2 626.7,424.9 620.7,424.1 619.4,410.2 621.4,401.2 618.7,397.1 622.7,390.6"/>
<path d="M622.7,390.6 610.8,382.4 599.5,371.8 590.9,370.1 585.0,370.9 577.0,376.7 575.1,376.7"/>
<path d="M621.4,437.2 632.0,441.3 643.2,440.4 657.1,437.2 659.1,426.5 668.4,421.6 677.0,420.8 678.3,411.8 683.6,408.6 680.9,403.6 688.9,400.4 691.5,391.4 692.2,383.2 698.8,379.1 714.0,377.5"/>
<path d="M622.7,390.6 632.0,393.0 645.2,384.8 652.5,375.9 667.0,377.5 671.0,379.1 682.9,374.2 691.5,371.8 690.2,381.6 698.8,379.1"/>
<path d="M627.3,465.0 627.3,477.2"/>
<path d="M657.1,437.2 657.1,437.2"/>
<path d="M673.6,493.6 678.9,482.9 688.2,482.1 685.6,471.5 682.9,464.1 678.3,460.9 685.6,452.7 694.2,453.5 704.1,437.2 708.0,428.2 712.0,420.8 717.3,417.5 710.7,411.8 708.0,403.6 720.0,399.6 733.2,391.4"/>
<path d="M714.0,377.5 720.6,381.6 733.2,391.4 740.5,401.2 739.8,411.0 743.1,415.9 737.8,420.0 742.5,425.7 755.0,434.7"/>
<path d="M755.0,434.7 748.4,446.2 756.4,451.1 769.6,458.4 778.2,458.4 786.1,464.1 800.7,465.8 802.0,454.3 801.3,465.8"/>
<path d="M755.0,434.7 764.3,433.9 774.2,442.1 786.1,450.2 801.3,453.5 806.0,452.7 810.6,451.9 825.2,454.3 827.8,461.7 816.6,462.5 808.0,461.7 806.0,458.4"/>
<path d="M825.2,454.3 840.4,442.9 850.3,442.9"/>
<path d="M801.3,465.8 809.3,469.0 813.3,474.8 827.1,475.6 829.8,482.9 824.5,484.6 821.9,489.5 825.8,493.6 829.1,508.3"/>
<path d="M801.3,465.8 803.3,472.3 806.6,475.6 803.3,482.9 805.3,491.9 807.3,504.2"/>
<path d="M829.8,482.9 835.8,485.4 836.4,493.6 835.1,500.1 831.1,506.7 829.1,508.3"/>
<path d="M835.8,485.4 841.7,486.2 844.4,475.6 848.3,469.0 850.3,465.0"/>
<path d="M714.0,377.5 716.0,370.9 710.0,365.2 706.7,358.7 713.3,351.3 723.3,351.3 735.8,344.8 749.1,337.4 749.1,330.9 751.7,313.7 765.0,311.3 767.6,295.7 784.8,296.6 786.1,285.1 796.1,280.2 799.4,279.4"/>
<path d="M799.4,279.4 806.0,287.6 817.2,292.5 820.5,298.2 817.9,310.5 833.8,313.7 849.6,319.4"/>
<path d="M849.6,319.4 853.6,330.1"/>
<path d="M799.4,279.4 810.6,273.7 820.5,270.4 842.4,267.9 853.6,272.0"/>
<path d="M275.3,232.8 283.9,233.6"/>
<path d="M292.5,198.5 295.8,194.4 299.1,191.1"/>
<path d="M499.0,579.4 503.6,577.8"/>
<path d="M369.9,591.7 374.6,600.7 373.9,610.5 380.5,613.7 385.8,619.5 393.1,628.5 399.7,639.9"/>
<path d="M562.5,526.3 569.8,545.5"/>
<path d="M681.6,481.3 689.5,480.5 698.1,481.3 702.8,482.9 706.7,487.0 709.4,491.1 710.0,497.7 708.0,502.6 706.7,505.8 704.7,509.9 700.8,516.5"/>
<path d="M709.4,491.1 714.7,487.0 718.0,482.9 721.3,481.3 726.6,483.8 727.9,477.2 733.2,473.1 736.5,466.6 731.2,461.7 729.9,454.3"/>
<path d="M707.4,437.2 711.4,436.4 716.7,439.6 722.6,442.9 724.6,450.2 727.9,451.1 729.9,454.3"/>
<path d="M716.7,439.6 722.6,434.7 726.6,429.0 731.9,433.1"/>
<path d="M712.0,420.8 718.6,417.5 723.3,413.5 731.2,415.1 737.8,416.7"/>
<path d="M718.6,417.5 723.9,424.9 726.6,429.0"/>
<path d="M729.9,454.3 731.2,448.6 729.2,440.4 731.9,433.1 734.5,428.2 739.8,424.9"/>
<path d="M731.9,433.1 737.8,438.0 743.1,442.9 748.4,446.2"/>
<path d="M733.2,473.1 735.8,475.6 737.8,481.3 743.1,480.5 749.1,477.2 754.4,478.0 761.6,482.1 765.6,485.4 770.9,485.4"/>
<path d="M778.2,458.4 775.5,465.0 778.2,470.7 772.9,474.0 770.2,478.0 770.9,485.4"/>
<path d="M770.9,481.3 777.5,479.7 784.1,481.3 790.8,480.5 798.7,475.6 801.3,465.8"/>
<path d="M798.7,475.6 795.4,485.4 791.4,490.3 787.5,496.8 796.7,505.0"/>
<path d="M787.5,496.8 780.8,500.1 774.2,498.5 770.9,489.5 770.9,485.4"/>
<path d="M765.6,485.4 759.0,491.9 754.4,497.7 751.1,504.2"/>
<path d="M708.0,502.6 714.7,505.8 721.3,507.5 727.9,505.8 734.5,505.8 741.1,505.0 751.1,504.2"/>
<path d="M751.1,504.2 751.1,514.0 753.0,522.2 757.7,536.1"/>
<path d="M774.2,498.5 770.2,505.8 764.3,514.0 761.0,526.3 757.7,536.1"/>
<path d="M753.0,522.2 744.4,522.2 734.5,522.2 731.9,532.0 731.2,534.5"/>
<path d="M731.2,534.5 724.6,535.3 718.0,541.0 711.4,546.7 709.4,552.4 706.7,554.1"/>
<path d="M709.4,552.4 710.0,559.0 708.0,559.8"/>
<path d="M731.2,534.5 731.2,546.7 737.8,550.8 744.4,546.7 751.1,542.6 757.7,536.1"/>
<path d="M731.2,546.7 727.9,557.3 729.9,567.1 736.5,575.3 737.8,577.8"/>
<path d="M737.8,577.8 733.2,581.9 727.9,586.0 724.6,586.8 716.0,581.0"/>
<path d="M724.6,586.8 726.6,593.3 729.2,599.9 729.2,608.0 730.5,613.7"/>
<path d="M737.8,577.8 744.4,572.9 749.7,571.2"/>
<path d="M757.7,536.1 764.3,530.4 770.9,527.1 778.8,525.5"/>
<path d="M812.6,466.6 827.1,462.5 840.4,456.8 850.3,453.5"/>
<path d="M825.8,468.2 830.5,473.1 837.1,477.2 843.7,473.1"/>
<path d="M829.1,478.9 835.8,485.4"/>
<circle cx="382.8" cy="372.2" r="1.5"/>
<circle cx="384.8" cy="374.2" r="1.0"/>
<circle cx="386.1" cy="375.4" r="1.0"/>
<circle cx="383.2" cy="375.4" r="1.0"/>
<circle cx="379.4" cy="374.1" r="1.0"/>
<circle cx="380.0" cy="375.9" r="1.0"/>
<circle cx="380.4" cy="377.9" r="1.0"/>
<circle cx="381.8" cy="379.4" r="1.0"/>
<circle cx="380.0" cy="381.6" r="1.4"/>
<circle cx="384.8" cy="378.7" r="1.3"/>
<circle cx="385.8" cy="381.4" r="1.0"/>
<circle cx="389.8" cy="380.4" r="1.2"/>
<circle cx="386.7" cy="384.0" r="1.0"/>
<circle cx="389.0" cy="384.4" r="0.8"/>
<circle cx="383.2" cy="382.2" r="0.8"/>
<circle cx="394.1" cy="376.5" r="0.8"/>
<circle cx="396.1" cy="377.9" r="0.8"/>
<circle cx="396.9" cy="379.3" r="1.0"/>
<circle cx="397.7" cy="380.4" r="1.3"/>
<circle cx="398.2" cy="382.4" r="0.8"/>
<circle cx="399.5" cy="383.8" r="0.8"/>
<circle cx="402.7" cy="382.4" r="0.8"/>
<circle cx="392.8" cy="382.8" r="1.0"/>
<circle cx="385.2" cy="355.4" r="1.8"/>
<circle cx="387.5" cy="350.8" r="1.0"/>
<circle cx="389.5" cy="353.1" r="1.0"/>
<circle cx="390.8" cy="356.0" r="0.8"/>
<circle cx="380.9" cy="364.0" r="1.3"/>
<circle cx="373.6" cy="361.4" r="0.8"/>
<circle cx="375.2" cy="361.8" r="0.9"/>
<circle cx="376.4" cy="361.1" r="0.8"/>
<circle cx="387.8" cy="366.5" r="0.8"/>
<circle cx="391.4" cy="374.2" r="1.3"/>
<circle cx="373.9" cy="373.0" r="1.0"/>
<circle cx="373.8" cy="371.4" r="1.0"/>
<circle cx="373.7" cy="376.4" r="1.0"/>
<circle cx="370.6" cy="385.3" r="1.2"/>
<circle cx="356.4" cy="372.7" r="1.4"/>
<circle cx="355.1" cy="365.2" r="1.2"/>
<circle cx="355.4" cy="367.7" r="0.8"/>
<circle cx="315.0" cy="313.3" r="1.2"/>
<circle cx="313.7" cy="315.0" r="1.4"/>
<circle cx="316.0" cy="315.8" r="0.9"/>
<circle cx="317.7" cy="317.8" r="1.3"/>
<circle cx="328.3" cy="327.5" r="1.3"/>
<circle cx="328.9" cy="328.8" r="1.3"/>
<circle cx="330.2" cy="330.5" r="1.2"/>
<circle cx="334.2" cy="332.1" r="1.0"/>
<circle cx="325.3" cy="329.7" r="0.8"/>
<circle cx="317.7" cy="321.9" r="1.2"/>
<circle cx="319.7" cy="322.7" r="0.8"/>
<circle cx="317.3" cy="366.9" r="1.0"/>
<circle cx="319.0" cy="364.4" r="0.8"/>
<circle cx="305.4" cy="365.2" r="0.8"/>
<circle cx="299.8" cy="370.9" r="0.9"/>
<circle cx="310.4" cy="348.6" r="0.8"/>
<circle cx="312.7" cy="350.1" r="0.7"/>
<circle cx="304.1" cy="347.2" r="0.7"/>
<circle cx="292.5" cy="397.9" r="1.1"/>
<circle cx="290.5" cy="405.3" r="1.4"/>
<circle cx="301.8" cy="391.4" r="0.8"/>
<circle cx="297.5" cy="380.8" r="0.8"/>
<circle cx="299.8" cy="232.4" r="1.0"/>
<circle cx="289.5" cy="232.8" r="1.0"/>
<circle cx="283.9" cy="232.4" r="1.0"/>
<circle cx="288.6" cy="224.9" r="0.8"/>
<circle cx="295.2" cy="218.1" r="0.8"/>
<circle cx="291.2" cy="213.2" r="0.9"/>
<circle cx="338.2" cy="196.8" r="1.0"/>
<circle cx="341.5" cy="195.6" r="0.8"/>
<circle cx="344.1" cy="193.6" r="0.8"/>
<circle cx="330.9" cy="201.7" r="0.8"/>
<circle cx="329.6" cy="206.6" r="0.7"/>
<circle cx="250.2" cy="247.9" r="0.8"/>
<circle cx="252.8" cy="245.9" r="0.9"/>
<circle cx="255.5" cy="244.6" r="0.9"/>
<circle cx="258.1" cy="244.2" r="0.8"/>
<circle cx="262.1" cy="243.4" r="0.8"/>
<circle cx="266.1" cy="242.6" r="0.9"/>
<circle cx="270.0" cy="241.8" r="0.8"/>
<circle cx="274.7" cy="234.4" r="1.0"/>
<circle cx="274.0" cy="231.6" r="0.9"/>
<circle cx="170.1" cy="212.4" r="1.3"/>
<circle cx="169.5" cy="214.8" r="1.1"/>
<circle cx="184.0" cy="227.1" r="1.2"/>
<circle cx="179.4" cy="224.2" r="1.2"/>
<circle cx="173.1" cy="219.7" r="0.9"/>
<circle cx="175.1" cy="218.5" r="0.8"/>
<circle cx="198.6" cy="199.3" r="1.2"/>
<circle cx="199.9" cy="200.9" r="0.9"/>
<circle cx="252.8" cy="192.7" r="1.1"/>
<circle cx="253.5" cy="196.0" r="0.9"/>
<circle cx="255.5" cy="198.0" r="0.9"/>
<circle cx="257.5" cy="194.4" r="1.0"/>
<circle cx="260.1" cy="196.8" r="0.9"/>
<circle cx="266.7" cy="207.0" r="0.8"/>
<circle cx="273.3" cy="205.8" r="0.8"/>
<circle cx="281.9" cy="200.1" r="0.8"/>
<circle cx="369.9" cy="192.3" r="0.9"/>
<circle cx="375.9" cy="194.4" r="0.7"/>
<circle cx="396.4" cy="191.1" r="0.8"/>
<circle cx="161.5" cy="335.0" r="0.8"/>
<circle cx="238.3" cy="359.9" r="0.7"/>
<circle cx="280.6" cy="344.8" r="0.8"/>
<circle cx="273.3" cy="362.0" r="0.8"/>
<circle cx="403.7" cy="349.7" r="0.9"/>
<circle cx="401.0" cy="349.7" r="0.7"/>
<path d="M592.0,193.0 593.5,199.0 595.0,207.0"/>
<path d="M587.0,202.0 590.0,205.0"/>
<path d="M582.6,208.7 576.4,216.4"/>
<path d="M561.0,225.8 550.0,228.0 543.8,228.0 539.9,235.0 542.2,242.9 545.3,245.2"/>
<path d="M539.0,250.0 534.4,255.3"/>
<path d="M528.2,256.9 522.8,261.5 520.4,267.8"/>
<path d="M518.9,270.9 512.7,284.9"/>
<path d="M508.0,277.0 503.3,284.9 498.7,291.0"/>
<path d="M502.0,211.0 505.0,213.0 503.0,216.0"/>
</g>
<g class="num">
<text x="53.0" y="202.8">10</text>
<text x="72.8" y="202.8">11</text>
<text x="92.7" y="202.8">12</text>
<text x="112.5" y="202.8">11</text>
<text x="132.4" y="202.8">10</text>
<text x="152.2" y="202.8">8</text>
<text x="172.1" y="202.8">8</text>
<text x="191.9" y="202.8">9</text>
<text x="211.8" y="202.8">8</text>
<text x="231.7" y="202.8">10</text>
<text x="251.5" y="202.8">11</text>
<text x="271.4" y="202.8">4</text>
<text x="291.2" y="202.8">9</text>
<text x="311.1" y="202.8">8</text>
<text x="330.9" y="202.8">2</text>
<text x="350.8" y="202.8">3</text>
<text x="370.6" y="202.8">3</text>
<text x="390.4" y="202.8">3</text>
<text x="410.3" y="202.8">4</text>
<text x="430.1" y="202.8">2</text>
<text x="450.0" y="202.8">3</text>
<text x="469.9" y="202.8">4</text>
<text x="489.7" y="202.8">3</text>
<text x="509.6" y="202.8">2</text>
<text x="529.4" y="202.8">4</text>
<text x="549.2" y="202.8">4</text>
<text x="569.1" y="202.8">3</text>
<text x="589.0" y="202.8">1</text>
<text x="608.8" y="202.8">&#8722;5</text>
<text x="628.6" y="202.8">&#8722;8</text>
<text x="648.5" y="202.8">&#8722;8</text>
<text x="668.4" y="202.8">&#8722;7</text>
<text x="688.2" y="202.8">&#8722;10</text>
<text x="708.0" y="202.8">&#8722;9</text>
<text x="727.9" y="202.8">&#8722;10</text>
<text x="747.8" y="202.8">&#8722;11</text>
<text x="767.6" y="202.8">&#8722;9</text>
<text x="787.5" y="202.8">&#8722;10</text>
<text x="807.3" y="202.8">&#8722;8</text>
<text x="827.1" y="202.8">&#8722;11</text>
<text x="847.0" y="202.8">&#8722;11</text>
<text x="53.0" y="227.3">12</text>
<text x="72.8" y="227.3">12</text>
<text x="92.7" y="227.3">12</text>
<text x="112.5" y="227.3">11</text>
<text x="132.4" y="227.3">10</text>
<text x="152.2" y="227.3">9</text>
<text x="172.1" y="227.3">12</text>
<text x="191.9" y="227.3">8</text>
<text x="211.8" y="227.3">11</text>
<text x="231.7" y="227.3">12</text>
<text x="251.5" y="227.3">10</text>
<text x="271.4" y="227.3">11</text>
<text x="291.2" y="227.3">11</text>
<text x="311.1" y="227.3">5</text>
<text x="330.9" y="227.3">6</text>
<text x="350.8" y="227.3">5</text>
<text x="370.6" y="227.3">2</text>
<text x="390.4" y="227.3">3</text>
<text x="410.3" y="227.3">3</text>
<text x="430.1" y="227.3">3</text>
<text x="450.0" y="227.3">2</text>
<text x="469.9" y="227.3">3</text>
<text x="489.7" y="227.3">3</text>
<text x="509.6" y="227.3">3</text>
<text x="529.4" y="227.3">1</text>
<text x="549.2" y="227.3">6</text>
<text x="569.1" y="227.3">6</text>
<text x="589.0" y="227.3">4</text>
<text x="608.8" y="227.3">2</text>
<text x="628.6" y="227.3">&#8722;7</text>
<text x="648.5" y="227.3">&#8722;10</text>
<text x="668.4" y="227.3">&#8722;8</text>
<text x="688.2" y="227.3">&#8722;8</text>
<text x="708.0" y="227.3">&#8722;10</text>
<text x="727.9" y="227.3">&#8722;9</text>
<text x="747.8" y="227.3">&#8722;10</text>
<text x="767.6" y="227.3">&#8722;9</text>
<text x="787.5" y="227.3">&#8722;10</text>
<text x="807.3" y="227.3">&#8722;11</text>
<text x="827.1" y="227.3">&#8722;11</text>
<text x="847.0" y="227.3">&#8722;11</text>
<text x="53.0" y="251.8">11</text>
<text x="72.8" y="251.8">13</text>
<text x="92.7" y="251.8">13</text>
<text x="112.5" y="251.8">12</text>
<text x="132.4" y="251.8">11</text>
<text x="152.2" y="251.8">12</text>
<text x="172.1" y="251.8">9</text>
<text x="191.9" y="251.8">8</text>
<text x="211.8" y="251.8">10</text>
<text x="231.7" y="251.8">11</text>
<text x="251.5" y="251.8">12</text>
<text x="271.4" y="251.8">8</text>
<text x="291.2" y="251.8">8</text>
<text x="311.1" y="251.8">1</text>
<text x="330.9" y="251.8">4</text>
<text x="350.8" y="251.8">3</text>
<text x="370.6" y="251.8">3</text>
<text x="390.4" y="251.8">2</text>
<text x="410.3" y="251.8">2</text>
<text x="430.1" y="251.8">2</text>
<text x="450.0" y="251.8">1</text>
<text x="469.9" y="251.8">1</text>
<text x="489.7" y="251.8">2</text>
<text x="509.6" y="251.8">&#8722;2</text>
<text x="529.4" y="251.8">3</text>
<text x="549.2" y="251.8">8</text>
<text x="569.1" y="251.8">10</text>
<text x="589.0" y="251.8">8</text>
<text x="608.8" y="251.8">3</text>
<text x="628.6" y="251.8">&#8722;1</text>
<text x="648.5" y="251.8">&#8722;9</text>
<text x="668.4" y="251.8">&#8722;11</text>
<text x="688.2" y="251.8">&#8722;8</text>
<text x="708.0" y="251.8">&#8722;10</text>
<text x="727.9" y="251.8">&#8722;8</text>
<text x="747.8" y="251.8">&#8722;8</text>
<text x="767.6" y="251.8">&#8722;10</text>
<text x="787.5" y="251.8">&#8722;6</text>
<text x="807.3" y="251.8">&#8722;10</text>
<text x="827.1" y="251.8">&#8722;10</text>
<text x="847.0" y="251.8">&#8722;10</text>
<text x="53.0" y="276.4">12</text>
<text x="72.8" y="276.4">12</text>
<text x="92.7" y="276.4">14</text>
<text x="112.5" y="276.4">14</text>
<text x="132.4" y="276.4">13</text>
<text x="152.2" y="276.4">12</text>
<text x="172.1" y="276.4">13</text>
<text x="191.9" y="276.4">13</text>
<text x="211.8" y="276.4">14</text>
<text x="231.7" y="276.4">9</text>
<text x="251.5" y="276.4">7</text>
<text x="271.4" y="276.4">7</text>
<text x="291.2" y="276.4">7</text>
<text x="311.1" y="276.4">5</text>
<text x="330.9" y="276.4">1</text>
<text x="350.8" y="276.4">1</text>
<text x="370.6" y="276.4">1</text>
<text x="390.4" y="276.4">1</text>
<text x="410.3" y="276.4">3</text>
<text x="430.1" y="276.4">2</text>
<text x="450.0" y="276.4">1</text>
<text x="469.9" y="276.4">&#8722;0</text>
<text x="489.7" y="276.4">&#8722;1</text>
<text x="509.6" y="276.4">3</text>
<text x="529.4" y="276.4">5</text>
<text x="549.2" y="276.4">10</text>
<text x="569.1" y="276.4">9</text>
<text x="589.0" y="276.4">6</text>
<text x="608.8" y="276.4">6</text>
<text x="628.6" y="276.4">1</text>
<text x="648.5" y="276.4">&#8722;3</text>
<text x="668.4" y="276.4">&#8722;9</text>
<text x="688.2" y="276.4">&#8722;11</text>
<text x="708.0" y="276.4">&#8722;11</text>
<text x="727.9" y="276.4">&#8722;10</text>
<text x="747.8" y="276.4">&#8722;11</text>
<text x="767.6" y="276.4">&#8722;10</text>
<text x="787.5" y="276.4">&#8722;17</text>
<text x="807.3" y="276.4">&#8722;14</text>
<text x="827.1" y="276.4">&#8722;13</text>
<text x="847.0" y="276.4">&#8722;13</text>
<text x="53.0" y="300.9">14</text>
<text x="72.8" y="300.9">13</text>
<text x="92.7" y="300.9">15</text>
<text x="112.5" y="300.9">15</text>
<text x="132.4" y="300.9">16</text>
<text x="152.2" y="300.9">14</text>
<text x="172.1" y="300.9">14</text>
<text x="191.9" y="300.9">14</text>
<text x="211.8" y="300.9">10</text>
<text x="231.7" y="300.9">10</text>
<text x="251.5" y="300.9">9</text>
<text x="271.4" y="300.9">6</text>
<text x="291.2" y="300.9">&#8722;3</text>
<text x="311.1" y="300.9">2</text>
<text x="330.9" y="300.9">7</text>
<text x="350.8" y="300.9">&#8722;2</text>
<text x="370.6" y="300.9">&#8722;1</text>
<text x="390.4" y="300.9">1</text>
<text x="410.3" y="300.9">1</text>
<text x="430.1" y="300.9">1</text>
<text x="450.0" y="300.9">0</text>
<text x="469.9" y="300.9">3</text>
<text x="489.7" y="300.9">7</text>
<text x="509.6" y="300.9">8</text>
<text x="529.4" y="300.9">8</text>
<text x="549.2" y="300.9">11</text>
<text x="569.1" y="300.9">6</text>
<text x="589.0" y="300.9">6</text>
<text x="608.8" y="300.9">6</text>
<text x="628.6" y="300.9">5</text>
<text x="648.5" y="300.9">1</text>
<text x="668.4" y="300.9">&#8722;2</text>
<text x="688.2" y="300.9">&#8722;1</text>
<text x="708.0" y="300.9">&#8722;4</text>
<text x="727.9" y="300.9">&#8722;12</text>
<text x="747.8" y="300.9">&#8722;11</text>
<text x="767.6" y="300.9">&#8722;7</text>
<text x="787.5" y="300.9">&#8722;12</text>
<text x="807.3" y="300.9">&#8722;6</text>
<text x="827.1" y="300.9">&#8722;14</text>
<text x="847.0" y="300.9">&#8722;14</text>
<text x="53.0" y="325.4">14</text>
<text x="72.8" y="325.4">10</text>
<text x="92.7" y="325.4">17</text>
<text x="112.5" y="325.4">16</text>
<text x="132.4" y="325.4">16</text>
<text x="152.2" y="325.4">17</text>
<text x="172.1" y="325.4">17</text>
<text x="191.9" y="325.4">15</text>
<text x="211.8" y="325.4">11</text>
<text x="231.7" y="325.4">9</text>
<text x="251.5" y="325.4">11</text>
<text x="271.4" y="325.4">11</text>
<text x="291.2" y="325.4">10</text>
<text x="311.1" y="325.4">10</text>
<text x="330.9" y="325.4">3</text>
<text x="350.8" y="325.4">7</text>
<text x="370.6" y="325.4">8</text>
<text x="390.4" y="325.4">5</text>
<text x="410.3" y="325.4">7</text>
<text x="430.1" y="325.4">9</text>
<text x="450.0" y="325.4">11</text>
<text x="469.9" y="325.4">12</text>
<text x="489.7" y="325.4">&#8722;0</text>
<text x="509.6" y="325.4">8</text>
<text x="529.4" y="325.4">10</text>
<text x="549.2" y="325.4">13</text>
<text x="569.1" y="325.4">2</text>
<text x="589.0" y="325.4">4</text>
<text x="608.8" y="325.4">11</text>
<text x="628.6" y="325.4">3</text>
<text x="648.5" y="325.4">&#8722;3</text>
<text x="668.4" y="325.4">&#8722;4</text>
<text x="688.2" y="325.4">&#8722;1</text>
<text x="708.0" y="325.4">&#8722;2</text>
<text x="727.9" y="325.4">&#8722;3</text>
<text x="747.8" y="325.4">&#8722;1</text>
<text x="767.6" y="325.4">&#8722;6</text>
<text x="787.5" y="325.4">1</text>
<text x="807.3" y="325.4">3</text>
<text x="827.1" y="325.4">0</text>
<text x="847.0" y="325.4">0</text>
<text x="53.0" y="349.9">13</text>
<text x="72.8" y="349.9">15</text>
<text x="92.7" y="349.9">16</text>
<text x="112.5" y="349.9">15</text>
<text x="132.4" y="349.9">15</text>
<text x="152.2" y="349.9">15</text>
<text x="172.1" y="349.9">8</text>
<text x="191.9" y="349.9">8</text>
<text x="211.8" y="349.9">10</text>
<text x="231.7" y="349.9">18</text>
<text x="251.5" y="349.9">17</text>
<text x="271.4" y="349.9">16</text>
<text x="291.2" y="349.9">15</text>
<text x="311.1" y="349.9">13</text>
<text x="330.9" y="349.9">11</text>
<text x="350.8" y="349.9">8</text>
<text x="370.6" y="349.9">6</text>
<text x="390.4" y="349.9">8</text>
<text x="410.3" y="349.9">10</text>
<text x="430.1" y="349.9">6</text>
<text x="450.0" y="349.9">2</text>
<text x="469.9" y="349.9">7</text>
<text x="489.7" y="349.9">&#8722;1</text>
<text x="509.6" y="349.9">&#8722;4</text>
<text x="529.4" y="349.9">8</text>
<text x="549.2" y="349.9">14</text>
<text x="569.1" y="349.9">15</text>
<text x="589.0" y="349.9">3</text>
<text x="608.8" y="349.9">&#8722;0</text>
<text x="628.6" y="349.9">1</text>
<text x="648.5" y="349.9">&#8722;0</text>
<text x="668.4" y="349.9">&#8722;1</text>
<text x="688.2" y="349.9">&#8722;6</text>
<text x="708.0" y="349.9">&#8722;10</text>
<text x="727.9" y="349.9">&#8722;10</text>
<text x="747.8" y="349.9">&#8722;5</text>
<text x="767.6" y="349.9">&#8722;5</text>
<text x="787.5" y="349.9">&#8722;5</text>
<text x="807.3" y="349.9">&#8722;3</text>
<text x="827.1" y="349.9">&#8722;1</text>
<text x="847.0" y="349.9">&#8722;1</text>
<text x="53.0" y="374.4">16</text>
<text x="72.8" y="374.4">15</text>
<text x="92.7" y="374.4">16</text>
<text x="112.5" y="374.4">15</text>
<text x="132.4" y="374.4">15</text>
<text x="152.2" y="374.4">16</text>
<text x="172.1" y="374.4">10</text>
<text x="191.9" y="374.4">9</text>
<text x="211.8" y="374.4">17</text>
<text x="231.7" y="374.4">20</text>
<text x="251.5" y="374.4">20</text>
<text x="271.4" y="374.4">19</text>
<text x="291.2" y="374.4">19</text>
<text x="311.1" y="374.4">12</text>
<text x="330.9" y="374.4">14</text>
<text x="350.8" y="374.4">13</text>
<text x="370.6" y="374.4">9</text>
<text x="390.4" y="374.4">13</text>
<text x="410.3" y="374.4">3</text>
<text x="430.1" y="374.4">&#8722;1</text>
<text x="450.0" y="374.4">&#8722;4</text>
<text x="469.9" y="374.4">&#8722;4</text>
<text x="489.7" y="374.4">6</text>
<text x="509.6" y="374.4">&#8722;4</text>
<text x="529.4" y="374.4">&#8722;2</text>
<text x="549.2" y="374.4">14</text>
<text x="569.1" y="374.4">18</text>
<text x="589.0" y="374.4">1</text>
<text x="608.8" y="374.4">&#8722;2</text>
<text x="628.6" y="374.4">&#8722;4</text>
<text x="648.5" y="374.4">&#8722;4</text>
<text x="668.4" y="374.4">&#8722;10</text>
<text x="688.2" y="374.4">&#8722;16</text>
<text x="708.0" y="374.4">&#8722;21</text>
<text x="727.9" y="374.4">&#8722;10</text>
<text x="747.8" y="374.4">&#8722;12</text>
<text x="767.6" y="374.4">&#8722;12</text>
<text x="787.5" y="374.4">&#8722;14</text>
<text x="807.3" y="374.4">&#8722;18</text>
<text x="827.1" y="374.4">&#8722;18</text>
<text x="847.0" y="374.4">&#8722;18</text>
<text x="53.0" y="399.0">18</text>
<text x="72.8" y="399.0">17</text>
<text x="92.7" y="399.0">17</text>
<text x="112.5" y="399.0">15</text>
<text x="132.4" y="399.0">17</text>
<text x="152.2" y="399.0">18</text>
<text x="172.1" y="399.0">20</text>
<text x="191.9" y="399.0">16</text>
<text x="211.8" y="399.0">16</text>
<text x="231.7" y="399.0">9</text>
<text x="251.5" y="399.0">11</text>
<text x="271.4" y="399.0">9</text>
<text x="291.2" y="399.0">18</text>
<text x="311.1" y="399.0">17</text>
<text x="330.9" y="399.0">16</text>
<text x="350.8" y="399.0">15</text>
<text x="370.6" y="399.0">14</text>
<text x="390.4" y="399.0">12</text>
<text x="410.3" y="399.0">14</text>
<text x="430.1" y="399.0">12</text>
<text x="450.0" y="399.0">11</text>
<text x="469.9" y="399.0">&#8722;2</text>
<text x="489.7" y="399.0">5</text>
<text x="509.6" y="399.0">2</text>
<text x="529.4" y="399.0">&#8722;3</text>
<text x="549.2" y="399.0">&#8722;3</text>
<text x="569.1" y="399.0">&#8722;4</text>
<text x="589.0" y="399.0">&#8722;4</text>
<text x="608.8" y="399.0">&#8722;4</text>
<text x="628.6" y="399.0">&#8722;7</text>
<text x="648.5" y="399.0">&#8722;7</text>
<text x="668.4" y="399.0">&#8722;16</text>
<text x="688.2" y="399.0">&#8722;11</text>
<text x="708.0" y="399.0">&#8722;2</text>
<text x="727.9" y="399.0">&#8722;21</text>
<text x="747.8" y="399.0">&#8722;20</text>
<text x="767.6" y="399.0">&#8722;20</text>
<text x="787.5" y="399.0">&#8722;20</text>
<text x="807.3" y="399.0">&#8722;23</text>
<text x="827.1" y="399.0">&#8722;20</text>
<text x="847.0" y="399.0">&#8722;20</text>
<text x="53.0" y="423.5">18</text>
<text x="72.8" y="423.5">18</text>
<text x="92.7" y="423.5">15</text>
<text x="112.5" y="423.5">16</text>
<text x="132.4" y="423.5">19</text>
<text x="152.2" y="423.5">19</text>
<text x="172.1" y="423.5">8</text>
<text x="191.9" y="423.5">3</text>
<text x="211.8" y="423.5">5</text>
<text x="231.7" y="423.5">7</text>
<text x="251.5" y="423.5">9</text>
<text x="271.4" y="423.5">8</text>
<text x="291.2" y="423.5">12</text>
<text x="311.1" y="423.5">15</text>
<text x="330.9" y="423.5">16</text>
<text x="350.8" y="423.5">15</text>
<text x="370.6" y="423.5">14</text>
<text x="390.4" y="423.5">14</text>
<text x="410.3" y="423.5">14</text>
<text x="430.1" y="423.5">14</text>
<text x="450.0" y="423.5">11</text>
<text x="469.9" y="423.5">5</text>
<text x="489.7" y="423.5">1</text>
<text x="509.6" y="423.5">4</text>
<text x="529.4" y="423.5">5</text>
<text x="549.2" y="423.5">&#8722;6</text>
<text x="569.1" y="423.5">&#8722;8</text>
<text x="589.0" y="423.5">&#8722;5</text>
<text x="608.8" y="423.5">&#8722;5</text>
<text x="628.6" y="423.5">&#8722;4</text>
<text x="648.5" y="423.5">&#8722;11</text>
<text x="668.4" y="423.5">&#8722;17</text>
<text x="688.2" y="423.5">5</text>
<text x="708.0" y="423.5">12</text>
<text x="727.9" y="423.5">0</text>
<text x="747.8" y="423.5">&#8722;17</text>
<text x="767.6" y="423.5">&#8722;22</text>
<text x="787.5" y="423.5">&#8722;19</text>
<text x="807.3" y="423.5">&#8722;15</text>
<text x="827.1" y="423.5">&#8722;10</text>
<text x="847.0" y="423.5">&#8722;10</text>
<text x="53.0" y="448.0">17</text>
<text x="72.8" y="448.0">16</text>
<text x="92.7" y="448.0">16</text>
<text x="112.5" y="448.0">16</text>
<text x="132.4" y="448.0">18</text>
<text x="152.2" y="448.0">16</text>
<text x="172.1" y="448.0">&#8722;0</text>
<text x="191.9" y="448.0">&#8722;3</text>
<text x="211.8" y="448.0">5</text>
<text x="231.7" y="448.0">4</text>
<text x="251.5" y="448.0">4</text>
<text x="271.4" y="448.0">4</text>
<text x="291.2" y="448.0">6</text>
<text x="311.1" y="448.0">8</text>
<text x="330.9" y="448.0">14</text>
<text x="350.8" y="448.0">14</text>
<text x="370.6" y="448.0">9</text>
<text x="390.4" y="448.0">12</text>
<text x="410.3" y="448.0">13</text>
<text x="430.1" y="448.0">10</text>
<text x="450.0" y="448.0">7</text>
<text x="469.9" y="448.0">7</text>
<text x="489.7" y="448.0">5</text>
<text x="509.6" y="448.0">8</text>
<text x="529.4" y="448.0">3</text>
<text x="549.2" y="448.0">20</text>
<text x="569.1" y="448.0">5</text>
<text x="589.0" y="448.0">1</text>
<text x="608.8" y="448.0">8</text>
<text x="628.6" y="448.0">&#8722;11</text>
<text x="648.5" y="448.0">&#8722;8</text>
<text x="668.4" y="448.0">2</text>
<text x="688.2" y="448.0">5</text>
<text x="708.0" y="448.0">6</text>
<text x="727.9" y="448.0">13</text>
<text x="747.8" y="448.0">15</text>
<text x="767.6" y="448.0">&#8722;3</text>
<text x="787.5" y="448.0">&#8722;11</text>
<text x="807.3" y="448.0">&#8722;6</text>
<text x="827.1" y="448.0">&#8722;9</text>
<text x="847.0" y="448.0">&#8722;9</text>
<text x="53.0" y="472.5">17</text>
<text x="72.8" y="472.5">17</text>
<text x="92.7" y="472.5">17</text>
<text x="112.5" y="472.5">18</text>
<text x="132.4" y="472.5">15</text>
<text x="152.2" y="472.5">7</text>
<text x="172.1" y="472.5">0</text>
<text x="191.9" y="472.5">&#8722;2</text>
<text x="211.8" y="472.5">1</text>
<text x="231.7" y="472.5">3</text>
<text x="251.5" y="472.5">7</text>
<text x="271.4" y="472.5">7</text>
<text x="291.2" y="472.5">3</text>
<text x="311.1" y="472.5">7</text>
<text x="330.9" y="472.5">7</text>
<text x="350.8" y="472.5">7</text>
<text x="370.6" y="472.5">7</text>
<text x="390.4" y="472.5">6</text>
<text x="410.3" y="472.5">6</text>
<text x="430.1" y="472.5">7</text>
<text x="450.0" y="472.5">21</text>
<text x="469.9" y="472.5">2</text>
<text x="489.7" y="472.5">2</text>
<text x="509.6" y="472.5">&#8722;2</text>
<text x="529.4" y="472.5">1</text>
<text x="549.2" y="472.5">20</text>
<text x="569.1" y="472.5">22</text>
<text x="589.0" y="472.5">20</text>
<text x="608.8" y="472.5">21</text>
<text x="628.6" y="472.5">19</text>
<text x="648.5" y="472.5">18</text>
<text x="668.4" y="472.5">15</text>
<text x="688.2" y="472.5">8</text>
<text x="708.0" y="472.5">6</text>
<text x="727.9" y="472.5">11</text>
<text x="747.8" y="472.5">12</text>
<text x="767.6" y="472.5">12</text>
<text x="787.5" y="472.5">14</text>
<text x="807.3" y="472.5">17</text>
<text x="827.1" y="472.5">19</text>
<text x="847.0" y="472.5">18</text>
<text x="53.0" y="497.1">16</text>
<text x="72.8" y="497.1">16</text>
<text x="92.7" y="497.1">18</text>
<text x="112.5" y="497.1">15</text>
<text x="132.4" y="497.1">6</text>
<text x="152.2" y="497.1">3</text>
<text x="172.1" y="497.1">2</text>
<text x="191.9" y="497.1">&#8722;1</text>
<text x="211.8" y="497.1">2</text>
<text x="231.7" y="497.1">2</text>
<text x="251.5" y="497.1">3</text>
<text x="271.4" y="497.1">1</text>
<text x="291.2" y="497.1">1</text>
<text x="311.1" y="497.1">1</text>
<text x="330.9" y="497.1">5</text>
<text x="350.8" y="497.1">5</text>
<text x="370.6" y="497.1">5</text>
<text x="390.4" y="497.1">2</text>
<text x="410.3" y="497.1">6</text>
<text x="430.1" y="497.1">6</text>
<text x="450.0" y="497.1">19</text>
<text x="469.9" y="497.1">22</text>
<text x="489.7" y="497.1">4</text>
<text x="509.6" y="497.1">&#8722;3</text>
<text x="529.4" y="497.1">1</text>
<text x="549.2" y="497.1">16</text>
<text x="569.1" y="497.1">16</text>
<text x="589.0" y="497.1">13</text>
<text x="608.8" y="497.1">15</text>
<text x="628.6" y="497.1">18</text>
<text x="648.5" y="497.1">16</text>
<text x="668.4" y="497.1">21</text>
<text x="688.2" y="497.1">12</text>
<text x="708.0" y="497.1">12</text>
<text x="727.9" y="497.1">12</text>
<text x="747.8" y="497.1">15</text>
<text x="767.6" y="497.1">17</text>
<text x="787.5" y="497.1">13</text>
<text x="807.3" y="497.1">18</text>
<text x="827.1" y="497.1">22</text>
<text x="847.0" y="497.1">22</text>
<text x="53.0" y="521.6">19</text>
<text x="72.8" y="521.6">19</text>
<text x="92.7" y="521.6">19</text>
<text x="112.5" y="521.6">12</text>
<text x="132.4" y="521.6">5</text>
<text x="152.2" y="521.6">3</text>
<text x="172.1" y="521.6">1</text>
<text x="191.9" y="521.6">1</text>
<text x="211.8" y="521.6">2</text>
<text x="231.7" y="521.6">1</text>
<text x="251.5" y="521.6">0</text>
<text x="271.4" y="521.6">&#8722;2</text>
<text x="291.2" y="521.6">0</text>
<text x="311.1" y="521.6">&#8722;2</text>
<text x="330.9" y="521.6">2</text>
<text x="350.8" y="521.6">3</text>
<text x="370.6" y="521.6">1</text>
<text x="390.4" y="521.6">5</text>
<text x="410.3" y="521.6">4</text>
<text x="430.1" y="521.6">5</text>
<text x="450.0" y="521.6">14</text>
<text x="469.9" y="521.6">23</text>
<text x="489.7" y="521.6">17</text>
<text x="509.6" y="521.6">&#8722;3</text>
<text x="529.4" y="521.6">&#8722;5</text>
<text x="549.2" y="521.6">4</text>
<text x="569.1" y="521.6">12</text>
<text x="589.0" y="521.6">18</text>
<text x="608.8" y="521.6">21</text>
<text x="628.6" y="521.6">20</text>
<text x="648.5" y="521.6">19</text>
<text x="668.4" y="521.6">20</text>
<text x="688.2" y="521.6">21</text>
<text x="708.0" y="521.6">12</text>
<text x="727.9" y="521.6">15</text>
<text x="747.8" y="521.6">20</text>
<text x="767.6" y="521.6">20</text>
<text x="787.5" y="521.6">22</text>
<text x="807.3" y="521.6">23</text>
<text x="827.1" y="521.6">22</text>
<text x="847.0" y="521.6">22</text>
<text x="53.0" y="546.1">20</text>
<text x="72.8" y="546.1">21</text>
<text x="92.7" y="546.1">21</text>
<text x="112.5" y="546.1">20</text>
<text x="132.4" y="546.1">12</text>
<text x="152.2" y="546.1">7</text>
<text x="172.1" y="546.1">2</text>
<text x="191.9" y="546.1">12</text>
<text x="211.8" y="546.1">5</text>
<text x="231.7" y="546.1">2</text>
<text x="251.5" y="546.1">2</text>
<text x="271.4" y="546.1">&#8722;1</text>
<text x="291.2" y="546.1">&#8722;3</text>
<text x="311.1" y="546.1">0</text>
<text x="330.9" y="546.1">0</text>
<text x="350.8" y="546.1">&#8722;1</text>
<text x="370.6" y="546.1">1</text>
<text x="390.4" y="546.1">3</text>
<text x="410.3" y="546.1">3</text>
<text x="430.1" y="546.1">4</text>
<text x="450.0" y="546.1">17</text>
<text x="469.9" y="546.1">12</text>
<text x="489.7" y="546.1">24</text>
<text x="509.6" y="546.1">&#8722;7</text>
<text x="529.4" y="546.1">&#8722;2</text>
<text x="549.2" y="546.1">13</text>
<text x="569.1" y="546.1">12</text>
<text x="589.0" y="546.1">22</text>
<text x="608.8" y="546.1">21</text>
<text x="628.6" y="546.1">21</text>
<text x="648.5" y="546.1">20</text>
<text x="668.4" y="546.1">20</text>
<text x="688.2" y="546.1">23</text>
<text x="708.0" y="546.1">15</text>
<text x="727.9" y="546.1">19</text>
<text x="747.8" y="546.1">22</text>
<text x="767.6" y="546.1">24</text>
<text x="787.5" y="546.1">24</text>
<text x="807.3" y="546.1">24</text>
<text x="827.1" y="546.1">24</text>
<text x="847.0" y="546.1">24</text>
<text x="53.0" y="570.6">22</text>
<text x="72.8" y="570.6">22</text>
<text x="92.7" y="570.6">23</text>
<text x="112.5" y="570.6">23</text>
<text x="132.4" y="570.6">22</text>
<text x="152.2" y="570.6">19</text>
<text x="172.1" y="570.6">16</text>
<text x="191.9" y="570.6">13</text>
<text x="211.8" y="570.6">14</text>
<text x="231.7" y="570.6">11</text>
<text x="251.5" y="570.6">6</text>
<text x="271.4" y="570.6">2</text>
<text x="291.2" y="570.6">1</text>
<text x="311.1" y="570.6">17</text>
<text x="330.9" y="570.6">2</text>
<text x="350.8" y="570.6">3</text>
<text x="370.6" y="570.6">3</text>
<text x="390.4" y="570.6">4</text>
<text x="410.3" y="570.6">4</text>
<text x="430.1" y="570.6">18</text>
<text x="450.0" y="570.6">19</text>
<text x="469.9" y="570.6">12</text>
<text x="489.7" y="570.6">15</text>
<text x="509.6" y="570.6">12</text>
<text x="529.4" y="570.6">18</text>
<text x="549.2" y="570.6">22</text>
<text x="569.1" y="570.6">23</text>
<text x="589.0" y="570.6">23</text>
<text x="608.8" y="570.6">21</text>
<text x="628.6" y="570.6">22</text>
<text x="648.5" y="570.6">22</text>
<text x="668.4" y="570.6">22</text>
<text x="688.2" y="570.6">23</text>
<text x="708.0" y="570.6">23</text>
<text x="727.9" y="570.6">20</text>
<text x="747.8" y="570.6">23</text>
<text x="767.6" y="570.6">23</text>
<text x="787.5" y="570.6">23</text>
<text x="807.3" y="570.6">24</text>
<text x="827.1" y="570.6">24</text>
<text x="847.0" y="570.6">24</text>
<text x="53.0" y="595.2">23</text>
<text x="72.8" y="595.2">23</text>
<text x="92.7" y="595.2">23</text>
<text x="112.5" y="595.2">23</text>
<text x="132.4" y="595.2">20</text>
<text x="152.2" y="595.2">20</text>
<text x="172.1" y="595.2">20</text>
<text x="191.9" y="595.2">20</text>
<text x="211.8" y="595.2">20</text>
<text x="231.7" y="595.2">20</text>
<text x="251.5" y="595.2">21</text>
<text x="271.4" y="595.2">12</text>
<text x="291.2" y="595.2">17</text>
<text x="311.1" y="595.2">17</text>
<text x="330.9" y="595.2">20</text>
<text x="350.8" y="595.2">21</text>
<text x="370.6" y="595.2">12</text>
<text x="390.4" y="595.2">18</text>
<text x="410.3" y="595.2">18</text>
<text x="430.1" y="595.2">21</text>
<text x="450.0" y="595.2">19</text>
<text x="469.9" y="595.2">7</text>
<text x="489.7" y="595.2">13</text>
<text x="509.6" y="595.2">23</text>
<text x="529.4" y="595.2">22</text>
<text x="549.2" y="595.2">11</text>
<text x="569.1" y="595.2">22</text>
<text x="589.0" y="595.2">22</text>
<text x="608.8" y="595.2">23</text>
<text x="628.6" y="595.2">21</text>
<text x="648.5" y="595.2">22</text>
<text x="668.4" y="595.2">23</text>
<text x="688.2" y="595.2">23</text>
<text x="708.0" y="595.2">23</text>
<text x="727.9" y="595.2">22</text>
<text x="747.8" y="595.2">23</text>
<text x="767.6" y="595.2">23</text>
<text x="787.5" y="595.2">23</text>
<text x="807.3" y="595.2">23</text>
<text x="827.1" y="595.2">23</text>
<text x="847.0" y="595.2">23</text>
<text x="53.0" y="619.7">23</text>
<text x="72.8" y="619.7">22</text>
<text x="92.7" y="619.7">22</text>
<text x="112.5" y="619.7">23</text>
<text x="132.4" y="619.7">23</text>
<text x="152.2" y="619.7">19</text>
<text x="172.1" y="619.7">21</text>
<text x="191.9" y="619.7">21</text>
<text x="211.8" y="619.7">22</text>
<text x="231.7" y="619.7">22</text>
<text x="251.5" y="619.7">20</text>
<text x="271.4" y="619.7">22</text>
<text x="291.2" y="619.7">22</text>
<text x="311.1" y="619.7">17</text>
<text x="330.9" y="619.7">20</text>
<text x="350.8" y="619.7">21</text>
<text x="370.6" y="619.7">19</text>
<text x="390.4" y="619.7">19</text>
<text x="410.3" y="619.7">20</text>
<text x="430.1" y="619.7">20</text>
<text x="450.0" y="619.7">14</text>
<text x="469.9" y="619.7">8</text>
<text x="489.7" y="619.7">15</text>
<text x="509.6" y="619.7">17</text>
<text x="529.4" y="619.7">18</text>
<text x="549.2" y="619.7">23</text>
<text x="569.1" y="619.7">22</text>
<text x="589.0" y="619.7">22</text>
<text x="608.8" y="619.7">22</text>
<text x="628.6" y="619.7">22</text>
<text x="648.5" y="619.7">23</text>
<text x="668.4" y="619.7">23</text>
<text x="688.2" y="619.7">23</text>
<text x="708.0" y="619.7">24</text>
<text x="727.9" y="619.7">24</text>
<text x="747.8" y="619.7">23</text>
<text x="767.6" y="619.7">24</text>
<text x="787.5" y="619.7">23</text>
<text x="807.3" y="619.7">23</text>
<text x="827.1" y="619.7">23</text>
<text x="847.0" y="619.7">23</text>
<text x="53.0" y="644.2">21</text>
<text x="72.8" y="644.2">21</text>
<text x="92.7" y="644.2">22</text>
<text x="112.5" y="644.2">22</text>
<text x="132.4" y="644.2">22</text>
<text x="152.2" y="644.2">22</text>
<text x="172.1" y="644.2">22</text>
<text x="191.9" y="644.2">23</text>
<text x="211.8" y="644.2">23</text>
<text x="231.7" y="644.2">23</text>
<text x="251.5" y="644.2">23</text>
<text x="271.4" y="644.2">23</text>
<text x="291.2" y="644.2">19</text>
<text x="311.1" y="644.2">19</text>
<text x="330.9" y="644.2">19</text>
<text x="350.8" y="644.2">20</text>
<text x="370.6" y="644.2">19</text>
<text x="390.4" y="644.2">20</text>
<text x="410.3" y="644.2">19</text>
<text x="430.1" y="644.2">15</text>
<text x="450.0" y="644.2">17</text>
<text x="469.9" y="644.2">13</text>
<text x="489.7" y="644.2">13</text>
<text x="509.6" y="644.2">18</text>
<text x="529.4" y="644.2">20</text>
<text x="549.2" y="644.2">23</text>
<text x="569.1" y="644.2">23</text>
<text x="589.0" y="644.2">21</text>
<text x="608.8" y="644.2">22</text>
<text x="628.6" y="644.2">22</text>
<text x="648.5" y="644.2">21</text>
<text x="668.4" y="644.2">22</text>
<text x="688.2" y="644.2">23</text>
<text x="708.0" y="644.2">23</text>
<text x="727.9" y="644.2">24</text>
<text x="747.8" y="644.2">24</text>
<text x="767.6" y="644.2">23</text>
<text x="787.5" y="644.2">22</text>
<text x="807.3" y="644.2">23</text>
<text x="827.1" y="644.2">23</text>
<text x="847.0" y="644.2">23</text>
<text x="53.0" y="668.8">22</text>
<text x="72.8" y="668.8">22</text>
<text x="92.7" y="668.8">22</text>
<text x="112.5" y="668.8">22</text>
<text x="132.4" y="668.8">22</text>
<text x="152.2" y="668.8">22</text>
<text x="172.1" y="668.8">22</text>
<text x="191.9" y="668.8">22</text>
<text x="211.8" y="668.8">23</text>
<text x="231.7" y="668.8">22</text>
<text x="251.5" y="668.8">23</text>
<text x="271.4" y="668.8">23</text>
<text x="291.2" y="668.8">19</text>
<text x="311.1" y="668.8">20</text>
<text x="330.9" y="668.8">19</text>
<text x="350.8" y="668.8">20</text>
<text x="370.6" y="668.8">20</text>
<text x="390.4" y="668.8">20</text>
<text x="410.3" y="668.8">16</text>
<text x="430.1" y="668.8">16</text>
<text x="450.0" y="668.8">8</text>
<text x="469.9" y="668.8">16</text>
<text x="489.7" y="668.8">19</text>
<text x="509.6" y="668.8">21</text>
<text x="529.4" y="668.8">23</text>
<text x="549.2" y="668.8">21</text>
<text x="569.1" y="668.8">21</text>
<text x="589.0" y="668.8">21</text>
<text x="608.8" y="668.8">22</text>
<text x="628.6" y="668.8">23</text>
<text x="648.5" y="668.8">23</text>
<text x="668.4" y="668.8">23</text>
<text x="688.2" y="668.8">22</text>
<text x="708.0" y="668.8">23</text>
<text x="727.9" y="668.8">23</text>
<text x="747.8" y="668.8">24</text>
<text x="767.6" y="668.8">24</text>
<text x="787.5" y="668.8">23</text>
<text x="807.3" y="668.8">23</text>
<text x="827.1" y="668.8">23</text>
<text x="847.0" y="668.8">23</text>
<text x="53.0" y="693.3">21</text>
<text x="72.8" y="693.3">21</text>
<text x="92.7" y="693.3">20</text>
<text x="112.5" y="693.3">20</text>
<text x="132.4" y="693.3">20</text>
<text x="152.2" y="693.3">20</text>
<text x="172.1" y="693.3">20</text>
<text x="191.9" y="693.3">21</text>
<text x="211.8" y="693.3">21</text>
<text x="231.7" y="693.3">22</text>
<text x="251.5" y="693.3">22</text>
<text x="271.4" y="693.3">23</text>
<text x="291.2" y="693.3">20</text>
<text x="311.1" y="693.3">20</text>
<text x="330.9" y="693.3">21</text>
<text x="350.8" y="693.3">22</text>
<text x="370.6" y="693.3">20</text>
<text x="390.4" y="693.3">20</text>
<text x="410.3" y="693.3">13</text>
<text x="430.1" y="693.3">19</text>
<text x="450.0" y="693.3">7</text>
<text x="469.9" y="693.3">16</text>
<text x="489.7" y="693.3">22</text>
<text x="509.6" y="693.3">23</text>
<text x="529.4" y="693.3">22</text>
<text x="549.2" y="693.3">23</text>
<text x="569.1" y="693.3">22</text>
<text x="589.0" y="693.3">21</text>
<text x="608.8" y="693.3">21</text>
<text x="628.6" y="693.3">22</text>
<text x="648.5" y="693.3">22</text>
<text x="668.4" y="693.3">22</text>
<text x="688.2" y="693.3">22</text>
<text x="708.0" y="693.3">23</text>
<text x="727.9" y="693.3">23</text>
<text x="747.8" y="693.3">24</text>
<text x="767.6" y="693.3">23</text>
<text x="787.5" y="693.3">23</text>
<text x="807.3" y="693.3">23</text>
<text x="827.1" y="693.3">23</text>
<text x="847.0" y="693.3">23</text>
<text x="53.0" y="717.8">20</text>
<text x="72.8" y="717.8">20</text>
<text x="92.7" y="717.8">20</text>
<text x="112.5" y="717.8">19</text>
<text x="132.4" y="717.8">20</text>
<text x="152.2" y="717.8">19</text>
<text x="172.1" y="717.8">19</text>
<text x="191.9" y="717.8">19</text>
<text x="211.8" y="717.8">20</text>
<text x="231.7" y="717.8">20</text>
<text x="251.5" y="717.8">21</text>
<text x="271.4" y="717.8">22</text>
<text x="291.2" y="717.8">23</text>
<text x="311.1" y="717.8">21</text>
<text x="330.9" y="717.8">21</text>
<text x="350.8" y="717.8">20</text>
<text x="370.6" y="717.8">19</text>
<text x="390.4" y="717.8">17</text>
<text x="410.3" y="717.8">8</text>
<text x="430.1" y="717.8">9</text>
<text x="450.0" y="717.8">11</text>
<text x="469.9" y="717.8">16</text>
<text x="489.7" y="717.8">22</text>
<text x="509.6" y="717.8">23</text>
<text x="529.4" y="717.8">23</text>
<text x="549.2" y="717.8">23</text>
<text x="569.1" y="717.8">22</text>
<text x="589.0" y="717.8">22</text>
<text x="608.8" y="717.8">22</text>
<text x="628.6" y="717.8">22</text>
<text x="648.5" y="717.8">23</text>
<text x="668.4" y="717.8">23</text>
<text x="688.2" y="717.8">22</text>
<text x="708.0" y="717.8">22</text>
<text x="727.9" y="717.8">23</text>
<text x="747.8" y="717.8">23</text>
<text x="767.6" y="717.8">23</text>
<text x="787.5" y="717.8">24</text>
<text x="807.3" y="717.8">24</text>
<text x="827.1" y="717.8">23</text>
<text x="847.0" y="717.8">23</text>
<text x="53.0" y="742.3">20</text>
<text x="72.8" y="742.3">19</text>
<text x="92.7" y="742.3">20</text>
<text x="112.5" y="742.3">19</text>
<text x="132.4" y="742.3">18</text>
<text x="152.2" y="742.3">18</text>
<text x="172.1" y="742.3">18</text>
<text x="191.9" y="742.3">17</text>
<text x="211.8" y="742.3">17</text>
<text x="231.7" y="742.3">17</text>
<text x="251.5" y="742.3">18</text>
<text x="271.4" y="742.3">19</text>
<text x="291.2" y="742.3">21</text>
<text x="311.1" y="742.3">19</text>
<text x="330.9" y="742.3">19</text>
<text x="350.8" y="742.3">18</text>
<text x="370.6" y="742.3">16</text>
<text x="390.4" y="742.3">15</text>
<text x="410.3" y="742.3">5</text>
<text x="430.1" y="742.3">5</text>
<text x="450.0" y="742.3">10</text>
<text x="469.9" y="742.3">19</text>
<text x="489.7" y="742.3">22</text>
<text x="509.6" y="742.3">22</text>
<text x="529.4" y="742.3">22</text>
<text x="549.2" y="742.3">22</text>
<text x="569.1" y="742.3">23</text>
<text x="589.0" y="742.3">23</text>
<text x="608.8" y="742.3">23</text>
<text x="628.6" y="742.3">23</text>
<text x="648.5" y="742.3">22</text>
<text x="668.4" y="742.3">23</text>
<text x="688.2" y="742.3">23</text>
<text x="708.0" y="742.3">22</text>
<text x="727.9" y="742.3">23</text>
<text x="747.8" y="742.3">24</text>
<text x="767.6" y="742.3">24</text>
<text x="787.5" y="742.3">24</text>
<text x="807.3" y="742.3">24</text>
<text x="827.1" y="742.3">24</text>
<text x="847.0" y="742.3">24</text>
<text x="53.0" y="766.9">20</text>
<text x="72.8" y="766.9">19</text>
<text x="92.7" y="766.9">19</text>
<text x="112.5" y="766.9">18</text>
<text x="132.4" y="766.9">18</text>
<text x="152.2" y="766.9">18</text>
<text x="172.1" y="766.9">17</text>
<text x="191.9" y="766.9">17</text>
<text x="211.8" y="766.9">16</text>
<text x="231.7" y="766.9">16</text>
<text x="251.5" y="766.9">16</text>
<text x="271.4" y="766.9">16</text>
<text x="291.2" y="766.9">19</text>
<text x="311.1" y="766.9">19</text>
<text x="330.9" y="766.9">18</text>
<text x="350.8" y="766.9">16</text>
<text x="370.6" y="766.9">17</text>
<text x="390.4" y="766.9">10</text>
<text x="410.3" y="766.9">5</text>
<text x="430.1" y="766.9">5</text>
<text x="450.0" y="766.9">7</text>
<text x="469.9" y="766.9">17</text>
<text x="489.7" y="766.9">21</text>
<text x="509.6" y="766.9">21</text>
<text x="529.4" y="766.9">22</text>
<text x="549.2" y="766.9">22</text>
<text x="569.1" y="766.9">22</text>
<text x="589.0" y="766.9">23</text>
<text x="608.8" y="766.9">23</text>
<text x="628.6" y="766.9">23</text>
<text x="648.5" y="766.9">23</text>
<text x="668.4" y="766.9">23</text>
<text x="688.2" y="766.9">23</text>
<text x="708.0" y="766.9">22</text>
<text x="727.9" y="766.9">21</text>
<text x="747.8" y="766.9">23</text>
<text x="767.6" y="766.9">23</text>
<text x="787.5" y="766.9">23</text>
<text x="807.3" y="766.9">24</text>
<text x="827.1" y="766.9">24</text>
<text x="847.0" y="766.9">24</text>
<text x="53.0" y="791.4">19</text>
<text x="72.8" y="791.4">18</text>
<text x="92.7" y="791.4">17</text>
<text x="112.5" y="791.4">16</text>
<text x="132.4" y="791.4">16</text>
<text x="152.2" y="791.4">15</text>
<text x="172.1" y="791.4">16</text>
<text x="191.9" y="791.4">15</text>
<text x="211.8" y="791.4">15</text>
<text x="231.7" y="791.4">15</text>
<text x="251.5" y="791.4">15</text>
<text x="271.4" y="791.4">15</text>
<text x="291.2" y="791.4">16</text>
<text x="311.1" y="791.4">15</text>
<text x="330.9" y="791.4">14</text>
<text x="350.8" y="791.4">14</text>
<text x="370.6" y="791.4">14</text>
<text x="390.4" y="791.4">9</text>
<text x="410.3" y="791.4">6</text>
<text x="430.1" y="791.4">8</text>
<text x="450.0" y="791.4">6</text>
<text x="469.9" y="791.4">15</text>
<text x="489.7" y="791.4">21</text>
<text x="509.6" y="791.4">21</text>
<text x="529.4" y="791.4">19</text>
<text x="549.2" y="791.4">19</text>
<text x="569.1" y="791.4">21</text>
<text x="589.0" y="791.4">22</text>
<text x="608.8" y="791.4">23</text>
<text x="628.6" y="791.4">23</text>
<text x="648.5" y="791.4">22</text>
<text x="668.4" y="791.4">22</text>
<text x="688.2" y="791.4">20</text>
<text x="708.0" y="791.4">20</text>
<text x="727.9" y="791.4">21</text>
<text x="747.8" y="791.4">21</text>
<text x="767.6" y="791.4">23</text>
<text x="787.5" y="791.4">23</text>
<text x="807.3" y="791.4">23</text>
<text x="827.1" y="791.4">23</text>
<text x="847.0" y="791.4">23</text>
<text x="53.0" y="815.9">17</text>
<text x="72.8" y="815.9">15</text>
<text x="92.7" y="815.9">17</text>
<text x="112.5" y="815.9">17</text>
<text x="132.4" y="815.9">15</text>
<text x="152.2" y="815.9">14</text>
<text x="172.1" y="815.9">14</text>
<text x="191.9" y="815.9">14</text>
<text x="211.8" y="815.9">14</text>
<text x="231.7" y="815.9">14</text>
<text x="251.5" y="815.9">15</text>
<text x="271.4" y="815.9">15</text>
<text x="291.2" y="815.9">15</text>
<text x="311.1" y="815.9">6</text>
<text x="330.9" y="815.9">11</text>
<text x="350.8" y="815.9">12</text>
<text x="370.6" y="815.9">8</text>
<text x="390.4" y="815.9">7</text>
<text x="410.3" y="815.9">8</text>
<text x="430.1" y="815.9">17</text>
<text x="450.0" y="815.9">12</text>
<text x="469.9" y="815.9">17</text>
<text x="489.7" y="815.9">21</text>
<text x="509.6" y="815.9">22</text>
<text x="529.4" y="815.9">14</text>
<text x="549.2" y="815.9">17</text>
<text x="569.1" y="815.9">17</text>
<text x="589.0" y="815.9">18</text>
<text x="608.8" y="815.9">20</text>
<text x="628.6" y="815.9">20</text>
<text x="648.5" y="815.9">20</text>
<text x="668.4" y="815.9">20</text>
<text x="688.2" y="815.9">19</text>
<text x="708.0" y="815.9">17</text>
<text x="727.9" y="815.9">20</text>
<text x="747.8" y="815.9">21</text>
<text x="767.6" y="815.9">20</text>
<text x="787.5" y="815.9">21</text>
<text x="807.3" y="815.9">21</text>
<text x="827.1" y="815.9">20</text>
<text x="847.0" y="815.9">20</text>
<text x="53.0" y="840.4">17</text>
<text x="72.8" y="840.4">17</text>
<text x="92.7" y="840.4">16</text>
<text x="112.5" y="840.4">16</text>
<text x="132.4" y="840.4">16</text>
<text x="152.2" y="840.4">15</text>
<text x="172.1" y="840.4">14</text>
<text x="191.9" y="840.4">15</text>
<text x="211.8" y="840.4">13</text>
<text x="231.7" y="840.4">13</text>
<text x="251.5" y="840.4">13</text>
<text x="271.4" y="840.4">14</text>
<text x="291.2" y="840.4">14</text>
<text x="311.1" y="840.4">&#8722;0</text>
<text x="330.9" y="840.4">&#8722;4</text>
<text x="350.8" y="840.4">9</text>
<text x="370.6" y="840.4">8</text>
<text x="390.4" y="840.4">8</text>
<text x="410.3" y="840.4">5</text>
<text x="430.1" y="840.4">17</text>
<text x="450.0" y="840.4">20</text>
<text x="469.9" y="840.4">23</text>
<text x="489.7" y="840.4">22</text>
<text x="509.6" y="840.4">21</text>
<text x="529.4" y="840.4">8</text>
<text x="549.2" y="840.4">17</text>
<text x="569.1" y="840.4">17</text>
<text x="589.0" y="840.4">18</text>
<text x="608.8" y="840.4">16</text>
<text x="628.6" y="840.4">16</text>
<text x="648.5" y="840.4">16</text>
<text x="668.4" y="840.4">18</text>
<text x="688.2" y="840.4">17</text>
<text x="708.0" y="840.4">16</text>
<text x="727.9" y="840.4">18</text>
<text x="747.8" y="840.4">19</text>
<text x="767.6" y="840.4">16</text>
<text x="787.5" y="840.4">17</text>
<text x="807.3" y="840.4">19</text>
<text x="827.1" y="840.4">19</text>
<text x="847.0" y="840.4">19</text>
<text x="53.0" y="865.0">16</text>
<text x="72.8" y="865.0">17</text>
<text x="92.7" y="865.0">16</text>
<text x="112.5" y="865.0">16</text>
<text x="132.4" y="865.0">17</text>
<text x="152.2" y="865.0">16</text>
<text x="172.1" y="865.0">16</text>
<text x="191.9" y="865.0">15</text>
<text x="211.8" y="865.0">15</text>
<text x="231.7" y="865.0">14</text>
<text x="251.5" y="865.0">13</text>
<text x="271.4" y="865.0">13</text>
<text x="291.2" y="865.0">13</text>
<text x="311.1" y="865.0">13</text>
<text x="330.9" y="865.0">&#8722;5</text>
<text x="350.8" y="865.0">2</text>
<text x="370.6" y="865.0">5</text>
<text x="390.4" y="865.0">4</text>
<text x="410.3" y="865.0">7</text>
<text x="430.1" y="865.0">17</text>
<text x="450.0" y="865.0">21</text>
<text x="469.9" y="865.0">21</text>
<text x="489.7" y="865.0">20</text>
<text x="509.6" y="865.0">11</text>
<text x="529.4" y="865.0">12</text>
<text x="549.2" y="865.0">17</text>
<text x="569.1" y="865.0">17</text>
<text x="589.0" y="865.0">17</text>
<text x="608.8" y="865.0">17</text>
<text x="628.6" y="865.0">17</text>
<text x="648.5" y="865.0">15</text>
<text x="668.4" y="865.0">16</text>
<text x="688.2" y="865.0">14</text>
<text x="708.0" y="865.0">15</text>
<text x="727.9" y="865.0">16</text>
<text x="747.8" y="865.0">16</text>
<text x="767.6" y="865.0">18</text>
<text x="787.5" y="865.0">15</text>
<text x="807.3" y="865.0">15</text>
<text x="827.1" y="865.0">16</text>
<text x="847.0" y="865.0">16</text>
<text x="53.0" y="889.5">16</text>
<text x="72.8" y="889.5">15</text>
<text x="92.7" y="889.5">16</text>
<text x="112.5" y="889.5">16</text>
<text x="132.4" y="889.5">15</text>
<text x="152.2" y="889.5">15</text>
<text x="172.1" y="889.5">15</text>
<text x="191.9" y="889.5">15</text>
<text x="211.8" y="889.5">15</text>
<text x="231.7" y="889.5">14</text>
<text x="251.5" y="889.5">13</text>
<text x="271.4" y="889.5">12</text>
<text x="291.2" y="889.5">13</text>
<text x="311.1" y="889.5">12</text>
<text x="330.9" y="889.5">&#8722;4</text>
<text x="350.8" y="889.5">&#8722;3</text>
<text x="370.6" y="889.5">0</text>
<text x="390.4" y="889.5">3</text>
<text x="410.3" y="889.5">6</text>
<text x="430.1" y="889.5">16</text>
<text x="450.0" y="889.5">21</text>
<text x="469.9" y="889.5">19</text>
<text x="489.7" y="889.5">19</text>
<text x="509.6" y="889.5">21</text>
<text x="529.4" y="889.5">19</text>
<text x="549.2" y="889.5">19</text>
<text x="569.1" y="889.5">18</text>
<text x="589.0" y="889.5">16</text>
<text x="608.8" y="889.5">15</text>
<text x="628.6" y="889.5">14</text>
<text x="648.5" y="889.5">13</text>
<text x="668.4" y="889.5">13</text>
<text x="688.2" y="889.5">13</text>
<text x="708.0" y="889.5">14</text>
<text x="727.9" y="889.5">13</text>
<text x="747.8" y="889.5">14</text>
<text x="767.6" y="889.5">15</text>
<text x="787.5" y="889.5">15</text>
<text x="807.3" y="889.5">16</text>
<text x="827.1" y="889.5">14</text>
<text x="847.0" y="889.5">14</text>
<text x="53.0" y="914.0">13</text>
<text x="72.8" y="914.0">13</text>
<text x="92.7" y="914.0">11</text>
<text x="112.5" y="914.0">13</text>
<text x="132.4" y="914.0">14</text>
<text x="152.2" y="914.0">13</text>
<text x="172.1" y="914.0">13</text>
<text x="191.9" y="914.0">11</text>
<text x="211.8" y="914.0">11</text>
<text x="231.7" y="914.0">14</text>
<text x="251.5" y="914.0">14</text>
<text x="271.4" y="914.0">13</text>
<text x="291.2" y="914.0">12</text>
<text x="311.1" y="914.0">11</text>
<text x="330.9" y="914.0">9</text>
<text x="350.8" y="914.0">&#8722;3</text>
<text x="370.6" y="914.0">&#8722;0</text>
<text x="390.4" y="914.0">&#8722;2</text>
<text x="410.3" y="914.0">2</text>
<text x="430.1" y="914.0">17</text>
<text x="450.0" y="914.0">20</text>
<text x="469.9" y="914.0">20</text>
<text x="489.7" y="914.0">19</text>
<text x="509.6" y="914.0">20</text>
<text x="529.4" y="914.0">20</text>
<text x="549.2" y="914.0">20</text>
<text x="569.1" y="914.0">19</text>
<text x="589.0" y="914.0">18</text>
<text x="608.8" y="914.0">17</text>
<text x="628.6" y="914.0">15</text>
<text x="648.5" y="914.0">15</text>
<text x="668.4" y="914.0">14</text>
<text x="688.2" y="914.0">15</text>
<text x="708.0" y="914.0">12</text>
<text x="727.9" y="914.0">11</text>
<text x="747.8" y="914.0">12</text>
<text x="767.6" y="914.0">13</text>
<text x="787.5" y="914.0">11</text>
<text x="807.3" y="914.0">14</text>
<text x="827.1" y="914.0">15</text>
<text x="847.0" y="914.0">15</text>
<text x="53.0" y="938.5">10</text>
<text x="72.8" y="938.5">10</text>
<text x="92.7" y="938.5">10</text>
<text x="112.5" y="938.5">10</text>
<text x="132.4" y="938.5">10</text>
<text x="152.2" y="938.5">11</text>
<text x="172.1" y="938.5">10</text>
<text x="191.9" y="938.5">12</text>
<text x="211.8" y="938.5">9</text>
<text x="231.7" y="938.5">10</text>
<text x="251.5" y="938.5">12</text>
<text x="271.4" y="938.5">13</text>
<text x="291.2" y="938.5">12</text>
<text x="311.1" y="938.5">12</text>
<text x="330.9" y="938.5">13</text>
<text x="350.8" y="938.5">9</text>
<text x="370.6" y="938.5">5</text>
<text x="390.4" y="938.5">4</text>
<text x="410.3" y="938.5">14</text>
<text x="430.1" y="938.5">21</text>
<text x="450.0" y="938.5">20</text>
<text x="469.9" y="938.5">19</text>
<text x="489.7" y="938.5">19</text>
<text x="509.6" y="938.5">17</text>
<text x="529.4" y="938.5">16</text>
<text x="549.2" y="938.5">16</text>
<text x="569.1" y="938.5">14</text>
<text x="589.0" y="938.5">13</text>
<text x="608.8" y="938.5">12</text>
<text x="628.6" y="938.5">12</text>
<text x="648.5" y="938.5">13</text>
<text x="668.4" y="938.5">15</text>
<text x="688.2" y="938.5">14</text>
<text x="708.0" y="938.5">14</text>
<text x="727.9" y="938.5">14</text>
<text x="747.8" y="938.5">14</text>
<text x="767.6" y="938.5">14</text>
<text x="787.5" y="938.5">13</text>
<text x="807.3" y="938.5">13</text>
<text x="827.1" y="938.5">14</text>
<text x="847.0" y="938.5">14</text>
<text x="53.0" y="963.1">10</text>
<text x="72.8" y="963.1">11</text>
<text x="92.7" y="963.1">11</text>
<text x="112.5" y="963.1">10</text>
<text x="132.4" y="963.1">11</text>
<text x="152.2" y="963.1">11</text>
<text x="172.1" y="963.1">9</text>
<text x="191.9" y="963.1">9</text>
<text x="211.8" y="963.1">9</text>
<text x="231.7" y="963.1">8</text>
<text x="251.5" y="963.1">7</text>
<text x="271.4" y="963.1">8</text>
<text x="291.2" y="963.1">11</text>
<text x="311.1" y="963.1">11</text>
<text x="330.9" y="963.1">13</text>
<text x="350.8" y="963.1">12</text>
<text x="370.6" y="963.1">13</text>
<text x="390.4" y="963.1">19</text>
<text x="410.3" y="963.1">20</text>
<text x="430.1" y="963.1">19</text>
<text x="450.0" y="963.1">19</text>
<text x="469.9" y="963.1">17</text>
<text x="489.7" y="963.1">14</text>
<text x="509.6" y="963.1">12</text>
<text x="529.4" y="963.1">8</text>
<text x="549.2" y="963.1">6</text>
<text x="569.1" y="963.1">5</text>
<text x="589.0" y="963.1">6</text>
<text x="608.8" y="963.1">4</text>
<text x="628.6" y="963.1">3</text>
<text x="648.5" y="963.1">5</text>
<text x="668.4" y="963.1">7</text>
<text x="688.2" y="963.1">8</text>
<text x="708.0" y="963.1">8</text>
<text x="727.9" y="963.1">8</text>
<text x="747.8" y="963.1">8</text>
<text x="767.6" y="963.1">9</text>
<text x="787.5" y="963.1">10</text>
<text x="807.3" y="963.1">13</text>
<text x="827.1" y="963.1">12</text>
<text x="847.0" y="963.1">12</text>
<text x="53.0" y="987.6">12</text>
<text x="72.8" y="987.6">7</text>
<text x="92.7" y="987.6">7</text>
<text x="112.5" y="987.6">6</text>
<text x="132.4" y="987.6">5</text>
<text x="152.2" y="987.6">7</text>
<text x="172.1" y="987.6">6</text>
<text x="191.9" y="987.6">5</text>
<text x="211.8" y="987.6">5</text>
<text x="231.7" y="987.6">5</text>
<text x="251.5" y="987.6">7</text>
<text x="271.4" y="987.6">7</text>
<text x="291.2" y="987.6">7</text>
<text x="311.1" y="987.6">9</text>
<text x="330.9" y="987.6">13</text>
<text x="350.8" y="987.6">15</text>
<text x="370.6" y="987.6">17</text>
<text x="390.4" y="987.6">18</text>
<text x="410.3" y="987.6">17</text>
<text x="430.1" y="987.6">17</text>
<text x="450.0" y="987.6">16</text>
<text x="469.9" y="987.6">14</text>
<text x="489.7" y="987.6">11</text>
<text x="509.6" y="987.6">6</text>
<text x="529.4" y="987.6">4</text>
<text x="549.2" y="987.6">3</text>
<text x="569.1" y="987.6">2</text>
<text x="589.0" y="987.6">1</text>
<text x="608.8" y="987.6">1</text>
<text x="628.6" y="987.6">2</text>
<text x="648.5" y="987.6">2</text>
<text x="668.4" y="987.6">2</text>
<text x="688.2" y="987.6">2</text>
<text x="708.0" y="987.6">3</text>
<text x="727.9" y="987.6">3</text>
<text x="747.8" y="987.6">3</text>
<text x="767.6" y="987.6">6</text>
<text x="787.5" y="987.6">7</text>
<text x="807.3" y="987.6">8</text>
<text x="827.1" y="987.6">10</text>
<text x="847.0" y="987.6">12</text>
<text x="53.0" y="1012.1">4</text>
<text x="72.8" y="1012.1">7</text>
<text x="92.7" y="1012.1">8</text>
<text x="112.5" y="1012.1">5</text>
<text x="132.4" y="1012.1">4</text>
<text x="152.2" y="1012.1">7</text>
<text x="172.1" y="1012.1">7</text>
<text x="191.9" y="1012.1">4</text>
<text x="211.8" y="1012.1">7</text>
<text x="231.7" y="1012.1">7</text>
<text x="251.5" y="1012.1">7</text>
<text x="271.4" y="1012.1">5</text>
<text x="291.2" y="1012.1">8</text>
<text x="311.1" y="1012.1">9</text>
<text x="330.9" y="1012.1">9</text>
<text x="350.8" y="1012.1">16</text>
<text x="370.6" y="1012.1">16</text>
<text x="390.4" y="1012.1">15</text>
<text x="410.3" y="1012.1">15</text>
<text x="430.1" y="1012.1">14</text>
<text x="450.0" y="1012.1">14</text>
<text x="469.9" y="1012.1">9</text>
<text x="489.7" y="1012.1">4</text>
<text x="509.6" y="1012.1">9</text>
<text x="529.4" y="1012.1">0</text>
<text x="549.2" y="1012.1">0</text>
<text x="569.1" y="1012.1">1</text>
<text x="589.0" y="1012.1">2</text>
<text x="608.8" y="1012.1">3</text>
<text x="628.6" y="1012.1">0</text>
<text x="648.5" y="1012.1">4</text>
<text x="668.4" y="1012.1">4</text>
<text x="688.2" y="1012.1">4</text>
<text x="708.0" y="1012.1">0</text>
<text x="727.9" y="1012.1">0</text>
<text x="747.8" y="1012.1">4</text>
<text x="767.6" y="1012.1">4</text>
<text x="787.5" y="1012.1">0</text>
<text x="807.3" y="1012.1">7</text>
<text x="827.1" y="1012.1">5</text>
<text x="847.0" y="1012.1">10</text>
</g>
<g class="lab">
<text x="219.3" y="260.7" textLength="19.0" lengthAdjust="spacingAndGlyphs">LND</text>
<text x="243.3" y="282.7" textLength="19.2" lengthAdjust="spacingAndGlyphs">PRS</text>
<text x="296.7" y="288.6" textLength="21.6" lengthAdjust="spacingAndGlyphs">MNC</text>
<text x="467.7" y="226.7" textLength="24.0" lengthAdjust="spacingAndGlyphs">MCW</text>
<text x="195.0" y="351.2" textLength="23.3" lengthAdjust="spacingAndGlyphs">MDD</text>
<text x="238.3" y="381.7" textLength="20.0" lengthAdjust="spacingAndGlyphs">ALG</text>
<text x="301.8" y="338.9" textLength="20.0" lengthAdjust="spacingAndGlyphs">ROM</text>
<text x="410.0" y="346.7" textLength="15.0" lengthAdjust="spacingAndGlyphs">IST</text>
<text x="673.7" y="367.3" textLength="19.3" lengthAdjust="spacingAndGlyphs">DHB</text>
<text x="747.3" y="378.9" textLength="18.7" lengthAdjust="spacingAndGlyphs">HTN</text>
<text x="168.3" y="408.0" textLength="18.4" lengthAdjust="spacingAndGlyphs">CSB</text>
<text x="306.7" y="413.7" textLength="15.0" lengthAdjust="spacingAndGlyphs">TPL</text>
<text x="321.0" y="416.3" textLength="19.0" lengthAdjust="spacingAndGlyphs">KRT</text>
<text x="450.0" y="419.3" textLength="15.7" lengthAdjust="spacingAndGlyphs">TLV</text>
<text x="425.7" y="437.0" textLength="19.3" lengthAdjust="spacingAndGlyphs">CRO</text>
<text x="511.7" y="410.3" textLength="20.0" lengthAdjust="spacingAndGlyphs">BGD</text>
<text x="556.7" y="390.3" textLength="17.6" lengthAdjust="spacingAndGlyphs">THN</text>
<text x="527.7" y="480.0" textLength="19.0" lengthAdjust="spacingAndGlyphs">RYH</text>
<text x="585.0" y="477.0" textLength="19.3" lengthAdjust="spacingAndGlyphs">DUB</text>
<text x="676.0" y="398.8" textLength="19.3" lengthAdjust="spacingAndGlyphs">KBL</text>
<text x="712.7" y="423.9" textLength="23.1" lengthAdjust="spacingAndGlyphs">LHR</text>
<text x="670.8" y="451.3" textLength="18.8" lengthAdjust="spacingAndGlyphs">JCB</text>
<text x="728.6" y="449.9" textLength="24.5" lengthAdjust="spacingAndGlyphs">NDLS</text>
<text x="782.0" y="457.7" textLength="18.8" lengthAdjust="spacingAndGlyphs">KTM</text>
<text x="662.0" y="480.2" textLength="20.3" lengthAdjust="spacingAndGlyphs">KRC</text>
<text x="695.3" y="494.4" textLength="20.3" lengthAdjust="spacingAndGlyphs">AHM</text>
<text x="698.2" y="526.2" textLength="21.7" lengthAdjust="spacingAndGlyphs">MUM</text>
<text x="802.2" y="498.8" textLength="18.8" lengthAdjust="spacingAndGlyphs">KOL</text>
<text x="140.7" y="614.0" textLength="17.6" lengthAdjust="spacingAndGlyphs">SRL</text>
<text x="702.6" y="586.7" textLength="18.2" lengthAdjust="spacingAndGlyphs">DBT</text>
<text x="725.7" y="614.1" textLength="17.3" lengthAdjust="spacingAndGlyphs">TRV</text>
<text x="744.4" y="628.6" textLength="20.3" lengthAdjust="spacingAndGlyphs">CLM</text>
<text x="703.4" y="656.0" textLength="18.5" lengthAdjust="spacingAndGlyphs">MLD</text>
<text x="519.0" y="665.3" textLength="20.0" lengthAdjust="spacingAndGlyphs">MGD</text>
<text x="462.7" y="693.3" textLength="19.0" lengthAdjust="spacingAndGlyphs">NBB</text>
<text x="478.3" y="737.7" textLength="19.0" lengthAdjust="spacingAndGlyphs">DRS</text>
<text x="544.3" y="783.3" textLength="20.0" lengthAdjust="spacingAndGlyphs">ANN</text>
<text x="424.3" y="828.0" textLength="20.0" lengthAdjust="spacingAndGlyphs">HRR</text>
<text x="334.5" y="913.7" textLength="18.8" lengthAdjust="spacingAndGlyphs">LSK</text>
<text x="341.7" y="959.3" textLength="17.3" lengthAdjust="spacingAndGlyphs">CPT</text>
</g>
</g>
<rect x="53.0" y="191.1" width="794.0" height="817.5" fill="none" stroke="#000" stroke-width="2"/>
<g id="axes" font-size="17">
<line x1="47.5" y1="191.1" x2="53.0" y2="191.1" stroke="#000" stroke-width="1.6"/>
<text x="43.2" y="197.1" text-anchor="end" textLength="26.5" lengthAdjust="spacingAndGlyphs">60N</text>
<line x1="47.5" y1="272.9" x2="53.0" y2="272.9" stroke="#000" stroke-width="1.6"/>
<text x="43.2" y="278.9" text-anchor="end" textLength="26.5" lengthAdjust="spacingAndGlyphs">50N</text>
<line x1="47.5" y1="354.6" x2="53.0" y2="354.6" stroke="#000" stroke-width="1.6"/>
<text x="43.2" y="360.6" text-anchor="end" textLength="26.5" lengthAdjust="spacingAndGlyphs">40N</text>
<line x1="47.5" y1="436.4" x2="53.0" y2="436.4" stroke="#000" stroke-width="1.6"/>
<text x="43.2" y="442.4" text-anchor="end" textLength="26.5" lengthAdjust="spacingAndGlyphs">30N</text>
<line x1="47.5" y1="518.1" x2="53.0" y2="518.1" stroke="#000" stroke-width="1.6"/>
<text x="43.2" y="524.1" text-anchor="end" textLength="26.5" lengthAdjust="spacingAndGlyphs">20N</text>
<line x1="47.5" y1="599.9" x2="53.0" y2="599.9" stroke="#000" stroke-width="1.6"/>
<text x="43.2" y="605.9" text-anchor="end" textLength="26.5" lengthAdjust="spacingAndGlyphs">10N</text>
<line x1="47.5" y1="681.6" x2="53.0" y2="681.6" stroke="#000" stroke-width="1.6"/>
<text x="43.2" y="687.6" text-anchor="end" textLength="18.2" lengthAdjust="spacingAndGlyphs">EQ</text>
<line x1="47.5" y1="763.4" x2="53.0" y2="763.4" stroke="#000" stroke-width="1.6"/>
<text x="43.2" y="769.4" text-anchor="end" textLength="26.5" lengthAdjust="spacingAndGlyphs">10S</text>
<line x1="47.5" y1="845.1" x2="53.0" y2="845.1" stroke="#000" stroke-width="1.6"/>
<text x="43.2" y="851.1" text-anchor="end" textLength="26.5" lengthAdjust="spacingAndGlyphs">20S</text>
<line x1="47.5" y1="926.9" x2="53.0" y2="926.9" stroke="#000" stroke-width="1.6"/>
<text x="43.2" y="932.9" text-anchor="end" textLength="26.5" lengthAdjust="spacingAndGlyphs">30S</text>
<line x1="47.5" y1="1008.6" x2="53.0" y2="1008.6" stroke="#000" stroke-width="1.6"/>
<text x="43.2" y="1014.6" text-anchor="end" textLength="26.5" lengthAdjust="spacingAndGlyphs">40S</text>
<line x1="86.1" y1="1008.6" x2="86.1" y2="1013.8" stroke="#000" stroke-width="1.6"/>
<text x="86.1" y="1029.8" text-anchor="middle" textLength="28.5" lengthAdjust="spacingAndGlyphs">20W</text>
<line x1="152.2" y1="1008.6" x2="152.2" y2="1013.8" stroke="#000" stroke-width="1.6"/>
<text x="152.2" y="1029.8" text-anchor="middle" textLength="28.5" lengthAdjust="spacingAndGlyphs">10W</text>
<line x1="218.4" y1="1008.6" x2="218.4" y2="1013.8" stroke="#000" stroke-width="1.6"/>
<text x="218.4" y="1029.8" text-anchor="middle" textLength="7.8" lengthAdjust="spacingAndGlyphs">0</text>
<line x1="284.6" y1="1008.6" x2="284.6" y2="1013.8" stroke="#000" stroke-width="1.6"/>
<text x="284.6" y="1029.8" text-anchor="middle" textLength="28.5" lengthAdjust="spacingAndGlyphs">10E</text>
<line x1="350.8" y1="1008.6" x2="350.8" y2="1013.8" stroke="#000" stroke-width="1.6"/>
<text x="350.8" y="1029.8" text-anchor="middle" textLength="28.5" lengthAdjust="spacingAndGlyphs">20E</text>
<line x1="416.9" y1="1008.6" x2="416.9" y2="1013.8" stroke="#000" stroke-width="1.6"/>
<text x="416.9" y="1029.8" text-anchor="middle" textLength="28.5" lengthAdjust="spacingAndGlyphs">30E</text>
<line x1="483.1" y1="1008.6" x2="483.1" y2="1013.8" stroke="#000" stroke-width="1.6"/>
<text x="483.1" y="1029.8" text-anchor="middle" textLength="28.5" lengthAdjust="spacingAndGlyphs">40E</text>
<line x1="549.2" y1="1008.6" x2="549.2" y2="1013.8" stroke="#000" stroke-width="1.6"/>
<text x="549.2" y="1029.8" text-anchor="middle" textLength="28.5" lengthAdjust="spacingAndGlyphs">50E</text>
<line x1="615.4" y1="1008.6" x2="615.4" y2="1013.8" stroke="#000" stroke-width="1.6"/>
<text x="615.4" y="1029.8" text-anchor="middle" textLength="28.5" lengthAdjust="spacingAndGlyphs">60E</text>
<line x1="681.6" y1="1008.6" x2="681.6" y2="1013.8" stroke="#000" stroke-width="1.6"/>
<text x="681.6" y="1029.8" text-anchor="middle" textLength="28.5" lengthAdjust="spacingAndGlyphs">70E</text>
<line x1="747.8" y1="1008.6" x2="747.8" y2="1013.8" stroke="#000" stroke-width="1.6"/>
<text x="747.8" y="1029.8" text-anchor="middle" textLength="28.5" lengthAdjust="spacingAndGlyphs">80E</text>
<line x1="813.9" y1="1008.6" x2="813.9" y2="1013.8" stroke="#000" stroke-width="1.6"/>
<text x="813.9" y="1029.8" text-anchor="middle" textLength="28.5" lengthAdjust="spacingAndGlyphs">90E</text>
</g>
<text x="337.5" y="119.6" font-size="28.4" fill="#8200e6" textLength="68.8" lengthAdjust="spacingAndGlyphs">NCEP</text>
<text x="422.1" y="119.6" font-size="28.4" fill="#8200e6" textLength="48.2" lengthAdjust="spacingAndGlyphs">GFS</text>
<text x="486.1" y="119.6" font-size="28.4" fill="#8200e6" textLength="129.3" lengthAdjust="spacingAndGlyphs">GUIDANCE</text>
<text x="261.0" y="152.2" font-size="28.1" fill="#eb0087" textLength="43.8" lengthAdjust="spacingAndGlyphs">Dew</text>
<text x="319.5" y="152.2" font-size="28.1" fill="#eb0087" textLength="59.0" lengthAdjust="spacingAndGlyphs">Point</text>
<text x="390.3" y="152.2" font-size="28.1" fill="#eb0087" textLength="144.6" lengthAdjust="spacingAndGlyphs">Temperature</text>
<text x="549.5" y="152.2" font-size="28.1" fill="#eb0087" textLength="35.2" lengthAdjust="spacingAndGlyphs">2m</text>
<text x="600.6" y="152.2" font-size="28.1" fill="#eb0087" textLength="52.4" lengthAdjust="spacingAndGlyphs">(Deg</text>
<text x="665.8" y="152.2" font-size="28.1" fill="#eb0087" textLength="25.5" lengthAdjust="spacingAndGlyphs">C)</text>
<text x="153.0" y="183.9" font-size="25.6" fill="#000" textLength="68.4" lengthAdjust="spacing">VALID</text>
<text x="238.0" y="183.9" font-size="25.6" fill="#000" textLength="50.0" lengthAdjust="spacing">For:</text>
<text x="305.3" y="183.9" font-size="25.6" fill="#000" textLength="149.5" lengthAdjust="spacing">14OCT2025</text>
<text x="472.0" y="183.9" font-size="25.6" fill="#000" textLength="25.8" lengthAdjust="spacing">at</text>
<text x="512.4" y="183.9" font-size="25.6" fill="#000" textLength="67.2" lengthAdjust="spacing">0530</text>
<text x="596.8" y="183.9" font-size="25.6" fill="#000" textLength="36.5" lengthAdjust="spacing">IST</text>
<text x="648.0" y="183.9" font-size="25.6" fill="#000" textLength="86.0" lengthAdjust="spacing">/0000</text>
<text x="751.0" y="183.9" font-size="25.6" fill="#000" textLength="47.6" lengthAdjust="spacing">UTC</text>
<rect x="4.9" y="1031.1" width="96" height="21.5" fill="#2a44ff"/>
<circle cx="15.6" cy="1041.7" r="8" fill="none" stroke="#fff" stroke-width="2.4"/>
<text x="15.8" y="1046.2" font-size="12.5" fill="#dde4ff" text-anchor="middle" class="thin">C</text>
<text x="30" y="1047.4" font-size="15" fill="#c8d4ff" textLength="67.2" lengthAdjust="spacingAndGlyphs" class="thin">WEACLIM</text>
<text x="247.2" y="1056.4" font-size="24.5" fill="#3c5aff" class="thin" textLength="74.5" lengthAdjust="spacingAndGlyphs">INITIAL</text>
<text x="345.3" y="1056.4" font-size="24.5" fill="#3c5aff" class="thin" textLength="360.3" lengthAdjust="spacing">CONDITIONS:00Z13OCT2025</text>
<polygon points="93.8,1074.2 134.4,1062.8 134.4,1085.6" fill="#3c0096"/>
<rect x="134.4" y="1062.8" width="40.0" height="22.8" fill="#0000c8"/>
<rect x="174.4" y="1062.8" width="40.0" height="22.8" fill="#0a32ff"/>
<rect x="214.4" y="1062.8" width="40.0" height="22.8" fill="#0a78ff"/>
<rect x="254.4" y="1062.8" width="40.0" height="22.8" fill="#1ea0ff"/>
<rect x="294.4" y="1062.8" width="40.0" height="22.8" fill="#50d2ff"/>
<rect x="334.4" y="1062.8" width="40.0" height="22.8" fill="#8cf0ff"/>
<rect x="374.4" y="1062.8" width="40.0" height="22.8" fill="#ffffff"/>
<rect x="414.4" y="1062.8" width="40.0" height="22.8" fill="#fff5aa"/>
<rect x="454.4" y="1062.8" width="40.0" height="22.8" fill="#ffe178"/>
<rect x="494.4" y="1062.8" width="40.0" height="22.8" fill="#ffbe3c"/>
<rect x="534.4" y="1062.8" width="40.0" height="22.8" fill="#ffa000"/>
<rect x="574.4" y="1062.8" width="40.0" height="22.8" fill="#ff6400"/>
<rect x="614.4" y="1062.8" width="40.0" height="22.8" fill="#ff3200"/>
<rect x="654.4" y="1062.8" width="40.0" height="22.8" fill="#e11400"/>
<rect x="694.4" y="1062.8" width="40.0" height="22.8" fill="#c00000"/>
<rect x="734.4" y="1062.8" width="40.0" height="22.8" fill="#a50000"/>
<polygon points="774.4,1062.8 774.4,1085.6 816.4,1074.2" fill="#000"/>
<g fill="none" stroke="#000" stroke-width="1.2">
<polygon points="93.8,1074.2 134.4,1062.8 134.4,1085.6"/>
<rect x="134.4" y="1062.8" width="40.0" height="22.8"/>
<rect x="174.4" y="1062.8" width="40.0" height="22.8"/>
<rect x="214.4" y="1062.8" width="40.0" height="22.8"/>
<rect x="254.4" y="1062.8" width="40.0" height="22.8"/>
<rect x="294.4" y="1062.8" width="40.0" height="22.8"/>
<rect x="334.4" y="1062.8" width="40.0" height="22.8"/>
<rect x="374.4" y="1062.8" width="40.0" height="22.8"/>
<rect x="414.4" y="1062.8" width="40.0" height="22.8"/>
<rect x="454.4" y="1062.8" width="40.0" height="22.8"/>
<rect x="494.4" y="1062.8" width="40.0" height="22.8"/>
<rect x="534.4" y="1062.8" width="40.0" height="22.8"/>
<rect x="574.4" y="1062.8" width="40.0" height="22.8"/>
<rect x="614.4" y="1062.8" width="40.0" height="22.8"/>
<rect x="654.4" y="1062.8" width="40.0" height="22.8"/>
<rect x="694.4" y="1062.8" width="40.0" height="22.8"/>
<rect x="734.4" y="1062.8" width="40.0" height="22.8"/>
</g>
<g font-size="21.5" text-anchor="middle">
<text x="135.2" y="1105.4">&#8211;35</text>
<text x="175.2" y="1105.4">&#8211;30</text>
<text x="215.2" y="1105.4">&#8211;25</text>
<text x="255.2" y="1105.4">&#8211;20</text>
<text x="295.2" y="1105.4">&#8211;15</text>
<text x="335.2" y="1105.4">&#8211;10</text>
<text x="375.2" y="1105.4">&#8211;5</text>
<text x="414.4" y="1105.4">0</text>
<text x="454.4" y="1105.4">5</text>
<text x="494.4" y="1105.4">10</text>
<text x="534.4" y="1105.4">15</text>
<text x="574.4" y="1105.4">20</text>
<text x="614.4" y="1105.4">25</text>
<text x="654.4" y="1105.4">30</text>
<text x="694.4" y="1105.4">35</text>
<text x="734.4" y="1105.4">40</text>
<text x="774.4" y="1105.4">45</text>
</g>
</svg>
</body></html>
